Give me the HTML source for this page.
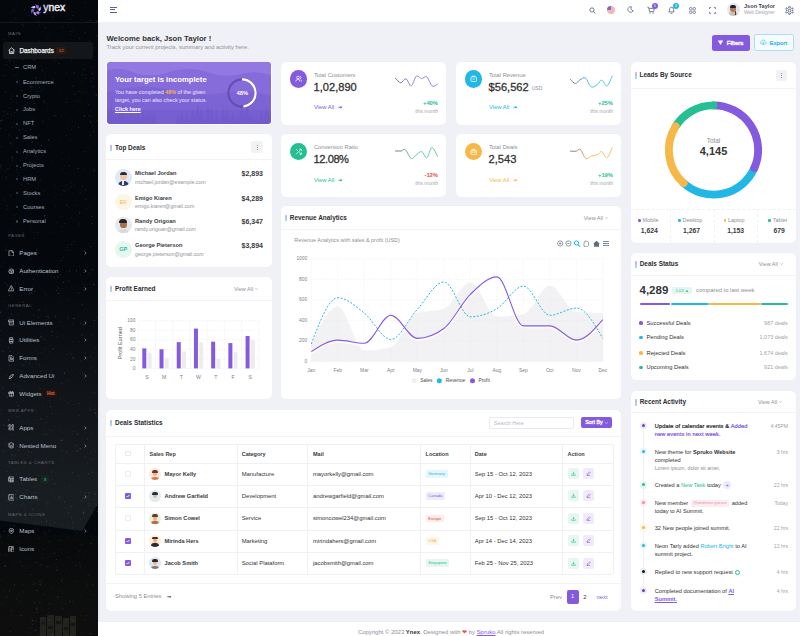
<!DOCTYPE html>
<html><head><meta charset="utf-8">
<style>
*{box-sizing:border-box;margin:0;padding:0}
html,body{width:800px;height:636px;overflow:hidden;background:#f0f1f7;font-family:"Liberation Sans",sans-serif;color:#333335}
.a{position:absolute}
#sb{position:absolute;left:0;top:0;width:100px;height:636px;background:#04070b;overflow:hidden}
#hd{position:absolute;left:98px;top:0;width:702px;height:21.5px;background:#fff}
.card{position:absolute;background:#fff;border-radius:5px;box-shadow:0 0 1px rgba(0,0,0,.05)}
.ct{position:absolute;font-weight:bold;font-size:6.45px;color:#2b2c30;white-space:nowrap}
.ct:before{content:"";position:absolute;left:-4.6px;top:1px;width:1.7px;height:6.4px;background:linear-gradient(#cdb6f6 0%,#c2b4f2 45%,#9edcf1 55%,#9edcf1 100%);border-radius:.5px}
.hr{position:absolute;left:0;right:0;height:1px;background:#f3f3f6}
.t{position:absolute;white-space:nowrap}
.va{position:absolute;font-size:5.5px;color:#8c9097;white-space:nowrap}
.nav{position:absolute;left:19px;font-size:6.2px;color:#bcc1cc;white-space:nowrap}
.sub{position:absolute;left:23px;font-size:5.75px;color:#a3aabb;white-space:nowrap}
.sub.act:before{width:4px;height:0.9px;left:-8px;top:3.2px;border-radius:0;background:#6b7080}
.sub:before{content:"";position:absolute;left:-7.2px;top:2.6px;width:2.2px;height:2.2px;border-radius:50%;background:#3f424a}
.lbl{position:absolute;left:8px;font-size:4.3px;letter-spacing:.5px;color:#656972;white-space:nowrap}
.chev{position:absolute;left:84px;font-size:5px;color:#8a8e96}
</style></head><body>
<div id="sb">
<div class="a" style="left:0;top:270px;width:98px;height:265px;background:linear-gradient(180deg,rgba(28,32,37,0) 0%,rgba(28,32,37,.5) 45%,rgba(28,33,37,.85) 85%,rgba(28,33,37,.85) 100%);clip-path:polygon(0 0,100% 0,100% 88%,84% 98.5%,0 94.5%)"></div>
<div class="a" style="left:0;top:535px;width:98px;height:101px;background:linear-gradient(180deg,rgba(14,14,12,.3) 0%,rgba(16,16,14,.7) 60%,rgba(16,16,14,.8) 100%)"></div>
<svg class="a" style="left:38px;top:614px" width="40" height="22" viewBox="0 0 40 22"><g fill="#2a2924" opacity=".75"><rect x="2" y="3" width="6" height="19"/><rect x="9" y="1" width="7" height="21"/><rect x="17" y="2" width="7" height="20"/><rect x="25" y="4" width="6" height="18"/><rect x="32" y="2" width="6" height="20"/></g><g fill="#14130f" opacity=".8"><rect x="3" y="8" width="4" height="3"/><rect x="10" y="12" width="5" height="3"/><rect x="18" y="7" width="5" height="3"/><rect x="26" y="13" width="4" height="3"/><rect x="33" y="9" width="4" height="3"/></g></svg>
<svg class="a" style="left:0;top:0" width="98" height="636" viewBox="0 0 98 636"><circle cx="31.7" cy="95.9" r="0.42" fill="#9aa4b8" opacity="0.25"/><circle cx="52.5" cy="232.6" r="0.53" fill="#9aa4b8" opacity="0.13"/><circle cx="3.7" cy="275.8" r="0.42" fill="#9aa4b8" opacity="0.13"/><circle cx="41.6" cy="525.9" r="0.46" fill="#9aa4b8" opacity="0.14"/><circle cx="61.5" cy="602.7" r="0.50" fill="#9aa4b8" opacity="0.24"/><circle cx="95.7" cy="29.6" r="0.47" fill="#9aa4b8" opacity="0.29"/><circle cx="14.1" cy="74.9" r="0.60" fill="#9aa4b8" opacity="0.18"/><circle cx="17.7" cy="369.9" r="0.49" fill="#9aa4b8" opacity="0.25"/><circle cx="53.7" cy="39.9" r="0.45" fill="#9aa4b8" opacity="0.13"/><circle cx="66.7" cy="271.9" r="0.55" fill="#9aa4b8" opacity="0.18"/><circle cx="44.4" cy="190.7" r="0.57" fill="#9aa4b8" opacity="0.28"/><circle cx="23.9" cy="365.3" r="0.62" fill="#9aa4b8" opacity="0.23"/><circle cx="71.5" cy="183.1" r="0.43" fill="#9aa4b8" opacity="0.32"/><circle cx="41.0" cy="481.5" r="0.52" fill="#9aa4b8" opacity="0.15"/><circle cx="3.8" cy="425.0" r="0.54" fill="#9aa4b8" opacity="0.27"/><circle cx="85.8" cy="199.5" r="0.55" fill="#9aa4b8" opacity="0.26"/><circle cx="56.8" cy="290.1" r="0.64" fill="#9aa4b8" opacity="0.29"/><circle cx="46.5" cy="422.4" r="0.58" fill="#9aa4b8" opacity="0.13"/><circle cx="63.4" cy="631.6" r="0.47" fill="#9aa4b8" opacity="0.28"/><circle cx="37.8" cy="425.3" r="0.52" fill="#9aa4b8" opacity="0.12"/><circle cx="16.5" cy="74.5" r="0.59" fill="#9aa4b8" opacity="0.13"/><circle cx="12.7" cy="157.5" r="0.62" fill="#9aa4b8" opacity="0.20"/><circle cx="7.9" cy="285.7" r="0.62" fill="#9aa4b8" opacity="0.23"/><circle cx="80.3" cy="549.5" r="0.50" fill="#9aa4b8" opacity="0.18"/><circle cx="35.2" cy="562.3" r="0.44" fill="#9aa4b8" opacity="0.31"/><circle cx="17.3" cy="147.5" r="0.52" fill="#9aa4b8" opacity="0.17"/><circle cx="57.7" cy="167.1" r="0.50" fill="#9aa4b8" opacity="0.12"/><circle cx="36.2" cy="360.2" r="0.57" fill="#9aa4b8" opacity="0.31"/><circle cx="50.5" cy="392.8" r="0.41" fill="#9aa4b8" opacity="0.26"/><circle cx="88.2" cy="496.1" r="0.60" fill="#9aa4b8" opacity="0.29"/><circle cx="38.5" cy="253.8" r="0.56" fill="#9aa4b8" opacity="0.14"/><circle cx="6.1" cy="42.8" r="0.44" fill="#9aa4b8" opacity="0.16"/><circle cx="33.3" cy="33.4" r="0.44" fill="#9aa4b8" opacity="0.12"/><circle cx="9.9" cy="231.3" r="0.62" fill="#9aa4b8" opacity="0.13"/><circle cx="60.2" cy="94.5" r="0.49" fill="#9aa4b8" opacity="0.17"/><circle cx="35.7" cy="78.1" r="0.65" fill="#9aa4b8" opacity="0.29"/><circle cx="45.7" cy="307.7" r="0.43" fill="#9aa4b8" opacity="0.14"/><circle cx="33.6" cy="168.4" r="0.44" fill="#9aa4b8" opacity="0.29"/><circle cx="2.3" cy="604.8" r="0.44" fill="#9aa4b8" opacity="0.23"/><circle cx="53.2" cy="17.2" r="0.64" fill="#9aa4b8" opacity="0.23"/><circle cx="84.6" cy="442.8" r="0.49" fill="#9aa4b8" opacity="0.17"/><circle cx="16.4" cy="491.0" r="0.59" fill="#9aa4b8" opacity="0.23"/><circle cx="32.3" cy="141.9" r="0.65" fill="#9aa4b8" opacity="0.28"/><circle cx="83.6" cy="512.7" r="0.58" fill="#9aa4b8" opacity="0.28"/><circle cx="22.2" cy="329.2" r="0.41" fill="#9aa4b8" opacity="0.19"/><circle cx="2.7" cy="177.7" r="0.57" fill="#9aa4b8" opacity="0.17"/><circle cx="93.7" cy="284.4" r="0.65" fill="#9aa4b8" opacity="0.31"/><circle cx="93.6" cy="231.9" r="0.46" fill="#9aa4b8" opacity="0.16"/><circle cx="19.3" cy="130.0" r="0.63" fill="#9aa4b8" opacity="0.24"/><circle cx="82.4" cy="304.9" r="0.60" fill="#9aa4b8" opacity="0.25"/><circle cx="8.3" cy="420.1" r="0.60" fill="#9aa4b8" opacity="0.30"/><circle cx="73.5" cy="304.0" r="0.60" fill="#9aa4b8" opacity="0.16"/><circle cx="32.6" cy="509.3" r="0.50" fill="#9aa4b8" opacity="0.31"/><circle cx="39.3" cy="602.2" r="0.44" fill="#9aa4b8" opacity="0.26"/><circle cx="12.4" cy="96.1" r="0.60" fill="#9aa4b8" opacity="0.30"/><circle cx="14.3" cy="525.7" r="0.56" fill="#9aa4b8" opacity="0.32"/><circle cx="34.3" cy="348.9" r="0.40" fill="#9aa4b8" opacity="0.15"/><circle cx="95.1" cy="413.2" r="0.63" fill="#9aa4b8" opacity="0.23"/><circle cx="42.5" cy="554.4" r="0.45" fill="#9aa4b8" opacity="0.29"/><circle cx="24.7" cy="186.3" r="0.55" fill="#9aa4b8" opacity="0.17"/><circle cx="25.4" cy="266.5" r="0.63" fill="#9aa4b8" opacity="0.15"/><circle cx="34.7" cy="291.4" r="0.63" fill="#9aa4b8" opacity="0.24"/><circle cx="41.2" cy="583.7" r="0.53" fill="#9aa4b8" opacity="0.22"/><circle cx="51.3" cy="11.9" r="0.45" fill="#9aa4b8" opacity="0.21"/><circle cx="0.4" cy="508.3" r="0.52" fill="#9aa4b8" opacity="0.15"/><circle cx="71.1" cy="353.9" r="0.53" fill="#9aa4b8" opacity="0.19"/><circle cx="54.4" cy="498.8" r="0.54" fill="#9aa4b8" opacity="0.14"/><circle cx="24.4" cy="176.1" r="0.53" fill="#9aa4b8" opacity="0.27"/><circle cx="55.0" cy="483.4" r="0.51" fill="#9aa4b8" opacity="0.30"/><circle cx="60.0" cy="321.5" r="0.57" fill="#9aa4b8" opacity="0.22"/><circle cx="44.3" cy="339.2" r="0.64" fill="#9aa4b8" opacity="0.22"/><circle cx="68.5" cy="557.5" r="0.46" fill="#9aa4b8" opacity="0.31"/><circle cx="54.8" cy="599.9" r="0.43" fill="#9aa4b8" opacity="0.29"/><circle cx="11.9" cy="281.2" r="0.46" fill="#9aa4b8" opacity="0.13"/><circle cx="7.2" cy="425.8" r="0.62" fill="#9aa4b8" opacity="0.28"/><circle cx="15.1" cy="455.5" r="0.44" fill="#9aa4b8" opacity="0.25"/><circle cx="86.5" cy="615.4" r="0.64" fill="#9aa4b8" opacity="0.16"/><circle cx="39.0" cy="309.9" r="0.61" fill="#9aa4b8" opacity="0.32"/><circle cx="15.8" cy="274.4" r="0.48" fill="#9aa4b8" opacity="0.22"/><circle cx="19.2" cy="202.6" r="0.40" fill="#9aa4b8" opacity="0.26"/><circle cx="54.3" cy="280.1" r="0.48" fill="#9aa4b8" opacity="0.12"/><circle cx="61.1" cy="325.8" r="0.65" fill="#9aa4b8" opacity="0.13"/><circle cx="77.3" cy="618.0" r="0.47" fill="#9aa4b8" opacity="0.14"/><circle cx="3.9" cy="495.4" r="0.43" fill="#9aa4b8" opacity="0.17"/><circle cx="41.4" cy="579.7" r="0.46" fill="#9aa4b8" opacity="0.28"/><circle cx="14.6" cy="584.6" r="0.58" fill="#9aa4b8" opacity="0.23"/><circle cx="8.8" cy="36.6" r="0.51" fill="#9aa4b8" opacity="0.26"/><circle cx="7.1" cy="596.8" r="0.60" fill="#9aa4b8" opacity="0.25"/><circle cx="8.2" cy="544.6" r="0.62" fill="#9aa4b8" opacity="0.13"/><circle cx="44.5" cy="215.7" r="0.63" fill="#9aa4b8" opacity="0.23"/><circle cx="26.3" cy="82.2" r="0.46" fill="#9aa4b8" opacity="0.23"/><circle cx="10.7" cy="102.7" r="0.45" fill="#9aa4b8" opacity="0.13"/><circle cx="30.6" cy="194.0" r="0.47" fill="#9aa4b8" opacity="0.27"/><circle cx="49.0" cy="113.1" r="0.40" fill="#9aa4b8" opacity="0.19"/><circle cx="24.5" cy="9.8" r="0.54" fill="#9aa4b8" opacity="0.27"/><circle cx="18.6" cy="301.9" r="0.43" fill="#9aa4b8" opacity="0.31"/><circle cx="80.3" cy="274.9" r="0.61" fill="#9aa4b8" opacity="0.22"/><circle cx="38.5" cy="322.3" r="0.65" fill="#9aa4b8" opacity="0.26"/><circle cx="33.6" cy="529.3" r="0.56" fill="#9aa4b8" opacity="0.26"/><circle cx="39.7" cy="221.0" r="0.43" fill="#9aa4b8" opacity="0.13"/><circle cx="6.9" cy="471.2" r="0.44" fill="#9aa4b8" opacity="0.17"/><circle cx="8.3" cy="535.0" r="0.57" fill="#9aa4b8" opacity="0.29"/><circle cx="27.6" cy="154.0" r="0.51" fill="#9aa4b8" opacity="0.18"/><circle cx="15.4" cy="283.5" r="0.64" fill="#9aa4b8" opacity="0.17"/><circle cx="95.3" cy="347.9" r="0.64" fill="#9aa4b8" opacity="0.17"/><circle cx="30.3" cy="226.8" r="0.50" fill="#9aa4b8" opacity="0.12"/><circle cx="46.5" cy="319.8" r="0.53" fill="#9aa4b8" opacity="0.16"/><circle cx="0.5" cy="168.0" r="0.50" fill="#9aa4b8" opacity="0.14"/><circle cx="4.1" cy="14.3" r="0.46" fill="#9aa4b8" opacity="0.18"/><circle cx="57.4" cy="336.6" r="0.56" fill="#9aa4b8" opacity="0.27"/><circle cx="70.2" cy="559.1" r="0.48" fill="#9aa4b8" opacity="0.20"/><circle cx="96.5" cy="95.1" r="0.56" fill="#9aa4b8" opacity="0.26"/><circle cx="4.3" cy="531.2" r="0.56" fill="#9aa4b8" opacity="0.30"/><circle cx="71.9" cy="516.6" r="0.53" fill="#9aa4b8" opacity="0.15"/><circle cx="49.4" cy="531.0" r="0.61" fill="#9aa4b8" opacity="0.28"/><circle cx="57.2" cy="567.8" r="0.57" fill="#9aa4b8" opacity="0.26"/><circle cx="22.5" cy="19.8" r="0.49" fill="#9aa4b8" opacity="0.15"/><circle cx="10.3" cy="531.6" r="0.56" fill="#9aa4b8" opacity="0.23"/><circle cx="61.4" cy="432.9" r="0.40" fill="#9aa4b8" opacity="0.22"/><circle cx="78.2" cy="475.9" r="0.53" fill="#9aa4b8" opacity="0.22"/><circle cx="64.6" cy="42.0" r="0.46" fill="#9aa4b8" opacity="0.27"/><circle cx="7.3" cy="168.9" r="0.45" fill="#9aa4b8" opacity="0.27"/><circle cx="72.5" cy="620.6" r="0.50" fill="#9aa4b8" opacity="0.22"/><circle cx="46.9" cy="434.8" r="0.55" fill="#9aa4b8" opacity="0.27"/><circle cx="63.0" cy="49.3" r="0.46" fill="#9aa4b8" opacity="0.15"/><circle cx="72.8" cy="193.6" r="0.40" fill="#9aa4b8" opacity="0.23"/><circle cx="5.9" cy="170.9" r="0.57" fill="#9aa4b8" opacity="0.25"/><circle cx="66.2" cy="185.0" r="0.52" fill="#9aa4b8" opacity="0.22"/><circle cx="45.7" cy="75.4" r="0.45" fill="#9aa4b8" opacity="0.30"/><circle cx="95.9" cy="595.5" r="0.51" fill="#9aa4b8" opacity="0.12"/><circle cx="80.3" cy="615.7" r="0.47" fill="#9aa4b8" opacity="0.21"/><circle cx="20.6" cy="601.4" r="0.55" fill="#9aa4b8" opacity="0.16"/><circle cx="13.9" cy="333.3" r="0.43" fill="#9aa4b8" opacity="0.31"/><circle cx="80.4" cy="323.6" r="0.58" fill="#9aa4b8" opacity="0.30"/><circle cx="22.7" cy="570.9" r="0.41" fill="#9aa4b8" opacity="0.22"/><circle cx="0.4" cy="312.7" r="0.48" fill="#9aa4b8" opacity="0.21"/><circle cx="13.8" cy="218.8" r="0.61" fill="#9aa4b8" opacity="0.18"/><circle cx="0.2" cy="477.5" r="0.43" fill="#9aa4b8" opacity="0.29"/><circle cx="90.8" cy="453.5" r="0.47" fill="#9aa4b8" opacity="0.30"/><circle cx="36.5" cy="249.9" r="0.55" fill="#9aa4b8" opacity="0.32"/><circle cx="35.3" cy="272.2" r="0.41" fill="#9aa4b8" opacity="0.18"/><circle cx="10.0" cy="530.9" r="0.63" fill="#9aa4b8" opacity="0.18"/><circle cx="24.4" cy="169.0" r="0.45" fill="#9aa4b8" opacity="0.22"/><circle cx="36.6" cy="608.1" r="0.60" fill="#9aa4b8" opacity="0.30"/><circle cx="61.8" cy="580.9" r="0.54" fill="#9aa4b8" opacity="0.31"/><circle cx="70.5" cy="31.5" r="0.51" fill="#9aa4b8" opacity="0.27"/><circle cx="73.8" cy="409.9" r="0.41" fill="#9aa4b8" opacity="0.18"/><circle cx="90.8" cy="81.0" r="0.49" fill="#9aa4b8" opacity="0.21"/><circle cx="29.2" cy="470.0" r="0.47" fill="#9aa4b8" opacity="0.32"/><circle cx="64.3" cy="191.3" r="0.50" fill="#9aa4b8" opacity="0.23"/><circle cx="16.4" cy="102.8" r="0.63" fill="#9aa4b8" opacity="0.16"/><circle cx="48.7" cy="139.9" r="0.65" fill="#9aa4b8" opacity="0.30"/><circle cx="44.1" cy="88.8" r="0.42" fill="#9aa4b8" opacity="0.16"/><circle cx="33.5" cy="57.9" r="0.46" fill="#9aa4b8" opacity="0.17"/><circle cx="55.8" cy="564.3" r="0.50" fill="#9aa4b8" opacity="0.27"/><circle cx="40.6" cy="333.4" r="0.48" fill="#9aa4b8" opacity="0.20"/><circle cx="6.1" cy="176.5" r="0.43" fill="#9aa4b8" opacity="0.31"/><circle cx="49.3" cy="400.4" r="0.45" fill="#9aa4b8" opacity="0.29"/><circle cx="26.6" cy="158.0" r="0.51" fill="#9aa4b8" opacity="0.20"/><circle cx="93.5" cy="539.8" r="0.41" fill="#9aa4b8" opacity="0.29"/><circle cx="3.2" cy="451.2" r="0.52" fill="#9aa4b8" opacity="0.30"/><circle cx="57.5" cy="0.1" r="0.63" fill="#9aa4b8" opacity="0.20"/><circle cx="80.9" cy="544.1" r="0.46" fill="#9aa4b8" opacity="0.31"/><circle cx="10.7" cy="98.2" r="0.57" fill="#9aa4b8" opacity="0.22"/><circle cx="92.3" cy="459.0" r="0.59" fill="#9aa4b8" opacity="0.25"/><circle cx="44.8" cy="350.8" r="0.60" fill="#9aa4b8" opacity="0.13"/><circle cx="22.8" cy="585.1" r="0.48" fill="#9aa4b8" opacity="0.25"/><circle cx="12.5" cy="160.1" r="0.57" fill="#9aa4b8" opacity="0.25"/><circle cx="11.0" cy="44.7" r="0.55" fill="#9aa4b8" opacity="0.22"/><circle cx="38.0" cy="142.2" r="0.40" fill="#9aa4b8" opacity="0.24"/><circle cx="29.5" cy="293.0" r="0.56" fill="#9aa4b8" opacity="0.31"/><circle cx="86.6" cy="302.3" r="0.46" fill="#9aa4b8" opacity="0.17"/><circle cx="94.1" cy="448.2" r="0.41" fill="#9aa4b8" opacity="0.18"/><circle cx="48.8" cy="429.0" r="0.46" fill="#9aa4b8" opacity="0.20"/><circle cx="65.4" cy="588.4" r="0.41" fill="#9aa4b8" opacity="0.17"/><circle cx="33.1" cy="267.5" r="0.45" fill="#9aa4b8" opacity="0.26"/><circle cx="78.1" cy="470.1" r="0.45" fill="#9aa4b8" opacity="0.22"/><circle cx="95.0" cy="198.3" r="0.46" fill="#9aa4b8" opacity="0.28"/><circle cx="21.7" cy="483.7" r="0.64" fill="#9aa4b8" opacity="0.18"/><circle cx="48.6" cy="119.1" r="0.50" fill="#9aa4b8" opacity="0.16"/><circle cx="65.2" cy="603.4" r="0.50" fill="#9aa4b8" opacity="0.15"/><circle cx="20.9" cy="619.5" r="0.41" fill="#9aa4b8" opacity="0.15"/><circle cx="5.9" cy="250.2" r="0.62" fill="#9aa4b8" opacity="0.30"/><circle cx="71.8" cy="634.4" r="0.48" fill="#9aa4b8" opacity="0.31"/><circle cx="18.2" cy="595.2" r="0.41" fill="#9aa4b8" opacity="0.27"/><circle cx="65.1" cy="240.8" r="0.48" fill="#9aa4b8" opacity="0.19"/><circle cx="16.6" cy="1.8" r="0.49" fill="#9aa4b8" opacity="0.18"/><circle cx="93.6" cy="78.7" r="0.45" fill="#9aa4b8" opacity="0.31"/><circle cx="34.9" cy="522.5" r="0.51" fill="#9aa4b8" opacity="0.28"/><circle cx="4.8" cy="301.1" r="0.63" fill="#9aa4b8" opacity="0.19"/><circle cx="18.9" cy="231.7" r="0.41" fill="#9aa4b8" opacity="0.30"/><circle cx="40.3" cy="516.3" r="0.41" fill="#9aa4b8" opacity="0.27"/><circle cx="3.4" cy="39.8" r="0.46" fill="#9aa4b8" opacity="0.30"/><circle cx="73.2" cy="571.5" r="0.47" fill="#9aa4b8" opacity="0.19"/><circle cx="93.9" cy="392.4" r="0.58" fill="#9aa4b8" opacity="0.17"/><circle cx="31.0" cy="175.3" r="0.59" fill="#9aa4b8" opacity="0.12"/><circle cx="89.8" cy="403.2" r="0.41" fill="#9aa4b8" opacity="0.31"/><circle cx="22.9" cy="302.2" r="0.64" fill="#9aa4b8" opacity="0.31"/><circle cx="37.9" cy="159.7" r="0.52" fill="#9aa4b8" opacity="0.21"/><circle cx="91.0" cy="116.3" r="0.58" fill="#9aa4b8" opacity="0.28"/><circle cx="80.6" cy="491.5" r="0.48" fill="#9aa4b8" opacity="0.24"/><circle cx="31.3" cy="230.1" r="0.42" fill="#9aa4b8" opacity="0.28"/><circle cx="19.3" cy="478.8" r="0.42" fill="#9aa4b8" opacity="0.17"/><circle cx="3.3" cy="351.5" r="0.65" fill="#9aa4b8" opacity="0.19"/><circle cx="86.6" cy="628.3" r="0.42" fill="#9aa4b8" opacity="0.17"/><circle cx="9.4" cy="317.0" r="0.51" fill="#9aa4b8" opacity="0.26"/><circle cx="23.0" cy="265.1" r="0.57" fill="#9aa4b8" opacity="0.24"/><circle cx="73.3" cy="538.7" r="0.43" fill="#9aa4b8" opacity="0.25"/><circle cx="82.4" cy="186.8" r="0.49" fill="#9aa4b8" opacity="0.23"/><circle cx="72.3" cy="126.7" r="0.46" fill="#9aa4b8" opacity="0.17"/><circle cx="15.0" cy="562.3" r="0.48" fill="#9aa4b8" opacity="0.24"/><circle cx="38.8" cy="631.2" r="0.46" fill="#9aa4b8" opacity="0.22"/><circle cx="79.2" cy="415.5" r="0.43" fill="#9aa4b8" opacity="0.32"/><circle cx="46.5" cy="520.9" r="0.63" fill="#9aa4b8" opacity="0.29"/><circle cx="4.0" cy="186.8" r="0.45" fill="#9aa4b8" opacity="0.14"/><circle cx="95.4" cy="370.9" r="0.49" fill="#9aa4b8" opacity="0.31"/><circle cx="84.9" cy="285.6" r="0.59" fill="#9aa4b8" opacity="0.17"/><circle cx="92.7" cy="67.3" r="0.55" fill="#9aa4b8" opacity="0.24"/><circle cx="21.3" cy="234.5" r="0.45" fill="#9aa4b8" opacity="0.15"/><circle cx="25.0" cy="381.2" r="0.45" fill="#9aa4b8" opacity="0.25"/><circle cx="1.1" cy="208.1" r="0.45" fill="#9aa4b8" opacity="0.26"/><circle cx="30.6" cy="129.4" r="0.54" fill="#9aa4b8" opacity="0.28"/><circle cx="6.2" cy="64.5" r="0.54" fill="#9aa4b8" opacity="0.20"/><circle cx="62.6" cy="58.0" r="0.57" fill="#9aa4b8" opacity="0.15"/><circle cx="40.2" cy="180.2" r="0.64" fill="#9aa4b8" opacity="0.18"/><circle cx="30.6" cy="360.3" r="0.50" fill="#9aa4b8" opacity="0.19"/><circle cx="84.7" cy="633.9" r="0.45" fill="#9aa4b8" opacity="0.19"/><circle cx="71.3" cy="129.5" r="0.63" fill="#9aa4b8" opacity="0.12"/><circle cx="41.5" cy="521.8" r="0.62" fill="#9aa4b8" opacity="0.20"/><circle cx="45.2" cy="103.4" r="0.54" fill="#9aa4b8" opacity="0.12"/><circle cx="62.8" cy="578.6" r="0.56" fill="#9aa4b8" opacity="0.14"/><circle cx="36.3" cy="320.8" r="0.47" fill="#9aa4b8" opacity="0.15"/><circle cx="51.1" cy="588.6" r="0.52" fill="#9aa4b8" opacity="0.14"/><circle cx="78.9" cy="614.9" r="0.43" fill="#9aa4b8" opacity="0.16"/><circle cx="92.4" cy="620.4" r="0.41" fill="#9aa4b8" opacity="0.22"/><circle cx="90.8" cy="246.7" r="0.56" fill="#9aa4b8" opacity="0.30"/><circle cx="80.8" cy="101.9" r="0.46" fill="#9aa4b8" opacity="0.28"/><circle cx="39.6" cy="538.3" r="0.45" fill="#9aa4b8" opacity="0.29"/><circle cx="21.4" cy="254.2" r="0.50" fill="#9aa4b8" opacity="0.22"/><circle cx="12.1" cy="157.1" r="0.62" fill="#9aa4b8" opacity="0.26"/><circle cx="4.0" cy="357.7" r="0.41" fill="#9aa4b8" opacity="0.27"/><circle cx="82.1" cy="74.9" r="0.54" fill="#9aa4b8" opacity="0.24"/><circle cx="61.5" cy="194.8" r="0.55" fill="#9aa4b8" opacity="0.20"/><circle cx="41.7" cy="419.0" r="0.51" fill="#9aa4b8" opacity="0.21"/><circle cx="2.3" cy="393.6" r="0.46" fill="#9aa4b8" opacity="0.22"/><circle cx="74.8" cy="496.1" r="0.44" fill="#9aa4b8" opacity="0.21"/><circle cx="46.4" cy="68.1" r="0.51" fill="#9aa4b8" opacity="0.15"/><circle cx="9.0" cy="281.1" r="0.41" fill="#9aa4b8" opacity="0.22"/><circle cx="62.4" cy="52.3" r="0.59" fill="#9aa4b8" opacity="0.27"/><circle cx="50.1" cy="34.5" r="0.49" fill="#9aa4b8" opacity="0.22"/><circle cx="93.2" cy="86.6" r="0.65" fill="#9aa4b8" opacity="0.29"/><circle cx="71.7" cy="518.3" r="0.65" fill="#9aa4b8" opacity="0.16"/><circle cx="48.2" cy="608.4" r="0.44" fill="#9aa4b8" opacity="0.30"/><circle cx="77.3" cy="591.9" r="0.49" fill="#9aa4b8" opacity="0.13"/><circle cx="74.1" cy="101.0" r="0.47" fill="#9aa4b8" opacity="0.30"/><circle cx="79.9" cy="91.3" r="0.63" fill="#9aa4b8" opacity="0.22"/><circle cx="20.4" cy="167.2" r="0.48" fill="#9aa4b8" opacity="0.22"/><circle cx="3.6" cy="115.8" r="0.63" fill="#9aa4b8" opacity="0.15"/><circle cx="66.6" cy="569.5" r="0.60" fill="#9aa4b8" opacity="0.15"/><circle cx="11.3" cy="337.5" r="0.49" fill="#9aa4b8" opacity="0.25"/><circle cx="85.5" cy="353.1" r="0.62" fill="#9aa4b8" opacity="0.24"/><circle cx="10.3" cy="631.5" r="0.50" fill="#9aa4b8" opacity="0.25"/><circle cx="78.2" cy="168.4" r="0.54" fill="#9aa4b8" opacity="0.32"/><circle cx="35.3" cy="486.3" r="0.44" fill="#9aa4b8" opacity="0.21"/><circle cx="72.9" cy="30.7" r="0.46" fill="#9aa4b8" opacity="0.28"/><circle cx="62.6" cy="625.9" r="0.57" fill="#9aa4b8" opacity="0.24"/><circle cx="30.6" cy="1.1" r="0.44" fill="#9aa4b8" opacity="0.13"/><circle cx="60.4" cy="274.9" r="0.62" fill="#9aa4b8" opacity="0.22"/><circle cx="12.9" cy="144.5" r="0.41" fill="#9aa4b8" opacity="0.25"/><circle cx="0.3" cy="225.8" r="0.49" fill="#9aa4b8" opacity="0.14"/><circle cx="22.0" cy="371.2" r="0.45" fill="#9aa4b8" opacity="0.24"/><circle cx="61.1" cy="302.0" r="0.63" fill="#9aa4b8" opacity="0.15"/><circle cx="23.9" cy="95.0" r="0.56" fill="#9aa4b8" opacity="0.14"/><circle cx="85.4" cy="497.5" r="0.47" fill="#9aa4b8" opacity="0.20"/><circle cx="1.1" cy="410.2" r="0.49" fill="#9aa4b8" opacity="0.23"/><circle cx="63.3" cy="282.2" r="0.58" fill="#9aa4b8" opacity="0.31"/><circle cx="24.4" cy="574.6" r="0.53" fill="#9aa4b8" opacity="0.13"/><circle cx="39.8" cy="151.2" r="0.59" fill="#9aa4b8" opacity="0.13"/><circle cx="1.2" cy="350.4" r="0.44" fill="#9aa4b8" opacity="0.31"/><circle cx="19.6" cy="386.7" r="0.56" fill="#9aa4b8" opacity="0.22"/><circle cx="79.7" cy="111.1" r="0.48" fill="#9aa4b8" opacity="0.18"/><circle cx="4.8" cy="565.6" r="0.58" fill="#9aa4b8" opacity="0.28"/><circle cx="0.6" cy="537.1" r="0.52" fill="#9aa4b8" opacity="0.27"/><circle cx="72.7" cy="287.8" r="0.43" fill="#9aa4b8" opacity="0.17"/><circle cx="22.8" cy="24.7" r="0.59" fill="#9aa4b8" opacity="0.19"/><circle cx="68.1" cy="537.6" r="0.47" fill="#9aa4b8" opacity="0.26"/><circle cx="54.3" cy="277.3" r="0.53" fill="#9aa4b8" opacity="0.28"/><circle cx="26.0" cy="408.3" r="0.45" fill="#9aa4b8" opacity="0.31"/><circle cx="86.2" cy="9.7" r="0.46" fill="#9aa4b8" opacity="0.17"/><circle cx="72.9" cy="600.8" r="0.48" fill="#9aa4b8" opacity="0.27"/><circle cx="86.3" cy="209.0" r="0.63" fill="#9aa4b8" opacity="0.17"/><circle cx="61.8" cy="440.6" r="0.64" fill="#9aa4b8" opacity="0.25"/><circle cx="46.0" cy="534.1" r="0.61" fill="#9aa4b8" opacity="0.26"/><circle cx="42.8" cy="460.9" r="0.48" fill="#9aa4b8" opacity="0.23"/><circle cx="20.8" cy="396.0" r="0.63" fill="#9aa4b8" opacity="0.14"/><circle cx="14.2" cy="17.1" r="0.63" fill="#9aa4b8" opacity="0.14"/><circle cx="33.8" cy="90.2" r="0.41" fill="#9aa4b8" opacity="0.13"/><circle cx="67.9" cy="403.1" r="0.58" fill="#9aa4b8" opacity="0.26"/><circle cx="6.4" cy="375.5" r="0.60" fill="#9aa4b8" opacity="0.19"/><circle cx="80.3" cy="566.9" r="0.62" fill="#9aa4b8" opacity="0.13"/><circle cx="89.6" cy="600.6" r="0.45" fill="#9aa4b8" opacity="0.14"/><circle cx="11.0" cy="21.9" r="0.60" fill="#9aa4b8" opacity="0.29"/><circle cx="62.1" cy="524.7" r="0.47" fill="#9aa4b8" opacity="0.25"/><circle cx="9.8" cy="62.2" r="0.45" fill="#9aa4b8" opacity="0.27"/><circle cx="31.3" cy="269.5" r="0.46" fill="#9aa4b8" opacity="0.12"/><circle cx="27.7" cy="455.2" r="0.48" fill="#9aa4b8" opacity="0.19"/><circle cx="94.5" cy="320.4" r="0.55" fill="#9aa4b8" opacity="0.29"/><circle cx="3.0" cy="262.6" r="0.59" fill="#9aa4b8" opacity="0.21"/><circle cx="34.0" cy="448.2" r="0.45" fill="#9aa4b8" opacity="0.23"/><circle cx="84.5" cy="57.8" r="0.44" fill="#9aa4b8" opacity="0.28"/><circle cx="0.1" cy="128.5" r="0.64" fill="#9aa4b8" opacity="0.27"/><circle cx="0.4" cy="312.2" r="0.60" fill="#9aa4b8" opacity="0.22"/><circle cx="18.1" cy="314.6" r="0.61" fill="#9aa4b8" opacity="0.19"/><circle cx="25.5" cy="600.3" r="0.45" fill="#9aa4b8" opacity="0.18"/><circle cx="68.5" cy="316.9" r="0.56" fill="#9aa4b8" opacity="0.14"/><circle cx="7.9" cy="501.1" r="0.60" fill="#9aa4b8" opacity="0.26"/><circle cx="61.5" cy="226.2" r="0.50" fill="#9aa4b8" opacity="0.20"/><circle cx="87.3" cy="54.8" r="0.41" fill="#9aa4b8" opacity="0.30"/><circle cx="20.2" cy="167.4" r="0.53" fill="#9aa4b8" opacity="0.30"/><circle cx="37.2" cy="562.2" r="0.52" fill="#9aa4b8" opacity="0.17"/><circle cx="52.1" cy="479.8" r="0.56" fill="#9aa4b8" opacity="0.27"/><circle cx="34.2" cy="207.8" r="0.61" fill="#9aa4b8" opacity="0.15"/><circle cx="64.9" cy="471.9" r="0.51" fill="#9aa4b8" opacity="0.15"/><circle cx="75.8" cy="368.4" r="0.52" fill="#9aa4b8" opacity="0.15"/><circle cx="86.7" cy="151.3" r="0.48" fill="#9aa4b8" opacity="0.16"/><circle cx="68.9" cy="536.6" r="0.44" fill="#9aa4b8" opacity="0.15"/><circle cx="24.3" cy="207.7" r="0.44" fill="#9aa4b8" opacity="0.22"/><circle cx="32.2" cy="120.4" r="0.58" fill="#9aa4b8" opacity="0.32"/><circle cx="10.0" cy="612.1" r="0.50" fill="#9aa4b8" opacity="0.14"/><circle cx="96.4" cy="505.5" r="0.51" fill="#9aa4b8" opacity="0.27"/><circle cx="19.2" cy="405.8" r="0.45" fill="#9aa4b8" opacity="0.14"/><circle cx="38.1" cy="21.6" r="0.60" fill="#9aa4b8" opacity="0.20"/><circle cx="68.0" cy="318.3" r="0.52" fill="#9aa4b8" opacity="0.25"/><circle cx="13.9" cy="384.0" r="0.59" fill="#9aa4b8" opacity="0.20"/><circle cx="89.0" cy="273.5" r="0.59" fill="#9aa4b8" opacity="0.23"/><circle cx="41.3" cy="145.4" r="0.62" fill="#9aa4b8" opacity="0.26"/><circle cx="75.9" cy="445.2" r="0.57" fill="#9aa4b8" opacity="0.29"/><circle cx="62.9" cy="288.7" r="0.56" fill="#9aa4b8" opacity="0.18"/><circle cx="9.6" cy="266.9" r="0.58" fill="#9aa4b8" opacity="0.28"/><circle cx="61.7" cy="159.0" r="0.51" fill="#9aa4b8" opacity="0.20"/><circle cx="60.9" cy="260.3" r="0.63" fill="#9aa4b8" opacity="0.26"/><circle cx="17.9" cy="416.3" r="0.50" fill="#9aa4b8" opacity="0.28"/><circle cx="48.0" cy="619.9" r="0.54" fill="#9aa4b8" opacity="0.13"/><circle cx="15.8" cy="497.2" r="0.53" fill="#9aa4b8" opacity="0.31"/><circle cx="9.9" cy="365.4" r="0.58" fill="#9aa4b8" opacity="0.23"/><circle cx="50.2" cy="406.6" r="0.53" fill="#9aa4b8" opacity="0.29"/><circle cx="40.2" cy="602.9" r="0.57" fill="#9aa4b8" opacity="0.16"/><circle cx="38.5" cy="485.1" r="0.65" fill="#9aa4b8" opacity="0.14"/><circle cx="34.8" cy="36.0" r="0.50" fill="#9aa4b8" opacity="0.17"/><circle cx="1.3" cy="266.2" r="0.57" fill="#9aa4b8" opacity="0.20"/><circle cx="34.5" cy="168.6" r="0.59" fill="#9aa4b8" opacity="0.16"/><circle cx="92.1" cy="335.2" r="0.60" fill="#9aa4b8" opacity="0.16"/><circle cx="38.4" cy="134.8" r="0.59" fill="#9aa4b8" opacity="0.15"/><circle cx="79.3" cy="403.4" r="0.54" fill="#9aa4b8" opacity="0.21"/><circle cx="22.1" cy="613.0" r="0.56" fill="#9aa4b8" opacity="0.19"/><circle cx="80.2" cy="519.1" r="0.47" fill="#9aa4b8" opacity="0.21"/><circle cx="53.7" cy="79.6" r="0.49" fill="#9aa4b8" opacity="0.29"/><circle cx="83.4" cy="170.1" r="0.46" fill="#9aa4b8" opacity="0.20"/><circle cx="41.8" cy="118.2" r="0.58" fill="#9aa4b8" opacity="0.12"/><circle cx="27.6" cy="155.8" r="0.52" fill="#9aa4b8" opacity="0.18"/><circle cx="42.0" cy="405.3" r="0.49" fill="#9aa4b8" opacity="0.25"/><circle cx="91.0" cy="543.4" r="0.61" fill="#9aa4b8" opacity="0.13"/><circle cx="88.8" cy="498.6" r="0.61" fill="#9aa4b8" opacity="0.15"/><circle cx="62.0" cy="9.5" r="0.64" fill="#9aa4b8" opacity="0.12"/><circle cx="64.3" cy="159.0" r="0.44" fill="#9aa4b8" opacity="0.14"/><circle cx="22.9" cy="493.7" r="0.44" fill="#9aa4b8" opacity="0.19"/><circle cx="88.6" cy="503.5" r="0.62" fill="#9aa4b8" opacity="0.15"/><circle cx="59.6" cy="496.9" r="0.62" fill="#9aa4b8" opacity="0.25"/><circle cx="77.2" cy="533.5" r="0.57" fill="#9aa4b8" opacity="0.16"/><circle cx="52.0" cy="471.9" r="0.62" fill="#9aa4b8" opacity="0.21"/><circle cx="54.4" cy="168.2" r="0.43" fill="#9aa4b8" opacity="0.17"/><circle cx="48.3" cy="37.2" r="0.44" fill="#9aa4b8" opacity="0.21"/><circle cx="48.2" cy="316.8" r="0.62" fill="#9aa4b8" opacity="0.23"/><circle cx="0.6" cy="534.7" r="0.54" fill="#9aa4b8" opacity="0.21"/><circle cx="65.2" cy="534.6" r="0.50" fill="#9aa4b8" opacity="0.19"/><circle cx="94.1" cy="48.0" r="0.56" fill="#9aa4b8" opacity="0.25"/><circle cx="2.8" cy="387.8" r="0.63" fill="#9aa4b8" opacity="0.26"/><circle cx="32.4" cy="624.4" r="0.52" fill="#9aa4b8" opacity="0.22"/><circle cx="88.0" cy="21.6" r="0.56" fill="#9aa4b8" opacity="0.26"/><circle cx="33.2" cy="548.0" r="0.52" fill="#9aa4b8" opacity="0.19"/><circle cx="51.5" cy="490.1" r="0.51" fill="#9aa4b8" opacity="0.16"/><circle cx="41.4" cy="352.4" r="0.47" fill="#9aa4b8" opacity="0.29"/><circle cx="81.1" cy="256.8" r="0.47" fill="#9aa4b8" opacity="0.22"/><circle cx="49.6" cy="620.1" r="0.60" fill="#9aa4b8" opacity="0.25"/><circle cx="32.4" cy="201.7" r="0.55" fill="#9aa4b8" opacity="0.18"/><circle cx="62.2" cy="498.8" r="0.58" fill="#9aa4b8" opacity="0.13"/><circle cx="86.8" cy="346.9" r="0.48" fill="#9aa4b8" opacity="0.13"/><circle cx="0.6" cy="120.8" r="0.55" fill="#9aa4b8" opacity="0.30"/><circle cx="64.5" cy="501.8" r="0.55" fill="#9aa4b8" opacity="0.30"/><circle cx="60.4" cy="398.7" r="0.55" fill="#9aa4b8" opacity="0.26"/><circle cx="66.7" cy="135.2" r="0.51" fill="#9aa4b8" opacity="0.25"/><circle cx="74.7" cy="64.5" r="0.41" fill="#9aa4b8" opacity="0.16"/><circle cx="75.9" cy="581.4" r="0.49" fill="#9aa4b8" opacity="0.25"/><circle cx="80.6" cy="500.2" r="0.46" fill="#9aa4b8" opacity="0.23"/><circle cx="29.6" cy="268.3" r="0.51" fill="#9aa4b8" opacity="0.18"/><circle cx="62.9" cy="593.9" r="0.54" fill="#9aa4b8" opacity="0.13"/><circle cx="3.9" cy="75.6" r="0.54" fill="#9aa4b8" opacity="0.28"/><circle cx="90.0" cy="284.0" r="0.50" fill="#9aa4b8" opacity="0.12"/><circle cx="58.0" cy="596.4" r="0.52" fill="#9aa4b8" opacity="0.32"/><circle cx="40.4" cy="64.9" r="0.45" fill="#9aa4b8" opacity="0.25"/><circle cx="14.9" cy="9.9" r="0.57" fill="#9aa4b8" opacity="0.12"/><circle cx="11.9" cy="614.6" r="0.62" fill="#9aa4b8" opacity="0.14"/><circle cx="12.6" cy="11.3" r="0.46" fill="#9aa4b8" opacity="0.26"/><circle cx="71.9" cy="119.2" r="0.59" fill="#9aa4b8" opacity="0.13"/><circle cx="69.9" cy="544.1" r="0.42" fill="#9aa4b8" opacity="0.27"/><circle cx="61.6" cy="451.1" r="0.63" fill="#9aa4b8" opacity="0.21"/><circle cx="24.9" cy="613.3" r="0.40" fill="#9aa4b8" opacity="0.26"/><circle cx="1.4" cy="413.8" r="0.42" fill="#9aa4b8" opacity="0.28"/><circle cx="30.5" cy="463.9" r="0.62" fill="#9aa4b8" opacity="0.15"/><circle cx="47.7" cy="38.0" r="0.54" fill="#9aa4b8" opacity="0.19"/><circle cx="43.0" cy="430.5" r="0.60" fill="#9aa4b8" opacity="0.15"/><circle cx="35.6" cy="410.1" r="0.50" fill="#9aa4b8" opacity="0.25"/><circle cx="37.8" cy="500.1" r="0.60" fill="#9aa4b8" opacity="0.31"/><circle cx="55.5" cy="186.0" r="0.64" fill="#9aa4b8" opacity="0.13"/><circle cx="68.9" cy="526.2" r="0.55" fill="#9aa4b8" opacity="0.19"/><circle cx="95.8" cy="528.7" r="0.48" fill="#9aa4b8" opacity="0.24"/><circle cx="42.0" cy="564.8" r="0.57" fill="#9aa4b8" opacity="0.20"/><circle cx="59.0" cy="569.9" r="0.47" fill="#9aa4b8" opacity="0.28"/><circle cx="0.2" cy="167.3" r="0.55" fill="#9aa4b8" opacity="0.20"/><circle cx="80.0" cy="564.4" r="0.61" fill="#9aa4b8" opacity="0.13"/><circle cx="79.6" cy="551.5" r="0.47" fill="#9aa4b8" opacity="0.23"/><circle cx="83.4" cy="513.3" r="0.63" fill="#9aa4b8" opacity="0.26"/><circle cx="34.0" cy="54.1" r="0.60" fill="#9aa4b8" opacity="0.23"/><circle cx="19.6" cy="477.1" r="0.46" fill="#9aa4b8" opacity="0.31"/><circle cx="59.5" cy="431.0" r="0.45" fill="#9aa4b8" opacity="0.21"/><circle cx="25.0" cy="477.7" r="0.51" fill="#9aa4b8" opacity="0.28"/><circle cx="8.6" cy="513.0" r="0.46" fill="#9aa4b8" opacity="0.27"/><circle cx="56.8" cy="570.4" r="0.53" fill="#9aa4b8" opacity="0.30"/><circle cx="46.7" cy="374.8" r="0.45" fill="#9aa4b8" opacity="0.16"/><circle cx="17.7" cy="445.9" r="0.54" fill="#9aa4b8" opacity="0.19"/><circle cx="39.4" cy="329.0" r="0.41" fill="#9aa4b8" opacity="0.15"/><circle cx="97.7" cy="237.9" r="0.56" fill="#9aa4b8" opacity="0.14"/><circle cx="77.2" cy="99.3" r="0.49" fill="#9aa4b8" opacity="0.24"/><circle cx="50.9" cy="13.1" r="0.65" fill="#9aa4b8" opacity="0.13"/><circle cx="84.9" cy="309.3" r="0.47" fill="#9aa4b8" opacity="0.23"/><circle cx="76.4" cy="270.9" r="0.59" fill="#9aa4b8" opacity="0.31"/><circle cx="80.2" cy="612.8" r="0.41" fill="#9aa4b8" opacity="0.17"/><circle cx="19.7" cy="114.9" r="0.41" fill="#9aa4b8" opacity="0.14"/><circle cx="54.6" cy="553.7" r="0.64" fill="#9aa4b8" opacity="0.21"/><circle cx="89.2" cy="40.8" r="0.50" fill="#9aa4b8" opacity="0.24"/><circle cx="11.8" cy="610.1" r="0.54" fill="#9aa4b8" opacity="0.17"/><circle cx="62.8" cy="608.3" r="0.50" fill="#9aa4b8" opacity="0.25"/><circle cx="43.9" cy="101.6" r="0.65" fill="#9aa4b8" opacity="0.31"/><circle cx="21.7" cy="24.6" r="0.49" fill="#9aa4b8" opacity="0.17"/><circle cx="88.5" cy="575.3" r="0.41" fill="#9aa4b8" opacity="0.29"/><circle cx="77.1" cy="451.3" r="0.65" fill="#9aa4b8" opacity="0.25"/><circle cx="5.5" cy="92.1" r="0.63" fill="#9aa4b8" opacity="0.27"/><circle cx="66.3" cy="190.0" r="0.59" fill="#9aa4b8" opacity="0.24"/><circle cx="10.3" cy="206.0" r="0.43" fill="#9aa4b8" opacity="0.17"/><circle cx="47.2" cy="107.2" r="0.44" fill="#9aa4b8" opacity="0.17"/><circle cx="66.4" cy="8.0" r="0.45" fill="#9aa4b8" opacity="0.26"/><circle cx="3.5" cy="590.0" r="0.63" fill="#9aa4b8" opacity="0.16"/><circle cx="84.9" cy="565.2" r="0.51" fill="#9aa4b8" opacity="0.15"/><circle cx="9.5" cy="590.7" r="0.56" fill="#9aa4b8" opacity="0.29"/><circle cx="44.3" cy="216.1" r="0.52" fill="#9aa4b8" opacity="0.28"/><circle cx="61.6" cy="90.8" r="0.41" fill="#9aa4b8" opacity="0.16"/><circle cx="69.9" cy="351.9" r="0.62" fill="#9aa4b8" opacity="0.15"/><circle cx="26.1" cy="261.9" r="0.47" fill="#9aa4b8" opacity="0.15"/><circle cx="82.3" cy="212.7" r="0.52" fill="#9aa4b8" opacity="0.15"/><circle cx="31.2" cy="574.4" r="0.64" fill="#9aa4b8" opacity="0.14"/><circle cx="5.6" cy="569.2" r="0.45" fill="#9aa4b8" opacity="0.25"/><circle cx="46.8" cy="182.0" r="0.45" fill="#9aa4b8" opacity="0.17"/><circle cx="35.7" cy="630.3" r="0.63" fill="#9aa4b8" opacity="0.32"/><circle cx="9.6" cy="184.1" r="0.41" fill="#9aa4b8" opacity="0.30"/><circle cx="71.2" cy="186.7" r="0.40" fill="#9aa4b8" opacity="0.32"/><circle cx="79.1" cy="216.8" r="0.40" fill="#9aa4b8" opacity="0.15"/><circle cx="81.6" cy="334.9" r="0.51" fill="#9aa4b8" opacity="0.16"/><circle cx="89.4" cy="138.8" r="0.43" fill="#9aa4b8" opacity="0.23"/><circle cx="17.7" cy="490.0" r="0.45" fill="#9aa4b8" opacity="0.26"/><circle cx="7.8" cy="55.6" r="0.52" fill="#9aa4b8" opacity="0.24"/><circle cx="26.8" cy="131.0" r="0.58" fill="#9aa4b8" opacity="0.24"/><circle cx="79.5" cy="370.7" r="0.42" fill="#9aa4b8" opacity="0.16"/><circle cx="71.8" cy="259.6" r="0.41" fill="#9aa4b8" opacity="0.26"/><circle cx="79.4" cy="213.2" r="0.62" fill="#9aa4b8" opacity="0.29"/><circle cx="48.3" cy="9.8" r="0.52" fill="#9aa4b8" opacity="0.30"/><circle cx="85.5" cy="169.3" r="0.61" fill="#9aa4b8" opacity="0.16"/><circle cx="36.0" cy="104.0" r="0.55" fill="#9aa4b8" opacity="0.19"/><circle cx="0.5" cy="330.6" r="0.53" fill="#9aa4b8" opacity="0.21"/><circle cx="11.8" cy="454.5" r="0.62" fill="#9aa4b8" opacity="0.28"/><circle cx="31.5" cy="452.3" r="0.59" fill="#9aa4b8" opacity="0.20"/><circle cx="6.0" cy="555.1" r="0.52" fill="#9aa4b8" opacity="0.31"/><circle cx="50.3" cy="337.4" r="0.41" fill="#9aa4b8" opacity="0.23"/><circle cx="94.8" cy="142.3" r="0.43" fill="#9aa4b8" opacity="0.16"/><circle cx="24.5" cy="519.7" r="0.42" fill="#9aa4b8" opacity="0.13"/><circle cx="68.5" cy="124.1" r="0.55" fill="#9aa4b8" opacity="0.12"/><circle cx="56.5" cy="332.6" r="0.43" fill="#9aa4b8" opacity="0.26"/><circle cx="85.2" cy="456.1" r="0.43" fill="#9aa4b8" opacity="0.13"/><circle cx="48.4" cy="318.5" r="0.43" fill="#9aa4b8" opacity="0.18"/><circle cx="39.8" cy="87.1" r="0.62" fill="#9aa4b8" opacity="0.24"/><circle cx="14.4" cy="364.3" r="0.44" fill="#9aa4b8" opacity="0.27"/><circle cx="80.9" cy="596.3" r="0.51" fill="#9aa4b8" opacity="0.20"/><circle cx="82.3" cy="334.3" r="0.64" fill="#9aa4b8" opacity="0.20"/><circle cx="76.1" cy="215.3" r="0.48" fill="#9aa4b8" opacity="0.17"/><circle cx="42.7" cy="624.1" r="0.63" fill="#9aa4b8" opacity="0.28"/><circle cx="79.9" cy="539.1" r="0.53" fill="#9aa4b8" opacity="0.13"/><circle cx="93.9" cy="594.2" r="0.51" fill="#9aa4b8" opacity="0.17"/><circle cx="62.0" cy="231.8" r="0.42" fill="#9aa4b8" opacity="0.23"/><circle cx="42.4" cy="321.0" r="0.43" fill="#9aa4b8" opacity="0.12"/><circle cx="95.0" cy="493.9" r="0.56" fill="#9aa4b8" opacity="0.31"/><circle cx="79.3" cy="562.5" r="0.41" fill="#9aa4b8" opacity="0.30"/><circle cx="62.9" cy="169.0" r="0.47" fill="#9aa4b8" opacity="0.26"/><circle cx="53.1" cy="587.9" r="0.46" fill="#9aa4b8" opacity="0.24"/><circle cx="51.0" cy="275.8" r="0.47" fill="#9aa4b8" opacity="0.31"/><circle cx="29.9" cy="411.8" r="0.55" fill="#9aa4b8" opacity="0.14"/><circle cx="93.7" cy="326.8" r="0.52" fill="#9aa4b8" opacity="0.17"/><circle cx="52.3" cy="94.4" r="0.43" fill="#9aa4b8" opacity="0.14"/><circle cx="28.8" cy="258.6" r="0.46" fill="#9aa4b8" opacity="0.18"/><circle cx="8.6" cy="347.5" r="0.55" fill="#9aa4b8" opacity="0.29"/><circle cx="55.9" cy="413.6" r="0.58" fill="#9aa4b8" opacity="0.16"/><circle cx="45.2" cy="348.5" r="0.52" fill="#9aa4b8" opacity="0.24"/><circle cx="30.4" cy="154.1" r="0.53" fill="#9aa4b8" opacity="0.16"/><circle cx="37.6" cy="372.5" r="0.49" fill="#9aa4b8" opacity="0.12"/><circle cx="84.5" cy="151.7" r="0.52" fill="#9aa4b8" opacity="0.23"/><circle cx="27.9" cy="628.1" r="0.59" fill="#9aa4b8" opacity="0.18"/><circle cx="15.5" cy="42.5" r="0.51" fill="#9aa4b8" opacity="0.29"/><circle cx="6.1" cy="246.7" r="0.58" fill="#9aa4b8" opacity="0.21"/><circle cx="10.7" cy="143.2" r="0.58" fill="#9aa4b8" opacity="0.31"/><circle cx="15.1" cy="214.3" r="0.57" fill="#9aa4b8" opacity="0.19"/><circle cx="60.4" cy="540.6" r="0.53" fill="#9aa4b8" opacity="0.28"/><circle cx="72.4" cy="472.7" r="0.52" fill="#9aa4b8" opacity="0.27"/><circle cx="76.9" cy="450.6" r="0.43" fill="#9aa4b8" opacity="0.30"/><circle cx="85.3" cy="2.7" r="0.55" fill="#9aa4b8" opacity="0.27"/><circle cx="48.8" cy="612.3" r="0.50" fill="#9aa4b8" opacity="0.23"/><circle cx="76.8" cy="555.1" r="0.49" fill="#9aa4b8" opacity="0.24"/><circle cx="44.3" cy="291.2" r="0.47" fill="#9aa4b8" opacity="0.26"/><circle cx="38.3" cy="353.2" r="0.48" fill="#9aa4b8" opacity="0.20"/><circle cx="77.1" cy="540.3" r="0.51" fill="#9aa4b8" opacity="0.22"/><circle cx="18.1" cy="193.4" r="0.54" fill="#9aa4b8" opacity="0.15"/><circle cx="57.0" cy="55.9" r="0.48" fill="#9aa4b8" opacity="0.30"/><circle cx="82.7" cy="533.1" r="0.45" fill="#9aa4b8" opacity="0.31"/><circle cx="41.8" cy="579.1" r="0.41" fill="#9aa4b8" opacity="0.12"/><circle cx="55.4" cy="316.3" r="0.59" fill="#9aa4b8" opacity="0.30"/><circle cx="52.8" cy="634.9" r="0.53" fill="#9aa4b8" opacity="0.22"/><circle cx="67.2" cy="247.7" r="0.55" fill="#9aa4b8" opacity="0.19"/><circle cx="34.4" cy="602.9" r="0.53" fill="#9aa4b8" opacity="0.26"/><circle cx="9.7" cy="238.1" r="0.54" fill="#9aa4b8" opacity="0.20"/><circle cx="56.3" cy="559.6" r="0.52" fill="#9aa4b8" opacity="0.31"/><circle cx="43.1" cy="397.2" r="0.49" fill="#9aa4b8" opacity="0.32"/><circle cx="52.0" cy="518.9" r="0.48" fill="#9aa4b8" opacity="0.15"/><circle cx="95.9" cy="525.4" r="0.43" fill="#9aa4b8" opacity="0.22"/><circle cx="87.7" cy="438.8" r="0.65" fill="#9aa4b8" opacity="0.28"/><circle cx="87.0" cy="267.7" r="0.47" fill="#9aa4b8" opacity="0.15"/><circle cx="50.1" cy="321.1" r="0.45" fill="#9aa4b8" opacity="0.16"/><circle cx="61.7" cy="383.6" r="0.65" fill="#9aa4b8" opacity="0.19"/><circle cx="62.4" cy="26.9" r="0.60" fill="#9aa4b8" opacity="0.20"/><circle cx="30.1" cy="439.3" r="0.48" fill="#9aa4b8" opacity="0.12"/><circle cx="82.5" cy="372.8" r="0.45" fill="#9aa4b8" opacity="0.25"/><circle cx="48.8" cy="351.9" r="0.56" fill="#9aa4b8" opacity="0.17"/><circle cx="52.1" cy="634.2" r="0.50" fill="#9aa4b8" opacity="0.23"/><circle cx="11.9" cy="99.7" r="0.43" fill="#9aa4b8" opacity="0.27"/><circle cx="9.8" cy="108.5" r="0.61" fill="#9aa4b8" opacity="0.22"/><circle cx="60.1" cy="513.0" r="0.40" fill="#9aa4b8" opacity="0.13"/><circle cx="75.5" cy="205.3" r="0.49" fill="#9aa4b8" opacity="0.26"/><circle cx="16.6" cy="169.6" r="0.63" fill="#9aa4b8" opacity="0.14"/><circle cx="57.1" cy="221.9" r="0.50" fill="#9aa4b8" opacity="0.21"/><circle cx="5.4" cy="566.4" r="0.64" fill="#9aa4b8" opacity="0.24"/><circle cx="43.1" cy="394.4" r="0.41" fill="#9aa4b8" opacity="0.17"/><circle cx="91.2" cy="543.6" r="0.62" fill="#9aa4b8" opacity="0.18"/><circle cx="80.0" cy="193.1" r="0.64" fill="#9aa4b8" opacity="0.24"/><circle cx="48.6" cy="604.0" r="0.50" fill="#9aa4b8" opacity="0.17"/><circle cx="70.4" cy="140.8" r="0.62" fill="#9aa4b8" opacity="0.18"/><circle cx="47.5" cy="504.2" r="0.44" fill="#9aa4b8" opacity="0.17"/><circle cx="35.1" cy="118.6" r="0.47" fill="#9aa4b8" opacity="0.31"/><circle cx="55.0" cy="73.1" r="0.50" fill="#9aa4b8" opacity="0.23"/><circle cx="39.5" cy="41.6" r="0.61" fill="#9aa4b8" opacity="0.14"/><circle cx="34.4" cy="155.8" r="0.47" fill="#9aa4b8" opacity="0.16"/><circle cx="23.2" cy="22.2" r="0.49" fill="#9aa4b8" opacity="0.25"/><circle cx="15.3" cy="448.9" r="0.47" fill="#9aa4b8" opacity="0.14"/><circle cx="81.8" cy="81.3" r="0.61" fill="#9aa4b8" opacity="0.21"/><circle cx="78.9" cy="101.3" r="0.58" fill="#9aa4b8" opacity="0.19"/><circle cx="36.9" cy="609.5" r="0.64" fill="#9aa4b8" opacity="0.16"/><circle cx="49.5" cy="144.5" r="0.43" fill="#9aa4b8" opacity="0.21"/><circle cx="69.2" cy="165.8" r="0.55" fill="#9aa4b8" opacity="0.30"/><circle cx="36.1" cy="156.6" r="0.45" fill="#9aa4b8" opacity="0.24"/><circle cx="85.5" cy="78.1" r="0.54" fill="#9aa4b8" opacity="0.22"/><circle cx="26.5" cy="490.8" r="0.56" fill="#9aa4b8" opacity="0.20"/><circle cx="55.6" cy="197.7" r="0.42" fill="#9aa4b8" opacity="0.20"/><circle cx="17.4" cy="541.2" r="0.57" fill="#9aa4b8" opacity="0.18"/><circle cx="10.7" cy="357.4" r="0.53" fill="#9aa4b8" opacity="0.19"/><circle cx="29.1" cy="41.9" r="0.46" fill="#9aa4b8" opacity="0.18"/><circle cx="12.4" cy="455.8" r="0.50" fill="#9aa4b8" opacity="0.18"/><circle cx="89.1" cy="492.9" r="0.62" fill="#9aa4b8" opacity="0.30"/><circle cx="13.0" cy="175.9" r="0.57" fill="#9aa4b8" opacity="0.13"/><circle cx="65.0" cy="223.5" r="0.56" fill="#9aa4b8" opacity="0.20"/><circle cx="68.5" cy="158.0" r="0.49" fill="#9aa4b8" opacity="0.29"/><circle cx="61.6" cy="115.5" r="0.63" fill="#9aa4b8" opacity="0.14"/><circle cx="71.9" cy="453.2" r="0.41" fill="#9aa4b8" opacity="0.13"/><circle cx="15.9" cy="126.0" r="0.50" fill="#9aa4b8" opacity="0.18"/><circle cx="3.8" cy="197.7" r="0.44" fill="#9aa4b8" opacity="0.25"/><circle cx="82.3" cy="362.6" r="0.46" fill="#9aa4b8" opacity="0.26"/><circle cx="42.6" cy="435.2" r="0.40" fill="#9aa4b8" opacity="0.19"/><circle cx="81.8" cy="493.8" r="0.41" fill="#9aa4b8" opacity="0.18"/><circle cx="83.7" cy="386.3" r="0.46" fill="#9aa4b8" opacity="0.13"/><circle cx="10.9" cy="503.4" r="0.63" fill="#9aa4b8" opacity="0.16"/><circle cx="73.5" cy="54.8" r="0.50" fill="#9aa4b8" opacity="0.26"/><circle cx="73.3" cy="527.1" r="0.42" fill="#9aa4b8" opacity="0.18"/><circle cx="92.7" cy="269.6" r="0.57" fill="#9aa4b8" opacity="0.31"/><circle cx="72.4" cy="527.9" r="0.51" fill="#9aa4b8" opacity="0.25"/><circle cx="5.3" cy="444.1" r="0.53" fill="#9aa4b8" opacity="0.21"/><circle cx="91.0" cy="81.2" r="0.41" fill="#9aa4b8" opacity="0.27"/><circle cx="68.9" cy="512.4" r="0.54" fill="#9aa4b8" opacity="0.17"/><circle cx="95.0" cy="405.5" r="0.46" fill="#9aa4b8" opacity="0.23"/><circle cx="5.8" cy="227.6" r="0.45" fill="#9aa4b8" opacity="0.20"/><circle cx="30.4" cy="86.8" r="0.57" fill="#9aa4b8" opacity="0.26"/><circle cx="23.3" cy="153.7" r="0.51" fill="#9aa4b8" opacity="0.22"/><circle cx="91.7" cy="223.5" r="0.62" fill="#9aa4b8" opacity="0.18"/><circle cx="13.9" cy="358.2" r="0.60" fill="#9aa4b8" opacity="0.19"/><circle cx="53.7" cy="483.7" r="0.57" fill="#9aa4b8" opacity="0.15"/><circle cx="58.7" cy="293.3" r="0.61" fill="#9aa4b8" opacity="0.27"/><circle cx="11.2" cy="184.0" r="0.45" fill="#9aa4b8" opacity="0.19"/><circle cx="5.9" cy="178.6" r="0.58" fill="#9aa4b8" opacity="0.16"/><circle cx="43.9" cy="71.9" r="0.52" fill="#9aa4b8" opacity="0.18"/><circle cx="35.6" cy="106.9" r="0.40" fill="#9aa4b8" opacity="0.13"/><circle cx="97.2" cy="477.3" r="0.58" fill="#9aa4b8" opacity="0.14"/><circle cx="96.1" cy="358.5" r="0.52" fill="#9aa4b8" opacity="0.14"/><circle cx="42.6" cy="120.7" r="0.40" fill="#9aa4b8" opacity="0.23"/><circle cx="90.1" cy="409.9" r="0.63" fill="#9aa4b8" opacity="0.25"/><circle cx="64.0" cy="159.9" r="0.43" fill="#9aa4b8" opacity="0.17"/><circle cx="2.7" cy="492.5" r="0.47" fill="#9aa4b8" opacity="0.29"/><circle cx="18.2" cy="405.8" r="0.63" fill="#9aa4b8" opacity="0.29"/><circle cx="16.5" cy="499.0" r="0.59" fill="#9aa4b8" opacity="0.29"/><circle cx="32.0" cy="117.4" r="0.48" fill="#9aa4b8" opacity="0.29"/><circle cx="36.1" cy="350.5" r="0.61" fill="#9aa4b8" opacity="0.19"/><circle cx="23.5" cy="26.2" r="0.56" fill="#9aa4b8" opacity="0.23"/><circle cx="80.3" cy="448.7" r="0.64" fill="#9aa4b8" opacity="0.30"/><circle cx="48.4" cy="317.7" r="0.47" fill="#9aa4b8" opacity="0.15"/><circle cx="56.9" cy="51.0" r="0.44" fill="#9aa4b8" opacity="0.26"/><circle cx="43.4" cy="616.8" r="0.41" fill="#9aa4b8" opacity="0.14"/><circle cx="43.1" cy="121.4" r="0.40" fill="#9aa4b8" opacity="0.26"/><circle cx="82.4" cy="544.0" r="0.51" fill="#9aa4b8" opacity="0.28"/><circle cx="27.8" cy="420.8" r="0.51" fill="#9aa4b8" opacity="0.22"/><circle cx="33.2" cy="279.0" r="0.61" fill="#9aa4b8" opacity="0.25"/><circle cx="88.6" cy="104.6" r="0.51" fill="#9aa4b8" opacity="0.18"/><circle cx="55.2" cy="221.4" r="0.42" fill="#9aa4b8" opacity="0.16"/><circle cx="31.7" cy="292.9" r="0.63" fill="#9aa4b8" opacity="0.31"/><circle cx="84.8" cy="619.7" r="0.55" fill="#9aa4b8" opacity="0.31"/><circle cx="79.5" cy="38.2" r="0.55" fill="#9aa4b8" opacity="0.26"/><circle cx="29.1" cy="363.2" r="0.52" fill="#9aa4b8" opacity="0.31"/><circle cx="63.4" cy="190.4" r="0.62" fill="#9aa4b8" opacity="0.19"/><circle cx="2.7" cy="120.1" r="0.51" fill="#9aa4b8" opacity="0.26"/><circle cx="8.4" cy="420.1" r="0.55" fill="#9aa4b8" opacity="0.19"/><circle cx="40.8" cy="337.1" r="0.50" fill="#9aa4b8" opacity="0.23"/><circle cx="11.2" cy="114.8" r="0.54" fill="#9aa4b8" opacity="0.30"/><circle cx="11.0" cy="548.3" r="0.42" fill="#9aa4b8" opacity="0.17"/><circle cx="52.0" cy="160.0" r="0.54" fill="#9aa4b8" opacity="0.22"/><circle cx="22.2" cy="364.2" r="0.53" fill="#9aa4b8" opacity="0.14"/><circle cx="57.7" cy="51.0" r="0.42" fill="#9aa4b8" opacity="0.20"/><circle cx="43.1" cy="549.2" r="0.58" fill="#9aa4b8" opacity="0.23"/><circle cx="74.2" cy="72.9" r="0.58" fill="#9aa4b8" opacity="0.32"/><circle cx="10.0" cy="528.0" r="0.44" fill="#9aa4b8" opacity="0.20"/><circle cx="94.1" cy="358.1" r="0.43" fill="#9aa4b8" opacity="0.27"/><circle cx="76.1" cy="36.6" r="0.49" fill="#9aa4b8" opacity="0.17"/><circle cx="1.5" cy="378.0" r="0.47" fill="#9aa4b8" opacity="0.16"/><circle cx="69.3" cy="270.9" r="0.56" fill="#9aa4b8" opacity="0.30"/><circle cx="85.5" cy="358.0" r="0.62" fill="#9aa4b8" opacity="0.30"/><circle cx="16.5" cy="474.1" r="0.59" fill="#9aa4b8" opacity="0.19"/><circle cx="66.7" cy="525.1" r="0.49" fill="#9aa4b8" opacity="0.14"/><circle cx="72.3" cy="602.9" r="0.41" fill="#9aa4b8" opacity="0.26"/><circle cx="59.2" cy="63.4" r="0.60" fill="#9aa4b8" opacity="0.23"/><circle cx="11.1" cy="588.5" r="0.46" fill="#9aa4b8" opacity="0.26"/><circle cx="18.9" cy="284.1" r="0.55" fill="#9aa4b8" opacity="0.29"/><circle cx="11.1" cy="13.3" r="0.60" fill="#9aa4b8" opacity="0.14"/><circle cx="18.2" cy="352.5" r="0.57" fill="#9aa4b8" opacity="0.18"/><circle cx="37.3" cy="91.7" r="0.53" fill="#9aa4b8" opacity="0.30"/><circle cx="67.6" cy="514.0" r="0.40" fill="#9aa4b8" opacity="0.31"/><circle cx="33.6" cy="96.0" r="0.62" fill="#9aa4b8" opacity="0.22"/><circle cx="78.4" cy="22.6" r="0.60" fill="#9aa4b8" opacity="0.16"/><circle cx="66.6" cy="249.7" r="0.44" fill="#9aa4b8" opacity="0.22"/><circle cx="82.8" cy="250.2" r="0.55" fill="#9aa4b8" opacity="0.29"/><circle cx="7.4" cy="209.4" r="0.62" fill="#9aa4b8" opacity="0.16"/><circle cx="57.7" cy="27.8" r="0.49" fill="#9aa4b8" opacity="0.15"/><circle cx="45.8" cy="367.0" r="0.49" fill="#9aa4b8" opacity="0.20"/><circle cx="0.6" cy="368.3" r="0.41" fill="#9aa4b8" opacity="0.19"/><circle cx="45.0" cy="627.3" r="0.44" fill="#9aa4b8" opacity="0.13"/><circle cx="65.8" cy="173.4" r="0.53" fill="#9aa4b8" opacity="0.17"/><circle cx="25.7" cy="361.9" r="0.64" fill="#9aa4b8" opacity="0.23"/><circle cx="97.2" cy="21.7" r="0.59" fill="#9aa4b8" opacity="0.23"/><circle cx="85.5" cy="492.5" r="0.56" fill="#9aa4b8" opacity="0.25"/><circle cx="35.6" cy="179.1" r="0.62" fill="#9aa4b8" opacity="0.28"/><circle cx="92.0" cy="433.3" r="0.59" fill="#9aa4b8" opacity="0.18"/><circle cx="72.5" cy="323.7" r="0.49" fill="#9aa4b8" opacity="0.25"/><circle cx="54.0" cy="258.2" r="0.48" fill="#9aa4b8" opacity="0.13"/><circle cx="31.7" cy="628.6" r="0.49" fill="#9aa4b8" opacity="0.22"/><circle cx="23.9" cy="149.3" r="0.43" fill="#9aa4b8" opacity="0.19"/><circle cx="0.7" cy="553.9" r="0.51" fill="#9aa4b8" opacity="0.21"/><circle cx="55.7" cy="192.3" r="0.42" fill="#9aa4b8" opacity="0.15"/><circle cx="29.5" cy="196.2" r="0.54" fill="#9aa4b8" opacity="0.27"/><circle cx="91.9" cy="216.5" r="0.55" fill="#9aa4b8" opacity="0.30"/><circle cx="7.8" cy="113.7" r="0.65" fill="#9aa4b8" opacity="0.24"/><circle cx="35.0" cy="492.5" r="0.62" fill="#9aa4b8" opacity="0.21"/><circle cx="6.6" cy="308.2" r="0.47" fill="#9aa4b8" opacity="0.30"/><circle cx="25.2" cy="14.7" r="0.47" fill="#9aa4b8" opacity="0.15"/><circle cx="69.0" cy="138.8" r="0.45" fill="#9aa4b8" opacity="0.20"/><circle cx="59.1" cy="549.5" r="0.45" fill="#9aa4b8" opacity="0.25"/><circle cx="71.9" cy="612.6" r="0.42" fill="#9aa4b8" opacity="0.24"/><circle cx="79.3" cy="556.8" r="0.43" fill="#9aa4b8" opacity="0.19"/><circle cx="18.4" cy="341.5" r="0.56" fill="#9aa4b8" opacity="0.30"/><circle cx="90.4" cy="135.0" r="0.59" fill="#9aa4b8" opacity="0.19"/><circle cx="63.6" cy="257.8" r="0.48" fill="#9aa4b8" opacity="0.26"/><circle cx="5.6" cy="263.5" r="0.56" fill="#9aa4b8" opacity="0.13"/><circle cx="32.8" cy="314.4" r="0.46" fill="#9aa4b8" opacity="0.24"/><circle cx="45.4" cy="8.6" r="0.54" fill="#9aa4b8" opacity="0.31"/><circle cx="96.8" cy="35.6" r="0.58" fill="#9aa4b8" opacity="0.24"/><circle cx="32.3" cy="59.4" r="0.44" fill="#9aa4b8" opacity="0.15"/><circle cx="75.2" cy="57.2" r="0.51" fill="#9aa4b8" opacity="0.28"/><circle cx="52.8" cy="374.3" r="0.56" fill="#9aa4b8" opacity="0.23"/><circle cx="59.0" cy="210.4" r="0.46" fill="#9aa4b8" opacity="0.27"/><circle cx="69.7" cy="485.5" r="0.48" fill="#9aa4b8" opacity="0.28"/><circle cx="75.7" cy="621.6" r="0.47" fill="#9aa4b8" opacity="0.21"/><circle cx="51.3" cy="598.4" r="0.40" fill="#9aa4b8" opacity="0.15"/><circle cx="46.6" cy="416.8" r="0.49" fill="#9aa4b8" opacity="0.27"/><circle cx="97.0" cy="145.1" r="0.42" fill="#9aa4b8" opacity="0.27"/><circle cx="2.7" cy="85.3" r="0.53" fill="#9aa4b8" opacity="0.13"/><circle cx="54.4" cy="115.6" r="0.49" fill="#9aa4b8" opacity="0.31"/><circle cx="14.6" cy="112.8" r="0.63" fill="#9aa4b8" opacity="0.27"/><circle cx="15.9" cy="18.5" r="0.46" fill="#9aa4b8" opacity="0.28"/><circle cx="96.3" cy="317.3" r="0.49" fill="#9aa4b8" opacity="0.25"/><circle cx="78.5" cy="292.6" r="0.63" fill="#9aa4b8" opacity="0.18"/><circle cx="10.6" cy="466.4" r="0.56" fill="#9aa4b8" opacity="0.13"/><circle cx="39.4" cy="549.5" r="0.54" fill="#9aa4b8" opacity="0.13"/><circle cx="40.2" cy="584.6" r="0.56" fill="#9aa4b8" opacity="0.31"/><circle cx="22.0" cy="160.2" r="0.51" fill="#9aa4b8" opacity="0.17"/><circle cx="22.7" cy="129.2" r="0.56" fill="#9aa4b8" opacity="0.27"/><circle cx="29.2" cy="632.4" r="0.54" fill="#9aa4b8" opacity="0.16"/><circle cx="15.4" cy="548.9" r="0.47" fill="#9aa4b8" opacity="0.29"/><circle cx="73.7" cy="523.3" r="0.48" fill="#9aa4b8" opacity="0.18"/><circle cx="47.6" cy="566.7" r="0.57" fill="#9aa4b8" opacity="0.15"/><circle cx="58.6" cy="288.1" r="0.62" fill="#9aa4b8" opacity="0.24"/><circle cx="20.6" cy="561.9" r="0.59" fill="#9aa4b8" opacity="0.19"/><circle cx="84.6" cy="115.9" r="0.65" fill="#9aa4b8" opacity="0.29"/><circle cx="29.2" cy="15.5" r="0.64" fill="#9aa4b8" opacity="0.14"/><circle cx="0.9" cy="579.8" r="0.58" fill="#9aa4b8" opacity="0.15"/><circle cx="9.6" cy="107.3" r="0.42" fill="#9aa4b8" opacity="0.26"/><circle cx="33.3" cy="584.2" r="0.62" fill="#9aa4b8" opacity="0.26"/><circle cx="96.0" cy="20.9" r="0.60" fill="#9aa4b8" opacity="0.17"/><circle cx="67.6" cy="24.1" r="0.46" fill="#9aa4b8" opacity="0.22"/><circle cx="42.2" cy="66.7" r="0.65" fill="#9aa4b8" opacity="0.12"/><circle cx="31.0" cy="558.8" r="0.52" fill="#9aa4b8" opacity="0.14"/><circle cx="13.3" cy="272.5" r="0.57" fill="#9aa4b8" opacity="0.16"/><circle cx="14.5" cy="469.5" r="0.43" fill="#9aa4b8" opacity="0.22"/><circle cx="34.7" cy="315.6" r="0.49" fill="#9aa4b8" opacity="0.30"/><circle cx="21.1" cy="615.3" r="0.58" fill="#9aa4b8" opacity="0.30"/><circle cx="26.8" cy="112.7" r="0.42" fill="#9aa4b8" opacity="0.17"/><circle cx="4.2" cy="323.6" r="0.54" fill="#9aa4b8" opacity="0.20"/><circle cx="35.5" cy="6.7" r="0.56" fill="#9aa4b8" opacity="0.26"/><circle cx="53.3" cy="349.0" r="0.65" fill="#9aa4b8" opacity="0.26"/><circle cx="85.7" cy="456.5" r="0.48" fill="#9aa4b8" opacity="0.20"/><circle cx="41.1" cy="618.8" r="0.50" fill="#9aa4b8" opacity="0.20"/><circle cx="40.2" cy="91.0" r="0.40" fill="#9aa4b8" opacity="0.32"/><circle cx="59.6" cy="589.1" r="0.55" fill="#9aa4b8" opacity="0.17"/><circle cx="36.9" cy="153.1" r="0.43" fill="#9aa4b8" opacity="0.16"/><circle cx="82.6" cy="498.6" r="0.41" fill="#9aa4b8" opacity="0.30"/><circle cx="68.0" cy="206.3" r="0.54" fill="#9aa4b8" opacity="0.25"/><circle cx="30.9" cy="617.9" r="0.59" fill="#9aa4b8" opacity="0.12"/><circle cx="83.6" cy="324.4" r="0.65" fill="#9aa4b8" opacity="0.24"/><circle cx="23.0" cy="400.4" r="0.49" fill="#9aa4b8" opacity="0.27"/><circle cx="69.8" cy="250.3" r="0.55" fill="#9aa4b8" opacity="0.23"/><circle cx="66.4" cy="204.9" r="0.54" fill="#9aa4b8" opacity="0.25"/><circle cx="21.9" cy="389.6" r="0.63" fill="#9aa4b8" opacity="0.17"/><circle cx="46.4" cy="458.9" r="0.52" fill="#9aa4b8" opacity="0.22"/><circle cx="21.7" cy="90.4" r="0.53" fill="#9aa4b8" opacity="0.31"/><circle cx="51.3" cy="335.5" r="0.46" fill="#9aa4b8" opacity="0.28"/><circle cx="16.9" cy="522.7" r="0.56" fill="#9aa4b8" opacity="0.21"/><circle cx="81.1" cy="568.6" r="0.41" fill="#9aa4b8" opacity="0.29"/><circle cx="37.4" cy="529.2" r="0.43" fill="#9aa4b8" opacity="0.28"/><circle cx="15.1" cy="159.9" r="0.49" fill="#9aa4b8" opacity="0.14"/><circle cx="78.7" cy="331.6" r="0.42" fill="#9aa4b8" opacity="0.21"/><circle cx="38.8" cy="634.1" r="0.51" fill="#9aa4b8" opacity="0.26"/><circle cx="46.9" cy="507.7" r="0.44" fill="#9aa4b8" opacity="0.27"/><circle cx="66.7" cy="233.4" r="0.46" fill="#9aa4b8" opacity="0.22"/><circle cx="36.3" cy="216.3" r="0.40" fill="#9aa4b8" opacity="0.20"/><circle cx="19.7" cy="362.9" r="0.44" fill="#9aa4b8" opacity="0.13"/><circle cx="70.4" cy="174.6" r="0.46" fill="#9aa4b8" opacity="0.18"/><circle cx="81.7" cy="58.1" r="0.61" fill="#9aa4b8" opacity="0.25"/><circle cx="19.8" cy="269.1" r="0.55" fill="#9aa4b8" opacity="0.28"/><circle cx="36.4" cy="27.9" r="0.49" fill="#9aa4b8" opacity="0.21"/><circle cx="69.8" cy="187.8" r="0.56" fill="#9aa4b8" opacity="0.20"/><circle cx="79.5" cy="224.1" r="0.54" fill="#9aa4b8" opacity="0.20"/><circle cx="90.6" cy="121.9" r="0.58" fill="#9aa4b8" opacity="0.31"/><circle cx="36.5" cy="423.3" r="0.42" fill="#9aa4b8" opacity="0.19"/><circle cx="74.1" cy="241.3" r="0.52" fill="#9aa4b8" opacity="0.23"/><circle cx="88.3" cy="481.5" r="0.55" fill="#9aa4b8" opacity="0.13"/><circle cx="45.3" cy="293.9" r="0.50" fill="#9aa4b8" opacity="0.29"/><circle cx="46.4" cy="566.3" r="0.52" fill="#9aa4b8" opacity="0.21"/><circle cx="50.2" cy="524.5" r="0.59" fill="#9aa4b8" opacity="0.25"/><circle cx="39.4" cy="25.8" r="0.54" fill="#9aa4b8" opacity="0.26"/><circle cx="75.4" cy="489.6" r="0.46" fill="#9aa4b8" opacity="0.14"/><circle cx="7.6" cy="519.9" r="0.42" fill="#9aa4b8" opacity="0.14"/><circle cx="73.8" cy="359.0" r="0.57" fill="#9aa4b8" opacity="0.13"/><circle cx="69.7" cy="307.1" r="0.57" fill="#9aa4b8" opacity="0.13"/><circle cx="41.0" cy="371.4" r="0.60" fill="#9aa4b8" opacity="0.32"/><circle cx="85.4" cy="92.6" r="0.53" fill="#9aa4b8" opacity="0.19"/><circle cx="0.6" cy="628.8" r="0.47" fill="#9aa4b8" opacity="0.17"/><circle cx="30.7" cy="162.2" r="0.54" fill="#9aa4b8" opacity="0.29"/><circle cx="50.1" cy="267.3" r="0.48" fill="#9aa4b8" opacity="0.13"/><circle cx="84.9" cy="510.1" r="0.46" fill="#9aa4b8" opacity="0.29"/><circle cx="19.8" cy="33.1" r="0.49" fill="#9aa4b8" opacity="0.23"/><circle cx="45.5" cy="311.0" r="0.49" fill="#9aa4b8" opacity="0.24"/><circle cx="78.5" cy="127.4" r="0.54" fill="#9aa4b8" opacity="0.30"/><circle cx="5.0" cy="199.9" r="0.50" fill="#9aa4b8" opacity="0.23"/><circle cx="55.4" cy="205.8" r="0.60" fill="#9aa4b8" opacity="0.17"/><circle cx="28.6" cy="451.9" r="0.55" fill="#9aa4b8" opacity="0.28"/><circle cx="44.6" cy="594.6" r="0.62" fill="#9aa4b8" opacity="0.21"/><circle cx="5.7" cy="275.8" r="0.41" fill="#9aa4b8" opacity="0.25"/><circle cx="84.5" cy="45.7" r="0.45" fill="#9aa4b8" opacity="0.24"/><circle cx="90.4" cy="356.8" r="0.52" fill="#9aa4b8" opacity="0.28"/><circle cx="66.0" cy="429.3" r="0.45" fill="#9aa4b8" opacity="0.18"/><circle cx="82.2" cy="92.7" r="0.45" fill="#9aa4b8" opacity="0.30"/><circle cx="9.9" cy="60.6" r="0.64" fill="#9aa4b8" opacity="0.28"/><circle cx="40.6" cy="419.0" r="0.63" fill="#9aa4b8" opacity="0.17"/><circle cx="67.2" cy="98.5" r="0.57" fill="#9aa4b8" opacity="0.13"/><circle cx="4.1" cy="531.8" r="0.46" fill="#9aa4b8" opacity="0.18"/><circle cx="57.0" cy="202.7" r="0.44" fill="#9aa4b8" opacity="0.23"/><circle cx="89.4" cy="206.3" r="0.44" fill="#9aa4b8" opacity="0.29"/><circle cx="78.3" cy="623.3" r="0.41" fill="#9aa4b8" opacity="0.20"/><circle cx="37.2" cy="407.5" r="0.54" fill="#9aa4b8" opacity="0.16"/><circle cx="9.2" cy="295.4" r="0.51" fill="#9aa4b8" opacity="0.27"/><circle cx="66.5" cy="72.7" r="0.43" fill="#9aa4b8" opacity="0.29"/><circle cx="90.5" cy="633.5" r="0.53" fill="#9aa4b8" opacity="0.31"/><circle cx="28.5" cy="221.3" r="0.52" fill="#9aa4b8" opacity="0.27"/><circle cx="91.1" cy="59.1" r="0.62" fill="#9aa4b8" opacity="0.22"/><circle cx="58.6" cy="343.9" r="0.43" fill="#9aa4b8" opacity="0.14"/><circle cx="26.6" cy="568.0" r="0.46" fill="#9aa4b8" opacity="0.29"/><circle cx="90.6" cy="20.6" r="0.64" fill="#9aa4b8" opacity="0.24"/><circle cx="33.7" cy="600.6" r="0.41" fill="#9aa4b8" opacity="0.25"/><circle cx="32.6" cy="286.0" r="0.59" fill="#9aa4b8" opacity="0.17"/><circle cx="17.5" cy="501.0" r="0.42" fill="#9aa4b8" opacity="0.18"/><circle cx="54.8" cy="60.8" r="0.60" fill="#9aa4b8" opacity="0.23"/><circle cx="58.4" cy="293.4" r="0.53" fill="#9aa4b8" opacity="0.13"/><circle cx="9.5" cy="411.4" r="0.54" fill="#9aa4b8" opacity="0.15"/><circle cx="34.6" cy="238.3" r="0.44" fill="#9aa4b8" opacity="0.25"/><circle cx="16.6" cy="598.8" r="0.61" fill="#9aa4b8" opacity="0.19"/><circle cx="85.6" cy="305.4" r="0.42" fill="#9aa4b8" opacity="0.15"/><circle cx="86.1" cy="74.5" r="0.53" fill="#9aa4b8" opacity="0.22"/><circle cx="11.5" cy="297.5" r="0.53" fill="#9aa4b8" opacity="0.15"/><circle cx="49.7" cy="233.3" r="0.50" fill="#9aa4b8" opacity="0.16"/><circle cx="19.9" cy="80.8" r="0.62" fill="#9aa4b8" opacity="0.17"/><circle cx="49.2" cy="566.4" r="0.64" fill="#9aa4b8" opacity="0.12"/><circle cx="47.9" cy="503.1" r="0.57" fill="#9aa4b8" opacity="0.23"/><circle cx="22.5" cy="477.0" r="0.47" fill="#9aa4b8" opacity="0.15"/><circle cx="3.0" cy="250.1" r="0.47" fill="#9aa4b8" opacity="0.22"/><circle cx="87.3" cy="53.6" r="0.46" fill="#9aa4b8" opacity="0.24"/><circle cx="58.3" cy="498.6" r="0.42" fill="#9aa4b8" opacity="0.26"/><circle cx="24.1" cy="381.1" r="0.41" fill="#9aa4b8" opacity="0.32"/><circle cx="60.6" cy="440.0" r="0.49" fill="#9aa4b8" opacity="0.28"/><circle cx="79.4" cy="293.7" r="0.40" fill="#9aa4b8" opacity="0.30"/><circle cx="92.2" cy="262.0" r="0.42" fill="#9aa4b8" opacity="0.20"/><circle cx="24.0" cy="466.7" r="0.44" fill="#9aa4b8" opacity="0.26"/><circle cx="33.7" cy="89.3" r="0.45" fill="#9aa4b8" opacity="0.16"/><circle cx="32.4" cy="620.7" r="0.60" fill="#9aa4b8" opacity="0.32"/><circle cx="47.0" cy="316.3" r="0.63" fill="#9aa4b8" opacity="0.28"/><circle cx="73.6" cy="404.7" r="0.56" fill="#9aa4b8" opacity="0.16"/><circle cx="82.9" cy="500.3" r="0.58" fill="#9aa4b8" opacity="0.14"/><circle cx="34.2" cy="103.2" r="0.57" fill="#9aa4b8" opacity="0.31"/><circle cx="73.1" cy="85.8" r="0.63" fill="#9aa4b8" opacity="0.29"/><circle cx="88.7" cy="473.8" r="0.60" fill="#9aa4b8" opacity="0.29"/><circle cx="57.9" cy="276.9" r="0.60" fill="#9aa4b8" opacity="0.29"/><circle cx="85.3" cy="190.1" r="0.53" fill="#9aa4b8" opacity="0.31"/><circle cx="92.7" cy="73.7" r="0.60" fill="#9aa4b8" opacity="0.31"/><circle cx="24.7" cy="533.2" r="0.45" fill="#9aa4b8" opacity="0.17"/><circle cx="44.9" cy="150.5" r="0.63" fill="#9aa4b8" opacity="0.22"/><circle cx="67.2" cy="451.8" r="0.60" fill="#9aa4b8" opacity="0.20"/><circle cx="77.8" cy="434.3" r="0.61" fill="#9aa4b8" opacity="0.31"/><circle cx="39.8" cy="55.4" r="0.61" fill="#9aa4b8" opacity="0.25"/><circle cx="33.3" cy="378.3" r="0.60" fill="#9aa4b8" opacity="0.29"/><circle cx="0.4" cy="311.0" r="0.43" fill="#9aa4b8" opacity="0.12"/><circle cx="79.6" cy="266.3" r="0.51" fill="#9aa4b8" opacity="0.24"/><circle cx="32.9" cy="135.9" r="0.61" fill="#9aa4b8" opacity="0.19"/><circle cx="60.7" cy="185.8" r="0.47" fill="#9aa4b8" opacity="0.14"/><circle cx="68.7" cy="281.1" r="0.60" fill="#9aa4b8" opacity="0.25"/><circle cx="11.8" cy="434.4" r="0.61" fill="#9aa4b8" opacity="0.13"/><circle cx="18.0" cy="172.7" r="0.49" fill="#9aa4b8" opacity="0.31"/><circle cx="22.0" cy="565.9" r="0.62" fill="#9aa4b8" opacity="0.24"/><circle cx="38.6" cy="317.8" r="0.53" fill="#9aa4b8" opacity="0.31"/><circle cx="96.9" cy="120.5" r="0.44" fill="#9aa4b8" opacity="0.29"/><circle cx="51.7" cy="0.2" r="0.64" fill="#9aa4b8" opacity="0.16"/><circle cx="44.5" cy="514.8" r="0.49" fill="#9aa4b8" opacity="0.17"/><circle cx="9.9" cy="351.5" r="0.53" fill="#9aa4b8" opacity="0.29"/><circle cx="36.9" cy="590.6" r="0.57" fill="#9aa4b8" opacity="0.30"/><circle cx="7.4" cy="396.9" r="0.64" fill="#9aa4b8" opacity="0.21"/><circle cx="35.5" cy="420.5" r="0.49" fill="#9aa4b8" opacity="0.25"/><circle cx="51.2" cy="430.3" r="0.52" fill="#9aa4b8" opacity="0.30"/><circle cx="35.6" cy="620.9" r="0.61" fill="#9aa4b8" opacity="0.13"/><circle cx="67.0" cy="354.5" r="0.59" fill="#9aa4b8" opacity="0.21"/><circle cx="87.3" cy="463.6" r="0.41" fill="#9aa4b8" opacity="0.27"/><circle cx="31.9" cy="87.1" r="0.62" fill="#9aa4b8" opacity="0.31"/><circle cx="14.2" cy="373.7" r="0.41" fill="#9aa4b8" opacity="0.24"/><circle cx="38.4" cy="475.3" r="0.47" fill="#9aa4b8" opacity="0.25"/><circle cx="74.7" cy="185.2" r="0.51" fill="#9aa4b8" opacity="0.23"/><circle cx="95.9" cy="412.6" r="0.57" fill="#9aa4b8" opacity="0.28"/><circle cx="37.3" cy="612.5" r="0.57" fill="#9aa4b8" opacity="0.26"/><circle cx="27.2" cy="103.0" r="0.61" fill="#9aa4b8" opacity="0.24"/><circle cx="77.8" cy="220.8" r="0.53" fill="#9aa4b8" opacity="0.15"/><circle cx="86.0" cy="103.1" r="0.44" fill="#9aa4b8" opacity="0.27"/><circle cx="30.6" cy="34.0" r="0.50" fill="#9aa4b8" opacity="0.18"/><circle cx="94.8" cy="611.9" r="0.48" fill="#9aa4b8" opacity="0.16"/><circle cx="92.5" cy="125.5" r="0.51" fill="#9aa4b8" opacity="0.18"/><circle cx="10.6" cy="165.5" r="0.50" fill="#9aa4b8" opacity="0.20"/><circle cx="94.4" cy="169.7" r="0.63" fill="#9aa4b8" opacity="0.16"/><circle cx="44.1" cy="532.4" r="0.59" fill="#9aa4b8" opacity="0.25"/><circle cx="30.8" cy="96.7" r="0.52" fill="#9aa4b8" opacity="0.27"/><circle cx="54.8" cy="426.5" r="0.47" fill="#9aa4b8" opacity="0.27"/><circle cx="35.5" cy="583.5" r="0.47" fill="#9aa4b8" opacity="0.23"/><circle cx="61.8" cy="165.2" r="0.41" fill="#9aa4b8" opacity="0.27"/><circle cx="81.0" cy="360.3" r="0.63" fill="#9aa4b8" opacity="0.19"/><circle cx="26.0" cy="154.8" r="0.54" fill="#9aa4b8" opacity="0.13"/><circle cx="73.9" cy="431.3" r="0.60" fill="#9aa4b8" opacity="0.20"/><circle cx="10.9" cy="195.2" r="0.64" fill="#9aa4b8" opacity="0.25"/><circle cx="62.1" cy="440.1" r="0.50" fill="#9aa4b8" opacity="0.27"/><circle cx="92.2" cy="472.2" r="0.50" fill="#9aa4b8" opacity="0.19"/><circle cx="79.0" cy="222.4" r="0.62" fill="#9aa4b8" opacity="0.16"/><circle cx="52.1" cy="331.5" r="0.63" fill="#9aa4b8" opacity="0.25"/><circle cx="13.1" cy="215.4" r="0.50" fill="#9aa4b8" opacity="0.13"/><circle cx="49.2" cy="541.8" r="0.54" fill="#9aa4b8" opacity="0.25"/><circle cx="39.6" cy="364.9" r="0.61" fill="#9aa4b8" opacity="0.17"/><circle cx="77.3" cy="533.2" r="0.57" fill="#9aa4b8" opacity="0.15"/><circle cx="73.9" cy="318.4" r="0.62" fill="#9aa4b8" opacity="0.30"/><circle cx="72.8" cy="522.1" r="0.62" fill="#9aa4b8" opacity="0.25"/><circle cx="12.9" cy="447.8" r="0.55" fill="#9aa4b8" opacity="0.26"/><circle cx="27.0" cy="42.8" r="0.61" fill="#9aa4b8" opacity="0.24"/><circle cx="26.8" cy="135.5" r="0.42" fill="#9aa4b8" opacity="0.16"/><circle cx="66.2" cy="620.0" r="0.49" fill="#9aa4b8" opacity="0.28"/><circle cx="68.5" cy="45.9" r="0.48" fill="#9aa4b8" opacity="0.29"/><circle cx="0.3" cy="400.2" r="0.47" fill="#9aa4b8" opacity="0.15"/><circle cx="5.8" cy="283.5" r="0.60" fill="#9aa4b8" opacity="0.23"/><circle cx="3.9" cy="526.2" r="0.46" fill="#9aa4b8" opacity="0.14"/><circle cx="61.7" cy="216.3" r="0.54" fill="#9aa4b8" opacity="0.19"/><circle cx="21.4" cy="504.6" r="0.61" fill="#9aa4b8" opacity="0.16"/><circle cx="79.3" cy="341.6" r="0.59" fill="#9aa4b8" opacity="0.13"/><circle cx="2.8" cy="321.0" r="0.42" fill="#9aa4b8" opacity="0.20"/><circle cx="61.7" cy="460.8" r="0.50" fill="#9aa4b8" opacity="0.24"/><circle cx="50.2" cy="374.4" r="0.62" fill="#9aa4b8" opacity="0.17"/><circle cx="97.6" cy="511.5" r="0.48" fill="#9aa4b8" opacity="0.31"/><circle cx="96.7" cy="45.4" r="0.43" fill="#9aa4b8" opacity="0.22"/><circle cx="44.5" cy="434.2" r="0.51" fill="#9aa4b8" opacity="0.26"/><circle cx="33.5" cy="120.8" r="0.47" fill="#9aa4b8" opacity="0.20"/><circle cx="19.0" cy="468.1" r="0.51" fill="#9aa4b8" opacity="0.22"/><circle cx="19.4" cy="447.6" r="0.47" fill="#9aa4b8" opacity="0.16"/><circle cx="54.9" cy="446.0" r="0.59" fill="#9aa4b8" opacity="0.31"/><circle cx="92.9" cy="585.1" r="0.58" fill="#9aa4b8" opacity="0.26"/><circle cx="6.1" cy="130.8" r="0.62" fill="#9aa4b8" opacity="0.12"/><circle cx="70.8" cy="400.8" r="0.49" fill="#9aa4b8" opacity="0.17"/><circle cx="16.0" cy="402.1" r="0.48" fill="#9aa4b8" opacity="0.32"/><circle cx="4.3" cy="111.4" r="0.62" fill="#9aa4b8" opacity="0.19"/><circle cx="78.8" cy="289.4" r="0.43" fill="#9aa4b8" opacity="0.14"/><circle cx="15.1" cy="494.5" r="0.65" fill="#9aa4b8" opacity="0.21"/><circle cx="89.3" cy="505.5" r="0.61" fill="#9aa4b8" opacity="0.22"/><circle cx="12.6" cy="69.2" r="0.53" fill="#9aa4b8" opacity="0.23"/><circle cx="20.5" cy="160.2" r="0.63" fill="#9aa4b8" opacity="0.12"/><circle cx="69.6" cy="601.2" r="0.51" fill="#9aa4b8" opacity="0.32"/><circle cx="71.8" cy="244.3" r="0.61" fill="#9aa4b8" opacity="0.28"/><circle cx="13.1" cy="8.2" r="0.55" fill="#9aa4b8" opacity="0.16"/><circle cx="37.1" cy="5.8" r="0.60" fill="#9aa4b8" opacity="0.29"/><circle cx="45.4" cy="27.5" r="0.53" fill="#9aa4b8" opacity="0.30"/><circle cx="7.0" cy="205.7" r="0.62" fill="#9aa4b8" opacity="0.24"/><circle cx="47.5" cy="406.7" r="0.46" fill="#9aa4b8" opacity="0.16"/><circle cx="88.8" cy="243.3" r="0.55" fill="#9aa4b8" opacity="0.14"/><circle cx="12.4" cy="127.1" r="0.55" fill="#9aa4b8" opacity="0.21"/><circle cx="62.4" cy="449.6" r="0.42" fill="#9aa4b8" opacity="0.21"/><circle cx="71.0" cy="34.2" r="0.50" fill="#9aa4b8" opacity="0.21"/><circle cx="65.9" cy="453.9" r="0.56" fill="#9aa4b8" opacity="0.17"/><circle cx="67.8" cy="300.0" r="0.63" fill="#9aa4b8" opacity="0.15"/><circle cx="58.7" cy="39.9" r="0.65" fill="#9aa4b8" opacity="0.17"/><circle cx="22.4" cy="249.5" r="0.61" fill="#9aa4b8" opacity="0.28"/><circle cx="62.1" cy="471.7" r="0.42" fill="#9aa4b8" opacity="0.13"/><circle cx="95.7" cy="510.5" r="0.41" fill="#9aa4b8" opacity="0.13"/><circle cx="23.6" cy="591.9" r="0.57" fill="#9aa4b8" opacity="0.16"/><circle cx="91.2" cy="406.2" r="0.47" fill="#9aa4b8" opacity="0.30"/><circle cx="15.0" cy="11.6" r="0.43" fill="#9aa4b8" opacity="0.27"/><circle cx="95.4" cy="451.5" r="0.60" fill="#9aa4b8" opacity="0.16"/><circle cx="16.0" cy="325.7" r="0.60" fill="#9aa4b8" opacity="0.14"/><circle cx="87.2" cy="582.8" r="0.61" fill="#9aa4b8" opacity="0.12"/><circle cx="54.5" cy="522.4" r="0.55" fill="#9aa4b8" opacity="0.22"/><circle cx="58.3" cy="508.5" r="0.41" fill="#9aa4b8" opacity="0.14"/><circle cx="53.5" cy="185.1" r="0.40" fill="#9aa4b8" opacity="0.20"/><circle cx="73.0" cy="15.3" r="0.60" fill="#9aa4b8" opacity="0.29"/><circle cx="44.9" cy="77.7" r="0.45" fill="#9aa4b8" opacity="0.25"/><circle cx="42.0" cy="70.2" r="0.54" fill="#9aa4b8" opacity="0.32"/><circle cx="34.5" cy="59.8" r="0.61" fill="#9aa4b8" opacity="0.27"/><circle cx="83.1" cy="64.5" r="0.48" fill="#9aa4b8" opacity="0.19"/><circle cx="74.7" cy="94.0" r="0.64" fill="#9aa4b8" opacity="0.24"/><circle cx="75.3" cy="4.4" r="0.43" fill="#9aa4b8" opacity="0.13"/><circle cx="67.9" cy="380.8" r="0.51" fill="#9aa4b8" opacity="0.22"/><circle cx="39.9" cy="388.6" r="0.63" fill="#9aa4b8" opacity="0.25"/><circle cx="71.8" cy="506.6" r="0.61" fill="#9aa4b8" opacity="0.30"/><circle cx="70.2" cy="19.5" r="0.61" fill="#9aa4b8" opacity="0.26"/><circle cx="42.2" cy="558.5" r="0.64" fill="#9aa4b8" opacity="0.16"/><circle cx="43.3" cy="449.3" r="0.48" fill="#9aa4b8" opacity="0.17"/><circle cx="34.2" cy="206.3" r="0.51" fill="#9aa4b8" opacity="0.14"/><circle cx="96.1" cy="416.0" r="0.59" fill="#9aa4b8" opacity="0.31"/><circle cx="82.0" cy="632.4" r="0.47" fill="#9aa4b8" opacity="0.27"/><circle cx="24.5" cy="262.3" r="0.46" fill="#9aa4b8" opacity="0.12"/><circle cx="86.9" cy="585.7" r="0.59" fill="#9aa4b8" opacity="0.19"/><circle cx="75.9" cy="565.9" r="0.53" fill="#9aa4b8" opacity="0.28"/><circle cx="10.3" cy="525.0" r="0.56" fill="#9aa4b8" opacity="0.18"/><circle cx="36.0" cy="341.7" r="0.44" fill="#9aa4b8" opacity="0.31"/><circle cx="52.0" cy="413.4" r="0.63" fill="#9aa4b8" opacity="0.23"/><circle cx="39.9" cy="581.2" r="0.64" fill="#9aa4b8" opacity="0.26"/><circle cx="8.8" cy="135.1" r="0.63" fill="#9aa4b8" opacity="0.18"/><circle cx="1.3" cy="165.5" r="0.65" fill="#9aa4b8" opacity="0.26"/><circle cx="17.3" cy="278.6" r="0.57" fill="#9aa4b8" opacity="0.26"/><circle cx="73.1" cy="479.0" r="0.46" fill="#9aa4b8" opacity="0.17"/><circle cx="2.7" cy="439.6" r="0.46" fill="#9aa4b8" opacity="0.16"/><circle cx="94.5" cy="409.1" r="0.56" fill="#9aa4b8" opacity="0.24"/><circle cx="58.6" cy="442.0" r="0.42" fill="#9aa4b8" opacity="0.18"/><circle cx="6.6" cy="9.2" r="0.44" fill="#9aa4b8" opacity="0.19"/><circle cx="11.1" cy="314.0" r="0.57" fill="#9aa4b8" opacity="0.31"/><circle cx="26.8" cy="489.4" r="0.43" fill="#9aa4b8" opacity="0.16"/><circle cx="29.7" cy="260.1" r="0.51" fill="#9aa4b8" opacity="0.26"/><circle cx="71.4" cy="60.3" r="0.49" fill="#9aa4b8" opacity="0.31"/><circle cx="81.6" cy="19.5" r="0.46" fill="#9aa4b8" opacity="0.29"/><circle cx="83.8" cy="510.6" r="0.47" fill="#9aa4b8" opacity="0.25"/><circle cx="1.0" cy="120.8" r="0.44" fill="#9aa4b8" opacity="0.30"/><circle cx="64.6" cy="373.3" r="0.45" fill="#9aa4b8" opacity="0.25"/><circle cx="14.1" cy="61.8" r="0.50" fill="#9aa4b8" opacity="0.32"/><circle cx="63.9" cy="362.3" r="0.42" fill="#9aa4b8" opacity="0.16"/><circle cx="1.5" cy="542.2" r="0.64" fill="#9aa4b8" opacity="0.15"/><circle cx="35.6" cy="459.6" r="0.60" fill="#9aa4b8" opacity="0.15"/><circle cx="24.7" cy="232.9" r="0.43" fill="#9aa4b8" opacity="0.22"/><circle cx="24.3" cy="506.2" r="0.50" fill="#9aa4b8" opacity="0.18"/><circle cx="74.9" cy="142.5" r="0.45" fill="#9aa4b8" opacity="0.16"/><circle cx="37.6" cy="232.4" r="0.52" fill="#9aa4b8" opacity="0.25"/><circle cx="85.2" cy="32.2" r="0.61" fill="#9aa4b8" opacity="0.25"/><circle cx="23.0" cy="18.7" r="0.43" fill="#9aa4b8" opacity="0.21"/><circle cx="45.1" cy="452.5" r="0.43" fill="#9aa4b8" opacity="0.14"/><circle cx="47.0" cy="110.5" r="0.51" fill="#9aa4b8" opacity="0.17"/><circle cx="11.6" cy="43.2" r="0.52" fill="#9aa4b8" opacity="0.19"/><circle cx="91.8" cy="352.8" r="0.46" fill="#9aa4b8" opacity="0.13"/><circle cx="72.9" cy="358.0" r="0.64" fill="#9aa4b8" opacity="0.29"/><circle cx="84.1" cy="70.0" r="0.53" fill="#9aa4b8" opacity="0.31"/><circle cx="23.5" cy="108.5" r="0.45" fill="#9aa4b8" opacity="0.29"/><circle cx="8.1" cy="168.7" r="0.52" fill="#9aa4b8" opacity="0.30"/><circle cx="71.7" cy="47.3" r="0.48" fill="#9aa4b8" opacity="0.21"/><circle cx="20.1" cy="421.6" r="0.43" fill="#9aa4b8" opacity="0.19"/><circle cx="96.4" cy="306.3" r="0.40" fill="#9aa4b8" opacity="0.16"/><circle cx="64.0" cy="327.3" r="0.52" fill="#9aa4b8" opacity="0.12"/><circle cx="72.6" cy="341.6" r="0.52" fill="#9aa4b8" opacity="0.17"/><circle cx="59.3" cy="414.1" r="0.60" fill="#9aa4b8" opacity="0.15"/><circle cx="92.7" cy="470.9" r="0.49" fill="#9aa4b8" opacity="0.29"/><circle cx="88.5" cy="115.6" r="0.55" fill="#9aa4b8" opacity="0.17"/><circle cx="88.4" cy="52.1" r="0.41" fill="#9aa4b8" opacity="0.16"/><circle cx="43.0" cy="89.3" r="0.59" fill="#9aa4b8" opacity="0.16"/><circle cx="57.2" cy="597.5" r="0.57" fill="#9aa4b8" opacity="0.20"/><circle cx="1.2" cy="603.2" r="0.52" fill="#9aa4b8" opacity="0.17"/><circle cx="50.1" cy="603.1" r="0.65" fill="#9aa4b8" opacity="0.22"/><circle cx="60.9" cy="137.6" r="0.45" fill="#9aa4b8" opacity="0.29"/><circle cx="98.0" cy="290.4" r="0.64" fill="#9aa4b8" opacity="0.17"/><circle cx="31.5" cy="258.8" r="0.57" fill="#9aa4b8" opacity="0.19"/><circle cx="2.2" cy="237.8" r="0.61" fill="#9aa4b8" opacity="0.15"/><circle cx="0.0" cy="386.4" r="0.51" fill="#9aa4b8" opacity="0.17"/><circle cx="55.1" cy="452.7" r="0.46" fill="#9aa4b8" opacity="0.15"/><circle cx="11.8" cy="610.7" r="0.43" fill="#9aa4b8" opacity="0.15"/><circle cx="51.2" cy="369.8" r="0.41" fill="#9aa4b8" opacity="0.30"/><circle cx="23.0" cy="106.5" r="0.51" fill="#9aa4b8" opacity="0.24"/><circle cx="40.1" cy="565.0" r="0.62" fill="#9aa4b8" opacity="0.25"/><circle cx="93.8" cy="171.0" r="0.50" fill="#9aa4b8" opacity="0.31"/><circle cx="5.1" cy="581.8" r="0.40" fill="#9aa4b8" opacity="0.14"/><circle cx="28.4" cy="183.8" r="0.62" fill="#9aa4b8" opacity="0.31"/><circle cx="41.2" cy="336.7" r="0.60" fill="#9aa4b8" opacity="0.29"/><circle cx="64.0" cy="326.1" r="0.46" fill="#9aa4b8" opacity="0.14"/><circle cx="64.5" cy="372.9" r="0.62" fill="#9aa4b8" opacity="0.28"/><circle cx="94.3" cy="122.5" r="0.62" fill="#9aa4b8" opacity="0.14"/><circle cx="55.9" cy="115.5" r="0.46" fill="#9aa4b8" opacity="0.26"/><circle cx="23.2" cy="232.9" r="0.57" fill="#9aa4b8" opacity="0.22"/><circle cx="7.2" cy="471.5" r="0.52" fill="#9aa4b8" opacity="0.24"/><circle cx="65.9" cy="508.5" r="0.52" fill="#9aa4b8" opacity="0.12"/><circle cx="66.4" cy="451.0" r="0.45" fill="#9aa4b8" opacity="0.25"/><circle cx="93.9" cy="499.7" r="0.51" fill="#9aa4b8" opacity="0.17"/><circle cx="93.9" cy="131.7" r="0.64" fill="#9aa4b8" opacity="0.20"/><circle cx="88.2" cy="147.9" r="0.49" fill="#9aa4b8" opacity="0.27"/><circle cx="65.0" cy="487.7" r="0.46" fill="#9aa4b8" opacity="0.15"/><circle cx="21.1" cy="169.2" r="0.43" fill="#9aa4b8" opacity="0.13"/><circle cx="39.8" cy="267.6" r="0.55" fill="#9aa4b8" opacity="0.14"/><circle cx="92.4" cy="366.9" r="0.58" fill="#9aa4b8" opacity="0.19"/><circle cx="42.8" cy="111.6" r="0.40" fill="#9aa4b8" opacity="0.22"/><circle cx="66.2" cy="102.4" r="0.64" fill="#9aa4b8" opacity="0.19"/><circle cx="75.1" cy="531.4" r="0.56" fill="#9aa4b8" opacity="0.25"/><circle cx="69.1" cy="614.6" r="0.59" fill="#9aa4b8" opacity="0.16"/><circle cx="29.5" cy="162.7" r="0.55" fill="#9aa4b8" opacity="0.28"/><circle cx="83.3" cy="556.6" r="0.45" fill="#9aa4b8" opacity="0.24"/><circle cx="1.5" cy="340.2" r="0.47" fill="#9aa4b8" opacity="0.27"/><circle cx="6.9" cy="3.0" r="0.57" fill="#9aa4b8" opacity="0.15"/><circle cx="0.4" cy="146.3" r="0.58" fill="#9aa4b8" opacity="0.17"/><circle cx="96.7" cy="12.3" r="0.63" fill="#9aa4b8" opacity="0.14"/><circle cx="95.1" cy="94.5" r="0.53" fill="#9aa4b8" opacity="0.19"/><circle cx="31.4" cy="265.5" r="0.46" fill="#9aa4b8" opacity="0.22"/><circle cx="5.4" cy="53.4" r="0.42" fill="#9aa4b8" opacity="0.15"/><circle cx="61.2" cy="443.1" r="0.60" fill="#9aa4b8" opacity="0.17"/><circle cx="71.4" cy="217.3" r="0.45" fill="#9aa4b8" opacity="0.22"/><circle cx="91.0" cy="356.4" r="0.44" fill="#9aa4b8" opacity="0.13"/><circle cx="67.9" cy="245.0" r="0.46" fill="#9aa4b8" opacity="0.26"/><circle cx="78.1" cy="510.1" r="0.55" fill="#9aa4b8" opacity="0.14"/><circle cx="18.7" cy="450.1" r="0.60" fill="#9aa4b8" opacity="0.28"/><circle cx="22.7" cy="59.4" r="0.54" fill="#9aa4b8" opacity="0.25"/><circle cx="13.5" cy="122.6" r="0.43" fill="#9aa4b8" opacity="0.24"/><circle cx="62.1" cy="153.2" r="0.51" fill="#9aa4b8" opacity="0.17"/><circle cx="52.2" cy="460.7" r="0.58" fill="#9aa4b8" opacity="0.13"/><circle cx="21.7" cy="185.0" r="0.57" fill="#9aa4b8" opacity="0.25"/><circle cx="60.2" cy="573.6" r="0.48" fill="#9aa4b8" opacity="0.16"/><circle cx="64.9" cy="165.9" r="0.46" fill="#9aa4b8" opacity="0.15"/></svg>
<div class="a" style="left:98px;top:21.5px;width:2px;height:615px;background:#e9eaee"></div>
<svg class="a" style="left:29.5px;top:3.8px" width="12" height="12" viewBox="0 0 20 20">
<g transform="translate(10,10)">
<path d="M-1.5-9.5 Q3-9 5-4.5 L1.5-3.2 Q1-6 -1.5-9.5Z" fill="#a07cf0"/>
<path d="M-1.5-9.5 Q3-9 5-4.5 L1.5-3.2 Q1-6 -1.5-9.5Z" fill="#d8c8fa" transform="rotate(60)"/>
<path d="M-1.5-9.5 Q3-9 5-4.5 L1.5-3.2 Q1-6 -1.5-9.5Z" fill="#7c55e0" transform="rotate(120)"/>
<path d="M-1.5-9.5 Q3-9 5-4.5 L1.5-3.2 Q1-6 -1.5-9.5Z" fill="#c6b0f6" transform="rotate(180)"/>
<path d="M-1.5-9.5 Q3-9 5-4.5 L1.5-3.2 Q1-6 -1.5-9.5Z" fill="#8a62e6" transform="rotate(240)"/>
<path d="M-1.5-9.5 Q3-9 5-4.5 L1.5-3.2 Q1-6 -1.5-9.5Z" fill="#e4dafc" transform="rotate(300)"/>
<path d="M0-9 L4-3 L-4-3Z" fill="#9a74ec" opacity=".7" transform="rotate(30)"/>
<path d="M0-9 L4-3 L-4-3Z" fill="#b497f3" opacity=".7" transform="rotate(150)"/>
<path d="M0-9 L4-3 L-4-3Z" fill="#845adf" opacity=".7" transform="rotate(270)"/>
</g></svg>
<div class="t" style="left:43.2px;top:2.4px;font-size:10.4px;color:#ececf0;-webkit-text-stroke:0.45px #ececf0;letter-spacing:0px"><span style="color:#9d78ee">y</span>nex</div>
<div class="a" style="left:0;top:22.3px;width:98px;height:0.8px;background:#16181c"></div>
<div class="lbl" style="top:31.3px">MAIN</div>
<div class="a" style="left:2.8px;top:42px;width:90.5px;height:17px;background:#14161a;border-radius:3px"></div>
<svg class="a" style="left:7.6px;top:47.2px" width="7.2" height="7.2" viewBox="0 0 10 10"><path d="M1 4.6 L5 1.2 L9 4.6 M2 3.8 V9 H8 V3.8 M4 9 V6.3 H6 V9" fill="none" stroke="#eceef3" stroke-width="1.1" stroke-linejoin="round"/></svg>
<div class="nav" style="top:46.8px;color:#f3f4f7;font-size:6.4px;-webkit-text-stroke:0.25px #f3f4f7;left:19.4px">Dashboards</div>
<div class="a" style="left:56.3px;top:47.3px;width:9.7px;height:7px;background:#2a1a12;border-radius:1.5px;font-size:4.2px;color:#f07a3e;text-align:center;line-height:7px">12</div>
<div class="sub act" style="top:64.2px">CRM</div>
<div class="sub" style="top:78.7px">Ecommerce</div>
<div class="sub" style="top:92.6px">Crypto</div>
<div class="sub" style="top:106.4px">Jobs</div>
<div class="sub" style="top:120.1px">NFT</div>
<div class="sub" style="top:134.0px">Sales</div>
<div class="sub" style="top:148.0px">Analytics</div>
<div class="sub" style="top:162.0px">Projects</div>
<div class="sub" style="top:175.7px">HRM</div>
<div class="sub" style="top:189.6px">Stocks</div>
<div class="sub" style="top:203.5px">Courses</div>
<div class="sub" style="top:217.8px">Personal</div>
<div class="lbl" style="top:233.2px">PAGES</div>
<div class="lbl" style="top:302.6px">GENERAL</div>
<div class="lbl" style="top:408.1px">WEB APPS</div>
<div class="lbl" style="top:460.2px">TABLES &amp; CHARTS</div>
<div class="lbl" style="top:512.0px">MAPS &amp; ICONS</div>
<svg class="a" style="left:7.6px;top:249.6px" width="6.8" height="6.8" viewBox="0 0 10 10"><path d="M2 1 H6 L8.5 3.5 V9 H2 Z M6 1 V3.5 H8.5" fill="none" stroke="#b9bdc6" stroke-width="1" stroke-linejoin="round" stroke-linecap="round"/></svg>
<div class="nav" style="top:249.0px;left:19.3px">Pages</div>
<svg class="a" style="left:84px;top:251.0px" width="3" height="4" viewBox="0 0 3 4"><path d="M.7 .5 L2.2 2 L.7 3.5" fill="none" stroke="#9a9ea8" stroke-width=".75"/></svg>
<svg class="a" style="left:7.6px;top:267.5px" width="6.8" height="6.8" viewBox="0 0 10 10"><circle cx="5" cy="5" r="3.8" fill="none" stroke="#b9bdc6" stroke-width="1" stroke-linejoin="round" stroke-linecap="round"/><path d="M2.5 4 Q5 2 7.5 4 M3 6 Q5 4.5 7 6 M5 5.5 V9" fill="none" stroke="#b9bdc6" stroke-width="1" stroke-linejoin="round" stroke-linecap="round"/></svg>
<div class="nav" style="top:266.9px;left:19.3px">Authentication</div>
<svg class="a" style="left:84px;top:268.9px" width="3" height="4" viewBox="0 0 3 4"><path d="M.7 .5 L2.2 2 L.7 3.5" fill="none" stroke="#9a9ea8" stroke-width=".75"/></svg>
<svg class="a" style="left:7.6px;top:285.1px" width="6.8" height="6.8" viewBox="0 0 10 10"><path d="M5 1.2 L9.2 8.6 H0.8 Z M5 4 V6 M5 7.2 V7.4" fill="none" stroke="#b9bdc6" stroke-width="1" stroke-linejoin="round" stroke-linecap="round"/></svg>
<div class="nav" style="top:284.5px;left:19.3px">Error</div>
<svg class="a" style="left:84px;top:286.5px" width="3" height="4" viewBox="0 0 3 4"><path d="M.7 .5 L2.2 2 L.7 3.5" fill="none" stroke="#9a9ea8" stroke-width=".75"/></svg>
<svg class="a" style="left:7.6px;top:319.2px" width="6.8" height="6.8" viewBox="0 0 10 10"><path d="M1.2 1.5 H8.8 V4 H1.2 Z M2 4 V8.8 H8 V4 M4 5.8 H6" fill="none" stroke="#b9bdc6" stroke-width="1" stroke-linejoin="round" stroke-linecap="round"/></svg>
<div class="nav" style="top:318.6px;left:19.3px">Ui Elements</div>
<svg class="a" style="left:84px;top:320.6px" width="3" height="4" viewBox="0 0 3 4"><path d="M.7 .5 L2.2 2 L.7 3.5" fill="none" stroke="#9a9ea8" stroke-width=".75"/></svg>
<svg class="a" style="left:7.6px;top:336.8px" width="6.8" height="6.8" viewBox="0 0 10 10"><path d="M3 1 H7 V3.5 H3 Z M2.5 3.5 H7.5 V6.5 H2.5 Z M3 6.5 H7 V9 H3 Z" fill="none" stroke="#b9bdc6" stroke-width="1" stroke-linejoin="round" stroke-linecap="round"/></svg>
<div class="nav" style="top:336.2px;left:19.3px">Utilities</div>
<svg class="a" style="left:84px;top:338.2px" width="3" height="4" viewBox="0 0 3 4"><path d="M.7 .5 L2.2 2 L.7 3.5" fill="none" stroke="#9a9ea8" stroke-width=".75"/></svg>
<svg class="a" style="left:7.6px;top:354.9px" width="6.8" height="6.8" viewBox="0 0 10 10"><path d="M2 1 H6 L8.5 3.5 V9 H2 Z M3.5 5 H7 M3.5 6.6 H7 M3.5 3.4 H5" fill="none" stroke="#b9bdc6" stroke-width="1" stroke-linejoin="round" stroke-linecap="round"/></svg>
<div class="nav" style="top:354.3px;left:19.3px">Forms</div>
<svg class="a" style="left:84px;top:356.3px" width="3" height="4" viewBox="0 0 3 4"><path d="M.7 .5 L2.2 2 L.7 3.5" fill="none" stroke="#9a9ea8" stroke-width=".75"/></svg>
<svg class="a" style="left:7.6px;top:372.5px" width="6.8" height="6.8" viewBox="0 0 10 10"><path d="M1.5 8.5 L3 5 L6.5 1.5 L8.5 3.5 L5 7 Z M3 5 L5 7 M6 4 L7.5 2.5" fill="none" stroke="#b9bdc6" stroke-width="1" stroke-linejoin="round" stroke-linecap="round"/></svg>
<div class="nav" style="top:371.9px;left:19.3px">Advanced Ui</div>
<svg class="a" style="left:84px;top:373.9px" width="3" height="4" viewBox="0 0 3 4"><path d="M.7 .5 L2.2 2 L.7 3.5" fill="none" stroke="#9a9ea8" stroke-width=".75"/></svg>
<svg class="a" style="left:7.6px;top:390.3px" width="6.8" height="6.8" viewBox="0 0 10 10"><path d="M1.2 3.5 H8.8 V5 H1.2 Z M2 5 V9 H8 V5 M5 3.5 V9 M5 3.5 Q3 0.5 2.5 2.5 Q3 3.5 5 3.5 Q7 3.5 7.5 2.5 Q7 0.5 5 3.5" fill="none" stroke="#b9bdc6" stroke-width="1" stroke-linejoin="round" stroke-linecap="round"/></svg>
<div class="nav" style="top:389.7px;left:19.3px">Widgets</div>
<svg class="a" style="left:7.6px;top:424.2px" width="6.8" height="6.8" viewBox="0 0 10 10"><rect x="1.2" y="1.2" width="3" height="3" rx=".6" fill="none" stroke="#b9bdc6" stroke-width="1" stroke-linejoin="round" stroke-linecap="round"/><rect x="5.8" y="1.2" width="3" height="3" rx=".6" fill="none" stroke="#b9bdc6" stroke-width="1" stroke-linejoin="round" stroke-linecap="round"/><rect x="1.2" y="5.8" width="3" height="3" rx=".6" fill="none" stroke="#b9bdc6" stroke-width="1" stroke-linejoin="round" stroke-linecap="round"/><rect x="5.8" y="5.8" width="3" height="3" rx=".6" fill="none" stroke="#b9bdc6" stroke-width="1" stroke-linejoin="round" stroke-linecap="round"/></svg>
<div class="nav" style="top:423.6px;left:19.3px">Apps</div>
<svg class="a" style="left:84px;top:425.6px" width="3" height="4" viewBox="0 0 3 4"><path d="M.7 .5 L2.2 2 L.7 3.5" fill="none" stroke="#9a9ea8" stroke-width=".75"/></svg>
<svg class="a" style="left:7.6px;top:442.2px" width="6.8" height="6.8" viewBox="0 0 10 10"><path d="M5 1 L9 3.2 L5 5.4 L1 3.2 Z M1 5.2 L5 7.4 L9 5.2 M1 7 L5 9.2 L9 7" fill="none" stroke="#b9bdc6" stroke-width="1" stroke-linejoin="round" stroke-linecap="round"/></svg>
<div class="nav" style="top:441.6px;left:19.3px">Nested Menu</div>
<svg class="a" style="left:84px;top:443.6px" width="3" height="4" viewBox="0 0 3 4"><path d="M.7 .5 L2.2 2 L.7 3.5" fill="none" stroke="#9a9ea8" stroke-width=".75"/></svg>
<svg class="a" style="left:7.6px;top:475.8px" width="6.8" height="6.8" viewBox="0 0 10 10"><rect x="1" y="1.5" width="8" height="7" rx=".8" fill="none" stroke="#b9bdc6" stroke-width="1" stroke-linejoin="round" stroke-linecap="round"/><path d="M1 4 H9 M1 6.3 H9 M3.7 4 V8.5 M6.3 4 V8.5" fill="none" stroke="#b9bdc6" stroke-width="1" stroke-linejoin="round" stroke-linecap="round"/></svg>
<div class="nav" style="top:475.2px;left:19.3px">Tables</div>
<svg class="a" style="left:7.6px;top:493.8px" width="6.8" height="6.8" viewBox="0 0 10 10"><rect x="1" y="1" width="8" height="8" rx=".8" fill="none" stroke="#b9bdc6" stroke-width="1" stroke-linejoin="round" stroke-linecap="round"/><path d="M3.2 6.8 V5 M5 6.8 V3 M6.8 6.8 V4.5" fill="none" stroke="#b9bdc6" stroke-width="1" stroke-linejoin="round" stroke-linecap="round"/></svg>
<div class="nav" style="top:493.2px;left:19.3px">Charts</div>
<svg class="a" style="left:84px;top:495.2px" width="3" height="4" viewBox="0 0 3 4"><path d="M.7 .5 L2.2 2 L.7 3.5" fill="none" stroke="#9a9ea8" stroke-width=".75"/></svg>
<svg class="a" style="left:7.6px;top:527.6px" width="6.8" height="6.8" viewBox="0 0 10 10"><path d="M5 9 Q1.5 5.5 1.5 4 A3.5 3.5 0 0 1 8.5 4 Q8.5 5.5 5 9 Z" fill="none" stroke="#b9bdc6" stroke-width="1" stroke-linejoin="round" stroke-linecap="round"/><circle cx="5" cy="4" r="1.2" fill="none" stroke="#b9bdc6" stroke-width="1" stroke-linejoin="round" stroke-linecap="round"/></svg>
<div class="nav" style="top:527.0px;left:19.3px">Maps</div>
<svg class="a" style="left:84px;top:529.0px" width="3" height="4" viewBox="0 0 3 4"><path d="M.7 .5 L2.2 2 L.7 3.5" fill="none" stroke="#9a9ea8" stroke-width=".75"/></svg>
<svg class="a" style="left:7.6px;top:545.6px" width="6.8" height="6.8" viewBox="0 0 10 10"><rect x="1" y="1" width="8" height="8" rx=".8" fill="none" stroke="#b9bdc6" stroke-width="1" stroke-linejoin="round" stroke-linecap="round"/><path d="M1 4.5 H9 M5 1 V9 M2.5 6.5 H3.5 M6.5 2.5 H7.5" fill="none" stroke="#b9bdc6" stroke-width="1" stroke-linejoin="round" stroke-linecap="round"/></svg>
<div class="nav" style="top:545.0px;left:19.3px">Icons</div>
<div class="a" style="left:44.5px;top:390px;width:12.5px;height:7.4px;background:#23140f;border-radius:1.5px;font-size:4.6px;font-weight:bold;color:#f0643f;text-align:center;line-height:7.4px">Hot</div>
<div class="a" style="left:41.2px;top:475.8px;width:7.4px;height:7.4px;background:#12291f;border-radius:1.5px;font-size:4.4px;color:#3ed19f;text-align:center;line-height:7.4px">3</div>
</div>
<div id="hd">
<div class="a" style="left:11.5px;top:6.7px;width:7px;height:1.1px;background:#536485"></div>
<div class="a" style="left:11.5px;top:9.2px;width:5px;height:1.1px;background:#536485"></div>
<div class="a" style="left:11.5px;top:11.8px;width:7px;height:1.1px;background:#536485"></div>
<svg class="a" style="left:490.5px;top:6.5px" width="7" height="7" viewBox="0 0 10 10"><circle cx="4.2" cy="4.2" r="3" fill="none" stroke="#536485" stroke-width="1.2"/><path d="M6.4 6.4 L9 9" stroke="#536485" stroke-width="1.3"/></svg>
<svg class="a" style="left:508.5px;top:5.5px" width="8" height="8" viewBox="0 0 10 10"><defs><clipPath id="fc"><circle cx="5" cy="5" r="5"/></clipPath></defs><g clip-path="url(#fc)"><rect width="10" height="10" fill="#f2b6bb"/><rect width="5" height="5" fill="#7d6cc0"/></g></svg>
<svg class="a" style="left:529px;top:6px" width="7" height="7" viewBox="0 0 10 10"><path d="M6.5 1.2 A4 4 0 1 0 8.8 6.8 A3.4 3.4 0 0 1 6.5 1.2 Z" fill="none" stroke="#536485" stroke-width="1.1"/></svg>
<svg class="a" style="left:549px;top:6px" width="8" height="8" viewBox="0 0 10 10"><path d="M0.5 1.5 H2 L3.2 7 H8.3 L9.3 3 H2.6" fill="none" stroke="#536485" stroke-width="1"/><circle cx="3.8" cy="8.7" r=".8" fill="#536485"/><circle cx="7.6" cy="8.7" r=".8" fill="#536485"/></svg>
<div class="a" style="left:553.8px;top:2.5px;width:6px;height:6px;border-radius:50%;background:#845adf;font-size:3.8px;color:#fff;text-align:center;line-height:6px">5</div>
<svg class="a" style="left:569.5px;top:5.5px" width="7" height="8" viewBox="0 0 9 10"><path d="M1 7.5 H8 L7 6.2 V4 A2.5 2.5 0 0 0 2 4 V6.2 Z M3.5 8.6 A1 1 0 0 0 5.5 8.6" fill="none" stroke="#536485" stroke-width="1"/></svg>
<div class="a" style="left:574.8px;top:2.5px;width:6px;height:6px;border-radius:50%;background:#23b7e5;font-size:3.8px;color:#fff;text-align:center;line-height:6px">3</div>
<svg class="a" style="left:590.5px;top:6.5px" width="7" height="7" viewBox="0 0 10 10"><rect x=".8" y=".8" width="3.4" height="3.4" rx="1" fill="none" stroke="#536485" stroke-width="1"/><rect x="5.8" y=".8" width="3.4" height="3.4" rx="1" fill="none" stroke="#536485" stroke-width="1"/><rect x=".8" y="5.8" width="3.4" height="3.4" rx="1" fill="none" stroke="#536485" stroke-width="1"/><rect x="5.8" y="5.8" width="3.4" height="3.4" rx="1" fill="none" stroke="#536485" stroke-width="1"/></svg>
<svg class="a" style="left:611px;top:6.5px" width="7" height="7" viewBox="0 0 10 10"><path d="M.8 3 V.8 H3 M7 .8 H9.2 V3 M9.2 7 V9.2 H7 M3 9.2 H.8 V7" fill="none" stroke="#536485" stroke-width="1.1"/></svg>
<div class="a" style="left:628.5px;top:3px;width:13px;height:13px;border-radius:50%;background:#e4e7f3;overflow:hidden">
<div class="a" style="left:3.8px;top:3px;width:5.6px;height:6.2px;border-radius:45%;background:#b07d5a"></div>
<div class="a" style="left:3.4px;top:2px;width:6.4px;height:2.8px;border-radius:3px 3px 1px 1px;background:#23201f"></div>
<div class="a" style="left:1.5px;top:9.2px;width:10px;height:6px;border-radius:4px 4px 0 0;background:#cbbfae"></div>
<div class="a" style="left:8.2px;top:7.5px;width:1.6px;height:4px;border-radius:.5px;background:#3a3a40"></div>
</div>
<div class="t" style="left:646px;top:2.6px;font-size:5.6px;font-weight:bold;color:#44454d">Json Taylor</div>
<div class="t" style="left:646px;top:10.4px;font-size:4.85px;color:#a2a6ae">Web Designer</div>
<svg class="a" style="left:686.5px;top:5.5px" width="9" height="9" viewBox="0 0 10 10"><path d="M4.2 .8 H5.8 L6.1 2.1 L7.2 2.7 L8.4 2.1 L9.2 3.5 L8.2 4.4 V5.6 L9.2 6.5 L8.4 7.9 L7.2 7.3 L6.1 7.9 L5.8 9.2 H4.2 L3.9 7.9 L2.8 7.3 L1.6 7.9 L.8 6.5 L1.8 5.6 V4.4 L.8 3.5 L1.6 2.1 L2.8 2.7 L3.9 2.1 Z" fill="none" stroke="#536485" stroke-width="1" stroke-linejoin="round"/><circle cx="5" cy="5" r="1.5" fill="none" stroke="#536485" stroke-width="1"/></svg>
</div>
<div class="t" style="left:106.5px;top:33.5px;font-size:7.7px;font-weight:bold;color:#333335">Welcome back, Json Taylor !</div>
<div class="t" style="left:106.5px;top:43.7px;font-size:5.85px;color:#8c9097">Track your current projects, summary and activity here.</div>
<div class="a" style="left:712px;top:34.5px;width:38px;height:16.5px;background:#845adf;border-radius:2.5px"></div>
<svg class="a" style="left:718.2px;top:40.3px" width="5" height="5" viewBox="0 0 10 10"><path d="M0.5 1.5 H9.5 L5 9 Z" fill="#fff" stroke="#fff" stroke-width="1" stroke-linejoin="round"/></svg>
<div class="t" style="left:726.8px;top:39.4px;font-size:6.1px;color:#fff;-webkit-text-stroke:0.35px #fff">Filters</div>
<div class="a" style="left:754px;top:34.3px;width:39.5px;height:16.5px;background:#f7fbfd;border:0.9px solid #a6e0f3;border-radius:2.5px"></div>
<svg class="a" style="left:760px;top:39.2px" width="6.5" height="6.5" viewBox="0 0 10 10"><path d="M2.6 8 A2.5 2.5 0 0 1 2.4 3.2 A3.2 3.2 0 0 1 8.4 4.2 A2 2 0 0 1 7.6 8 Z M5 7.8 V4.6 M3.7 5.9 L5 4.6 L6.3 5.9" fill="none" stroke="#23b7e5" stroke-width=".9" stroke-linejoin="round"/></svg>
<div class="t" style="left:769.5px;top:39.4px;font-size:6.1px;color:#23b7e5;-webkit-text-stroke:0.2px #23b7e5">Export</div>

<div class="card" style="left:105.8px;top:61.5px;width:166px;height:63px;background:#fff;border-radius:4.5px"></div>
<div class="a" style="left:106.5px;top:62.3px;width:164.8px;height:61.6px;border-radius:4px;overflow:hidden;background:linear-gradient(180deg,#8b6ee0 0%,#7e63d8 50%,#7459d0 100%)">
<svg class="a" style="left:0;top:0" width="165" height="62" viewBox="0 0 165 62">
<rect width="165" height="62" fill="#7d64d5"/>
<path d="M0 0 H165 V14 Q150 8 135 12 Q118 17 100 10 Q80 4 60 11 Q40 17 22 9 Q10 5 0 9 Z" fill="#9a7fe3" opacity=".75"/>
<path d="M0 9 Q10 5 22 9 Q40 17 60 11 Q80 4 100 10 Q118 17 135 12 Q150 8 165 14 V34 Q140 26 115 31 Q90 36 60 27 Q30 22 0 30 Z" fill="#8a6fdc" opacity=".7"/>
<path d="M-3.0 63.0 L0.1 44.2 L3.1 63.0 Z M1.7 63.0 L4.3 38.1 L6.8 63.0 Z M5.8 63.0 L8.7 50.0 L11.6 63.0 Z M9.8 63.0 L13.0 46.8 L16.2 63.0 Z M12.5 63.0 L16.0 37.7 L19.4 63.0 Z M16.5 63.0 L20.3 49.8 L24.1 63.0 Z M21.0 63.0 L24.5 45.1 L28.0 63.0 Z M25.1 63.0 L28.5 52.5 L31.9 63.0 Z M27.3 63.0 L31.1 50.1 L34.9 63.0 Z M32.6 63.0 L36.4 48.9 L40.3 63.0 Z M37.7 63.0 L40.8 47.3 L43.9 63.0 Z M40.0 63.0 L43.9 47.7 L47.8 63.0 Z M44.5 63.0 L47.2 48.3 L49.9 63.0 Z M67.8 63.0 L70.9 52.0 L74.1 63.0 Z M71.3 63.0 L74.6 46.2 L77.9 63.0 Z M76.3 63.0 L79.7 49.6 L83.1 63.0 Z M82.3 63.0 L85.8 46.8 L89.3 63.0 Z M86.7 63.0 L90.7 42.0 L94.7 63.0 Z M90.5 63.0 L94.3 45.6 L98.1 63.0 Z M97.5 63.0 L100.8 41.5 L104.2 63.0 Z M100.7 63.0 L104.4 45.0 L108.2 63.0 Z M107.0 63.0 L109.6 47.0 L112.2 63.0 Z M113.3 63.0 L116.0 43.0 L118.6 63.0 Z M117.1 63.0 L119.8 43.8 L122.5 63.0 Z M121.7 63.0 L125.5 50.9 L129.3 63.0 Z M127.7 63.0 L130.2 54.4 L132.8 63.0 Z M130.8 63.0 L134.7 44.9 L138.5 63.0 Z M136.0 63.0 L140.0 41.3 L144.0 63.0 Z M140.8 63.0 L144.2 50.7 L147.6 63.0 Z M146.3 63.0 L149.4 54.6 L152.5 63.0 Z M151.7 63.0 L154.3 46.5 L156.9 63.0 Z M155.7 63.0 L159.6 42.9 L163.6 63.0 Z M161.6 63.0 L164.8 42.4 L167.9 63.0 Z " fill="#7058c8" opacity=".55"/>
<rect y="48" width="165" height="14" fill="#6f57c8" opacity=".35"/>
</svg>
<div class="t" style="left:8.5px;top:13px;font-size:7.7px;font-weight:bold;color:#fff">Your target is incomplete</div>
<div class="t" style="left:8.5px;top:26.5px;font-size:5.4px;color:#ebe6fb;line-height:7.9px">You have completed <b style="color:#f5b849">48%</b> of the given<br>target, you can also check your status.</div>
<div class="t" style="left:8.5px;top:43.6px;font-size:5.4px;font-weight:bold;color:#fff;text-decoration:underline">Click here</div>
<svg class="a" style="left:120.75px;top:15.7px" width="30" height="30" viewBox="0 0 30 30"><circle cx="15" cy="15" r="13.6" fill="none" stroke="#6550b0" stroke-width="2.2"/><circle cx="15" cy="15" r="13.6" fill="none" stroke="#fff" stroke-width="2.2" stroke-dasharray="41 100" transform="rotate(-90 15 15)"/></svg>
<div class="t" style="left:120.75px;width:30px;text-align:center;top:27.6px;font-size:5.8px;font-weight:bold;color:#fff">48%</div>
</div>
<div class="card" style="left:281.3px;top:61.5px;width:165px;height:63px">
<div class="a" style="left:8.6px;top:8.8px;width:17.4px;height:17.4px;border-radius:50%;background:#845adf"></div>
<svg class="a" style="left:13.6px;top:13.8px" width="7.4" height="7.4" viewBox="0 0 10 10"><circle cx="4" cy="3.5" r="1.8" fill="none" stroke="#fff" stroke-width="1"/><path d="M1 8.8 Q1 6 4 6 Q7 6 7 8.8" fill="none" stroke="#fff" stroke-width="1"/><path d="M6.5 1.8 A1.7 1.7 0 0 1 6.5 5.2 M8 6.3 Q9.3 6.8 9.3 8.8" fill="none" stroke="#fff" stroke-width=".9"/></svg>
<div class="t" style="left:32.6px;top:10.4px;font-size:5.75px;color:#8c9097">Total Customers</div>
<div class="t" style="left:32.3px;top:19.2px;font-size:11.1px;color:#333335;-webkit-text-stroke:0.3px #333335;letter-spacing:0px">1,02,890</div>
<div class="t" style="left:32.6px;top:42.8px;font-size:5.85px;color:#845adf">View All</div>
<svg class="a" style="left:57.2px;top:43.9px" width="4.6" height="4.6" viewBox="0 0 10 10"><path d="M0.8 5 H6" stroke="#845adf" stroke-width="2"/><path d="M5 1.8 L9.6 5 L5 8.2 Z" fill="#845adf"/></svg>
<div class="t" style="right:8.3px;top:38.6px;font-size:5.8px;font-weight:bold;color:#26bf94;text-align:right">+40%</div>
<div class="t" style="right:8.3px;top:47.2px;font-size:4.95px;color:#a3a6ad;text-align:right">this month</div>
<svg class="a" style="left:0;top:0" width="165" height="63" viewBox="0 0 165 63"><defs><linearGradient id="g1" x1="0" x2="1" y1="0" y2="0"><stop offset="0" stop-color="#707384"/><stop offset=".45" stop-color="#9a7ee6"/><stop offset="1" stop-color="#9a7ee6"/></linearGradient></defs><path d="M114.55 16.25 C115.42 17.01 118.02 20.72 119.75 20.80 C121.49 20.89 123.22 16.25 124.95 16.77 C126.69 17.29 128.42 24.36 130.16 23.93 C131.89 23.49 133.62 15.40 135.36 14.17 C137.09 12.95 138.83 16.47 140.56 16.58 C142.29 16.69 143.97 13.58 145.76 14.82 C147.55 16.07 149.50 22.84 151.29 24.06 C153.08 25.27 155.62 22.43 156.49 22.10" fill="none" stroke="url(#g1)" stroke-width="1" stroke-linecap="round"/></svg>
</div>
<div class="card" style="left:456.3px;top:61.5px;width:165px;height:63px">
<div class="a" style="left:8.6px;top:8.8px;width:17.4px;height:17.4px;border-radius:50%;background:#23b7e5"></div>
<svg class="a" style="left:13.6px;top:13.8px" width="7.4" height="7.4" viewBox="0 0 10 10"><rect x="1.3" y="2.5" width="7.4" height="6.3" rx="1.2" fill="none" stroke="#fff" stroke-width="1"/><path d="M3 2.5 V1.5 H7 V2.5 M3.5 5.5 H6.5" fill="none" stroke="#fff" stroke-width="1"/></svg>
<div class="t" style="left:32.6px;top:10.4px;font-size:5.75px;color:#8c9097">Total Revenue</div>
<div class="t" style="left:32.3px;top:19.2px;font-size:11.1px;color:#333335;-webkit-text-stroke:0.3px #333335;letter-spacing:0px">$56,562<span style="font-size:5px;-webkit-text-stroke:0;color:#8c9097;margin-left:3px;vertical-align:1px">USD</span></div>
<div class="t" style="left:32.6px;top:42.8px;font-size:5.85px;color:#23b7e5">View All</div>
<svg class="a" style="left:57.2px;top:43.9px" width="4.6" height="4.6" viewBox="0 0 10 10"><path d="M0.8 5 H6" stroke="#23b7e5" stroke-width="2"/><path d="M5 1.8 L9.6 5 L5 8.2 Z" fill="#23b7e5"/></svg>
<div class="t" style="right:8.3px;top:38.6px;font-size:5.8px;font-weight:bold;color:#26bf94;text-align:right">+25%</div>
<div class="t" style="right:8.3px;top:47.2px;font-size:4.95px;color:#a3a6ad;text-align:right">this month</div>
<svg class="a" style="left:0;top:0" width="165" height="63" viewBox="0 0 165 63"><defs><linearGradient id="g2" x1="0" x2="1" y1="0" y2="0"><stop offset="0" stop-color="#707384"/><stop offset=".45" stop-color="#4cc3ec"/><stop offset="1" stop-color="#4cc3ec"/></linearGradient></defs><path d="M114.55 17.55 C115.36 18.23 117.86 21.53 119.43 21.58 C121.00 21.64 122.30 18.82 123.98 17.88 C125.66 16.94 127.66 14.77 129.51 15.93 C131.35 17.09 133.08 23.72 135.03 24.84 C136.98 25.95 139.42 23.75 141.21 22.62 C143.00 21.50 144.14 17.84 145.76 18.07 C147.39 18.31 149.23 24.71 150.96 24.06 C152.70 23.41 155.30 15.82 156.16 14.17" fill="none" stroke="url(#g2)" stroke-width="1" stroke-linecap="round"/></svg>
</div>
<div class="card" style="left:281.3px;top:133.8px;width:165px;height:63px">
<div class="a" style="left:8.6px;top:8.8px;width:17.4px;height:17.4px;border-radius:50%;background:#26bf94"></div>
<svg class="a" style="left:13.6px;top:13.8px" width="7.4" height="7.4" viewBox="0 0 10 10"><path d="M1.5 8.5 L8.5 1.5 M6 1.5 H8.5 V4 M1.5 1.5 L4 4 M6 6 L8.5 8.5 M8.5 6 V8.5 H6" fill="none" stroke="#fff" stroke-width="1"/></svg>
<div class="t" style="left:32.6px;top:10.4px;font-size:5.75px;color:#8c9097">Conversion Ratio</div>
<div class="t" style="left:32.3px;top:19.2px;font-size:11.1px;color:#333335;-webkit-text-stroke:0.3px #333335;letter-spacing:-0.45px">12.08%</div>
<div class="t" style="left:32.6px;top:42.8px;font-size:5.85px;color:#26bf94">View All</div>
<svg class="a" style="left:57.2px;top:43.9px" width="4.6" height="4.6" viewBox="0 0 10 10"><path d="M0.8 5 H6" stroke="#26bf94" stroke-width="2"/><path d="M5 1.8 L9.6 5 L5 8.2 Z" fill="#26bf94"/></svg>
<div class="t" style="right:8.3px;top:38.6px;font-size:5.8px;font-weight:bold;color:#e6533c;text-align:right">-12%</div>
<div class="t" style="right:8.3px;top:47.2px;font-size:4.95px;color:#a3a6ad;text-align:right">this month</div>
<svg class="a" style="left:0;top:0" width="165" height="63" viewBox="0 0 165 63"><defs><linearGradient id="g3" x1="0" x2="1" y1="0" y2="0"><stop offset="0" stop-color="#707384"/><stop offset=".45" stop-color="#5ccba8"/><stop offset="1" stop-color="#5ccba8"/></linearGradient></defs><path d="M114.55 16.93 C115.53 16.93 118.78 17.14 120.40 16.93 C122.03 16.71 122.68 14.36 124.30 15.63 C125.93 16.90 128.37 23.61 130.16 24.54 C131.94 25.46 133.30 22.31 135.03 21.15 C136.77 19.99 138.77 17.14 140.56 17.58 C142.35 18.01 144.03 24.44 145.76 23.76 C147.49 23.07 149.17 13.70 150.96 13.48 C152.75 13.27 155.57 20.96 156.49 22.45" fill="none" stroke="url(#g3)" stroke-width="1" stroke-linecap="round"/></svg>
</div>
<div class="card" style="left:456.3px;top:133.8px;width:165px;height:63px">
<div class="a" style="left:8.6px;top:8.8px;width:17.4px;height:17.4px;border-radius:50%;background:#f5b849"></div>
<svg class="a" style="left:13.6px;top:13.8px" width="7.4" height="7.4" viewBox="0 0 10 10"><rect x="1.2" y="3" width="7.6" height="5.8" rx="1" fill="none" stroke="#fff" stroke-width="1"/><path d="M3.5 3 V1.8 H6.5 V3 M1.2 5.5 H8.8" fill="none" stroke="#fff" stroke-width="1"/></svg>
<div class="t" style="left:32.6px;top:10.4px;font-size:5.75px;color:#8c9097">Total Deals</div>
<div class="t" style="left:32.3px;top:19.2px;font-size:11.1px;color:#333335;-webkit-text-stroke:0.3px #333335;letter-spacing:0px">2,543</div>
<div class="t" style="left:32.6px;top:42.8px;font-size:5.85px;color:#f5b849">View All</div>
<svg class="a" style="left:57.2px;top:43.9px" width="4.6" height="4.6" viewBox="0 0 10 10"><path d="M0.8 5 H6" stroke="#f5b849" stroke-width="2"/><path d="M5 1.8 L9.6 5 L5 8.2 Z" fill="#f5b849"/></svg>
<div class="t" style="right:8.3px;top:38.6px;font-size:5.8px;font-weight:bold;color:#26bf94;text-align:right">+19%</div>
<div class="t" style="right:8.3px;top:47.2px;font-size:4.95px;color:#a3a6ad;text-align:right">this month</div>
<svg class="a" style="left:0;top:0" width="165" height="63" viewBox="0 0 165 63"><defs><linearGradient id="g4" x1="0" x2="1" y1="0" y2="0"><stop offset="0" stop-color="#707384"/><stop offset=".45" stop-color="#f5c060"/><stop offset="1" stop-color="#f5c060"/></linearGradient></defs><path d="M114.55 17.12 C115.53 17.12 118.78 17.41 120.40 17.12 C122.03 16.84 122.73 14.20 124.30 15.43 C125.88 16.67 127.99 23.42 129.83 24.54 C131.67 25.65 133.35 22.80 135.36 22.13 C137.36 21.46 140.13 21.26 141.86 20.50 C143.59 19.75 144.24 17.04 145.76 17.58 C147.28 18.12 149.23 24.41 150.96 23.76 C152.70 23.11 155.30 15.36 156.16 13.68" fill="none" stroke="url(#g4)" stroke-width="1" stroke-linecap="round"/></svg>
</div>
<div class="card" style="left:106px;top:134px;width:165.5px;height:132.5px">
<div class="ct" style="left:9px;top:9.5px">Top Deals</div>
<div class="a" style="left:145.4px;top:7px;width:11.6px;height:12px;background:#f1f2f6;border-radius:2px"></div>
<div class="a" style="left:150.7px;top:10.5px;width:1px;height:1px;background:#8e9198;box-shadow:0 2px 0 #8e9198,0 4px 0 #8e9198"></div>
<div class="hr" style="top:25.3px"></div>
<div class="a" style="left:9px;top:35.0px;width:16.6px;height:16.6px;border-radius:50%;background:#dfe9f7;overflow:hidden">
<div class="a" style="left:5px;top:4px;width:6.5px;height:7px;border-radius:45%;background:#f0c6a4"></div>
<div class="a" style="left:4.6px;top:2.6px;width:7.4px;height:3.2px;border-radius:3px 3px 0 0;background:#2b2b33"></div>
<div class="a" style="left:2.5px;top:11.5px;width:11.6px;height:7px;border-radius:5px 5px 0 0;background:#2e3d63"></div>
<div class="a" style="left:7.3px;top:11px;width:2px;height:5px;background:#e8ecf2"></div>
</div>
<div class="t" style="left:29px;top:36.2px;font-size:5.7px;font-weight:bold;color:#3a3b40">Michael Jordan</div>
<div class="t" style="left:29px;top:44.5px;font-size:5.25px;color:#90949b">michael.jordan@example.com</div>
<div class="t" style="right:8.5px;top:36.2px;font-size:7px;font-weight:bold;color:#3a3b40">$2,893</div>
<div class="a" style="left:9px;top:59.7px;width:16.6px;height:16.6px;border-radius:50%;background:#fdf5e6;color:#f5b849;font-size:5.5px;text-align:center;line-height:16.6px">EK</div>
<div class="t" style="left:29px;top:60.9px;font-size:5.7px;font-weight:bold;color:#3a3b40">Emigo Kiaren</div>
<div class="t" style="left:29px;top:69.2px;font-size:5.25px;color:#90949b">emigo.kiaren@gmail.com</div>
<div class="t" style="right:8.5px;top:60.9px;font-size:7px;font-weight:bold;color:#3a3b40">$4,289</div>
<div class="a" style="left:9px;top:82.7px;width:16.6px;height:16.6px;border-radius:50%;background:#e3e9ef;overflow:hidden">
<div class="a" style="left:4.8px;top:4px;width:7px;height:7.5px;border-radius:45%;background:#a8704c"></div>
<div class="a" style="left:4.4px;top:2.8px;width:7.8px;height:3.4px;border-radius:3.5px 3.5px 0 0;background:#2c211c"></div>
<div class="a" style="left:3px;top:12px;width:10.6px;height:6px;border-radius:5px 5px 0 0;background:#d9d9dc"></div>
</div>
<div class="t" style="left:29px;top:83.9px;font-size:5.7px;font-weight:bold;color:#3a3b40">Randy Origoan</div>
<div class="t" style="left:29px;top:92.2px;font-size:5.25px;color:#90949b">randy.origoan@gmail.com</div>
<div class="t" style="right:8.5px;top:83.9px;font-size:7px;font-weight:bold;color:#3a3b40">$6,347</div>
<div class="a" style="left:9px;top:107.1px;width:16.6px;height:16.6px;border-radius:50%;background:#e6f6f1;color:#26bf94;font-size:5.5px;font-weight:bold;text-align:center;line-height:16.6px">GP</div>
<div class="t" style="left:29px;top:108.3px;font-size:5.7px;font-weight:bold;color:#3a3b40">George Pieterson</div>
<div class="t" style="left:29px;top:116.6px;font-size:5.25px;color:#90949b">george.pieterson@gmail.com</div>
<div class="t" style="right:8.5px;top:108.3px;font-size:7px;font-weight:bold;color:#3a3b40">$3,894</div>
</div>
<div class="card" style="left:106px;top:277px;width:165.5px;height:122px">
<div class="ct" style="left:9px;top:8px">Profit Earned</div>
<div class="va" style="left:128px;top:8.5px">View All<svg style="display:inline-block;margin-left:2.2px;vertical-align:0.9px" width="3" height="2" viewBox="0 0 6 4"><path d="M.8 .8 L3 3 L5.2 .8" fill="none" stroke="#8c9097" stroke-width="1.1"/></svg></div>
<div class="hr" style="top:23.4px"></div>
<svg class="a" style="left:0;top:0" width="165" height="122" viewBox="0 0 165 122"><line x1="32.3" y1="91.40" x2="152.8" y2="91.40" stroke="#f0f0f2" stroke-width=".5"/><text x="29.5" y="93.10" font-size="4.9" fill="#7d8087" text-anchor="end" font-family="Liberation Sans">0</text><line x1="32.3" y1="81.86" x2="152.8" y2="81.86" stroke="#f0f0f2" stroke-width=".5"/><text x="29.5" y="83.56" font-size="4.9" fill="#7d8087" text-anchor="end" font-family="Liberation Sans">20</text><line x1="32.3" y1="72.32" x2="152.8" y2="72.32" stroke="#f0f0f2" stroke-width=".5"/><text x="29.5" y="74.02" font-size="4.9" fill="#7d8087" text-anchor="end" font-family="Liberation Sans">40</text><line x1="32.3" y1="62.78" x2="152.8" y2="62.78" stroke="#f0f0f2" stroke-width=".5"/><text x="29.5" y="64.48" font-size="4.9" fill="#7d8087" text-anchor="end" font-family="Liberation Sans">60</text><line x1="32.3" y1="53.24" x2="152.8" y2="53.24" stroke="#f0f0f2" stroke-width=".5"/><text x="29.5" y="54.94" font-size="4.9" fill="#7d8087" text-anchor="end" font-family="Liberation Sans">80</text><line x1="32.3" y1="43.70" x2="152.8" y2="43.70" stroke="#f0f0f2" stroke-width=".5"/><text x="29.5" y="45.40" font-size="4.9" fill="#7d8087" text-anchor="end" font-family="Liberation Sans">100</text><line x1="32.30" y1="43.7" x2="32.30" y2="91.4" stroke="#f0f0f2" stroke-width=".5"/><line x1="49.51" y1="43.7" x2="49.51" y2="91.4" stroke="#f0f0f2" stroke-width=".5"/><line x1="66.73" y1="43.7" x2="66.73" y2="91.4" stroke="#f0f0f2" stroke-width=".5"/><line x1="83.94" y1="43.7" x2="83.94" y2="91.4" stroke="#f0f0f2" stroke-width=".5"/><line x1="101.16" y1="43.7" x2="101.16" y2="91.4" stroke="#f0f0f2" stroke-width=".5"/><line x1="118.37" y1="43.7" x2="118.37" y2="91.4" stroke="#f0f0f2" stroke-width=".5"/><line x1="135.59" y1="43.7" x2="135.59" y2="91.4" stroke="#f0f0f2" stroke-width=".5"/><line x1="152.80" y1="43.7" x2="152.80" y2="91.4" stroke="#f0f0f2" stroke-width=".5"/><rect x="36.31" y="71.37" width="4" height="20.03" fill="#845adf"/><rect x="41.51" y="75.42" width="4" height="15.98" fill="#ececef"/><text x="40.91" y="102.3" font-size="5.2" fill="#7d8087" text-anchor="middle" font-family="Liberation Sans">S</text><rect x="53.52" y="72.32" width="4" height="19.08" fill="#845adf"/><rect x="58.72" y="81.38" width="4" height="10.02" fill="#ececef"/><text x="58.12" y="102.3" font-size="5.2" fill="#7d8087" text-anchor="middle" font-family="Liberation Sans">M</text><rect x="70.74" y="65.17" width="4" height="26.23" fill="#845adf"/><rect x="75.94" y="74.23" width="4" height="17.17" fill="#ececef"/><text x="75.34" y="102.3" font-size="5.2" fill="#7d8087" text-anchor="middle" font-family="Liberation Sans">T</text><rect x="87.95" y="51.57" width="4" height="39.83" fill="#845adf"/><rect x="93.15" y="65.17" width="4" height="26.23" fill="#ececef"/><text x="92.55" y="102.3" font-size="5.2" fill="#7d8087" text-anchor="middle" font-family="Liberation Sans">W</text><rect x="105.16" y="64.69" width="4" height="26.71" fill="#845adf"/><rect x="110.36" y="81.86" width="4" height="9.54" fill="#ececef"/><text x="109.76" y="102.3" font-size="5.2" fill="#7d8087" text-anchor="middle" font-family="Liberation Sans">T</text><rect x="122.38" y="66.12" width="4" height="25.28" fill="#845adf"/><rect x="127.58" y="75.18" width="4" height="16.22" fill="#ececef"/><text x="126.98" y="102.3" font-size="5.2" fill="#7d8087" text-anchor="middle" font-family="Liberation Sans">F</text><rect x="139.59" y="58.96" width="4" height="32.44" fill="#845adf"/><rect x="144.79" y="63.26" width="4" height="28.14" fill="#ececef"/><text x="144.19" y="102.3" font-size="5.2" fill="#7d8087" text-anchor="middle" font-family="Liberation Sans">S</text><text transform="translate(15.8,66.2) rotate(-90)" font-size="5.5" fill="#5f6268" text-anchor="middle" font-family="Liberation Sans">Profit Earned</text></svg>
</div>
<div class="card" style="left:281.3px;top:206px;width:340px;height:193.2px">
<div class="ct" style="left:8.5px;top:8px">Revenue Analytics</div>
<div class="va" style="left:302.5px;top:8.6px">View All<svg style="display:inline-block;margin-left:2.2px;vertical-align:0.9px" width="3" height="2" viewBox="0 0 6 4"><path d="M.8 .8 L3 3 L5.2 .8" fill="none" stroke="#8c9097" stroke-width="1.1"/></svg></div>
<div class="hr" style="top:23.3px"></div>
<div class="t" style="left:13px;top:30.5px;font-size:5.45px;color:#8c9097">Revenue Analytics with sales &amp; profit (USD)</div>
<svg class="a" style="left:276px;top:33.8px" width="53" height="7" viewBox="0 0 53 7">
<circle cx="3.2" cy="3.5" r="2.6" fill="none" stroke="#6e8192" stroke-width=".8"/><path d="M2 3.5 H4.4 M3.2 2.3 V4.7" stroke="#6e8192" stroke-width=".7"/>
<circle cx="11.5" cy="3.5" r="2.6" fill="none" stroke="#6e8192" stroke-width=".8"/><path d="M10.3 3.5 H12.7" stroke="#6e8192" stroke-width=".7"/>
<circle cx="19.5" cy="3" r="2.1" fill="none" stroke="#23b7e5" stroke-width="1"/><path d="M21 4.6 L23 6.6" stroke="#23b7e5" stroke-width="1.1"/>
<path d="M27 6.5 V3 Q27 2 28 2.2 V1 Q29 0.6 29.3 1.4 Q30.3 .8 30.5 1.8 Q31.5 1.6 31.5 2.6 V5.5 Q31 6.8 29.5 6.8 Z" fill="none" stroke="#6e8192" stroke-width=".7"/>
<path d="M36.2 3.8 L39.5 .8 L42.8 3.8 H42 V6.8 H37 V3.8 Z" fill="#5b6e86"/>
<path d="M46 1.5 H52 M46 3.5 H52 M46 5.5 H52" stroke="#6e8192" stroke-width=".9"/>
</svg>
<svg class="a" style="left:0;top:0" width="340" height="193.2" viewBox="0 0 340 193.2"><text x="26.1" y="157.00" font-size="4.8" fill="#7d8087" text-anchor="end" font-family="Liberation Sans">0</text><text x="26.1" y="136.46" font-size="4.8" fill="#7d8087" text-anchor="end" font-family="Liberation Sans">200</text><text x="26.1" y="115.92" font-size="4.8" fill="#7d8087" text-anchor="end" font-family="Liberation Sans">400</text><text x="26.1" y="95.38" font-size="4.8" fill="#7d8087" text-anchor="end" font-family="Liberation Sans">600</text><text x="26.1" y="74.84" font-size="4.8" fill="#7d8087" text-anchor="end" font-family="Liberation Sans">800</text><text x="26.1" y="54.30" font-size="4.8" fill="#7d8087" text-anchor="end" font-family="Liberation Sans">1000</text><text x="30.30" y="166.1" font-size="4.9" fill="#7d8087" text-anchor="middle" font-family="Liberation Sans">Jan</text><text x="56.81" y="166.1" font-size="4.9" fill="#7d8087" text-anchor="middle" font-family="Liberation Sans">Feb</text><text x="83.32" y="166.1" font-size="4.9" fill="#7d8087" text-anchor="middle" font-family="Liberation Sans">Mar</text><text x="109.83" y="166.1" font-size="4.9" fill="#7d8087" text-anchor="middle" font-family="Liberation Sans">Apr</text><text x="136.34" y="166.1" font-size="4.9" fill="#7d8087" text-anchor="middle" font-family="Liberation Sans">May</text><text x="162.85" y="166.1" font-size="4.9" fill="#7d8087" text-anchor="middle" font-family="Liberation Sans">Jun</text><text x="189.35" y="166.1" font-size="4.9" fill="#7d8087" text-anchor="middle" font-family="Liberation Sans">Jul</text><text x="215.86" y="166.1" font-size="4.9" fill="#7d8087" text-anchor="middle" font-family="Liberation Sans">Aug</text><text x="242.37" y="166.1" font-size="4.9" fill="#7d8087" text-anchor="middle" font-family="Liberation Sans">Sep</text><text x="268.88" y="166.1" font-size="4.9" fill="#7d8087" text-anchor="middle" font-family="Liberation Sans">Oct</text><text x="295.39" y="166.1" font-size="4.9" fill="#7d8087" text-anchor="middle" font-family="Liberation Sans">Nov</text><text x="321.90" y="166.1" font-size="4.9" fill="#7d8087" text-anchor="middle" font-family="Liberation Sans">Dec</text><path d="M30.30 139.07 C39.14 119.81 47.97 100.56 56.81 100.56 C65.65 100.56 74.48 144.51 83.32 144.51 C92.15 144.51 100.99 143.42 109.83 141.22 C118.66 139.03 127.50 110.07 136.34 107.13 C145.17 104.18 154.01 105.66 162.85 102.71 C171.68 99.77 180.52 76.42 189.35 76.42 C198.19 76.42 207.03 110.41 215.86 110.41 C224.70 110.41 233.54 109.70 242.37 108.26 C251.21 106.82 260.05 79.71 268.88 79.71 C277.72 79.71 286.55 105.25 295.39 106.00 C304.23 106.75 313.06 106.94 321.90 107.13 L321.90 155.50 L30.30 155.50 Z" fill="#f2f2f4"/><line x1="30.3" y1="155.50" x2="321.9" y2="155.50" stroke="#e6e6ea" stroke-width=".5" stroke-dasharray="1 1.2"/><line x1="30.3" y1="134.96" x2="321.9" y2="134.96" stroke="#e6e6ea" stroke-width=".5" stroke-dasharray="1 1.2"/><line x1="30.3" y1="114.42" x2="321.9" y2="114.42" stroke="#e6e6ea" stroke-width=".5" stroke-dasharray="1 1.2"/><line x1="30.3" y1="93.88" x2="321.9" y2="93.88" stroke="#e6e6ea" stroke-width=".5" stroke-dasharray="1 1.2"/><line x1="30.3" y1="73.34" x2="321.9" y2="73.34" stroke="#e6e6ea" stroke-width=".5" stroke-dasharray="1 1.2"/><line x1="30.3" y1="52.80" x2="321.9" y2="52.80" stroke="#e6e6ea" stroke-width=".5" stroke-dasharray="1 1.2"/><line x1="30.30" y1="52.8" x2="30.30" y2="155.5" stroke="#e6e6ea" stroke-width=".5" stroke-dasharray="1 1.2"/><line x1="56.81" y1="52.8" x2="56.81" y2="155.5" stroke="#e6e6ea" stroke-width=".5" stroke-dasharray="1 1.2"/><line x1="83.32" y1="52.8" x2="83.32" y2="155.5" stroke="#e6e6ea" stroke-width=".5" stroke-dasharray="1 1.2"/><line x1="109.83" y1="52.8" x2="109.83" y2="155.5" stroke="#e6e6ea" stroke-width=".5" stroke-dasharray="1 1.2"/><line x1="136.34" y1="52.8" x2="136.34" y2="155.5" stroke="#e6e6ea" stroke-width=".5" stroke-dasharray="1 1.2"/><line x1="162.85" y1="52.8" x2="162.85" y2="155.5" stroke="#e6e6ea" stroke-width=".5" stroke-dasharray="1 1.2"/><line x1="189.35" y1="52.8" x2="189.35" y2="155.5" stroke="#e6e6ea" stroke-width=".5" stroke-dasharray="1 1.2"/><line x1="215.86" y1="52.8" x2="215.86" y2="155.5" stroke="#e6e6ea" stroke-width=".5" stroke-dasharray="1 1.2"/><line x1="242.37" y1="52.8" x2="242.37" y2="155.5" stroke="#e6e6ea" stroke-width=".5" stroke-dasharray="1 1.2"/><line x1="268.88" y1="52.8" x2="268.88" y2="155.5" stroke="#e6e6ea" stroke-width=".5" stroke-dasharray="1 1.2"/><line x1="295.39" y1="52.8" x2="295.39" y2="155.5" stroke="#e6e6ea" stroke-width=".5" stroke-dasharray="1 1.2"/><line x1="321.90" y1="52.8" x2="321.90" y2="155.5" stroke="#e6e6ea" stroke-width=".5" stroke-dasharray="1 1.2"/><path d="M30.30 145.64 C39.14 139.89 47.97 134.14 56.81 134.14 C65.65 134.14 74.48 137.22 83.32 137.22 C92.15 137.22 100.99 109.29 109.83 109.29 C118.66 109.29 127.50 132.39 136.34 132.39 C145.17 132.39 154.01 129.11 162.85 122.53 C171.68 115.96 180.52 97.05 189.35 88.44 C198.19 79.83 207.03 70.88 215.86 70.88 C224.70 70.88 233.54 119.86 242.37 119.86 C251.21 119.86 260.05 119.86 268.88 119.86 C277.72 119.86 286.55 134.14 295.39 134.14 C304.23 134.14 313.06 123.92 321.90 113.70" fill="none" stroke="#ffffff" stroke-width="2.6" opacity=".9" transform="translate(0,1.2)"/><path d="M30.30 137.94 C39.14 114.83 47.97 91.72 56.81 91.72 C65.65 91.72 74.48 100.16 83.32 107.13 C92.15 114.09 100.99 133.52 109.83 133.52 C118.66 133.52 127.50 113.03 136.34 103.43 C145.17 93.83 154.01 75.91 162.85 75.91 C171.68 75.91 180.52 110.83 189.35 110.83 C198.19 110.83 207.03 107.83 215.86 102.71 C224.70 97.59 233.54 80.12 242.37 80.12 C251.21 80.12 260.05 109.29 268.88 109.29 C277.72 109.29 286.55 102.10 295.39 102.10 C304.23 102.10 313.06 117.24 321.90 132.39" fill="none" stroke="#23b7e5" stroke-width="1" stroke-dasharray="2 1.6"/><path d="M30.30 145.64 C39.14 139.89 47.97 134.14 56.81 134.14 C65.65 134.14 74.48 137.22 83.32 137.22 C92.15 137.22 100.99 109.29 109.83 109.29 C118.66 109.29 127.50 132.39 136.34 132.39 C145.17 132.39 154.01 129.11 162.85 122.53 C171.68 115.96 180.52 97.05 189.35 88.44 C198.19 79.83 207.03 70.88 215.86 70.88 C224.70 70.88 233.54 119.86 242.37 119.86 C251.21 119.86 260.05 119.86 268.88 119.86 C277.72 119.86 286.55 134.14 295.39 134.14 C304.23 134.14 313.06 123.92 321.90 113.70" fill="none" stroke="#845adf" stroke-width="1.1"/><circle cx="133.2" cy="174.7" r="2.5" fill="#f0f0f3"/><text x="139.3" y="176.4" font-size="4.9" fill="#4a4b50" font-family="Liberation Sans">Sales</text><circle cx="158.3" cy="174.7" r="2.5" fill="#23b7e5"/><text x="164.7" y="176.4" font-size="4.9" fill="#4a4b50" font-family="Liberation Sans">Revenue</text><circle cx="191.5" cy="174.7" r="2.5" fill="#845adf"/><text x="197.5" y="176.4" font-size="4.9" fill="#4a4b50" font-family="Liberation Sans">Profit</text></svg>
</div>
<div class="card" style="left:631px;top:62px;width:165px;height:180.5px">
<div class="ct" style="left:8.5px;top:9.3px">Leads By Source</div>
<div class="a" style="left:145.3px;top:8px;width:11.2px;height:11px;background:#f1f2f6;border-radius:2px"></div>
<div class="a" style="left:150.4px;top:11px;width:1px;height:1px;background:#8e9198;box-shadow:0 2px 0 #8e9198,0 4px 0 #8e9198"></div>
<div class="hr" style="top:25.6px"></div>
<svg class="a" style="left:0;top:0" width="165" height="181" viewBox="0 0 165 181"><path d="M123.29 106.16 A44.65 44.65 0 0 1 52.62 121.18" fill="none" stroke="#23b7e5" stroke-width="7.9" stroke-linecap="round"/><path d="M82.50 43.35 A44.65 44.65 0 0 1 123.29 106.16" fill="none" stroke="#845adf" stroke-width="7.9" stroke-linecap="round"/><path d="M44.63 64.34 A44.65 44.65 0 0 1 82.50 43.35" fill="none" stroke="#26bf94" stroke-width="7.9" stroke-linecap="round"/><path d="M52.62 121.18 A44.65 44.65 0 0 1 44.63 64.34" fill="none" stroke="#f5b849" stroke-width="7.9" stroke-linecap="round"/></svg>
<div class="t" style="left:0;width:165px;text-align:center;top:75.3px;font-size:6.4px;color:#8c9097">Total</div>
<div class="t" style="left:0;width:165px;text-align:center;top:82.5px;font-size:11px;font-weight:bold;color:#35363a">4,145</div>
<div class="a" style="left:0;right:0;top:146.7px;height:0;border-top:0.6px dashed #f1f1f4"></div>
<div class="a" style="left:38.6px;top:146.7px;height:34px;width:0;border-left:0.6px dashed #f1f1f4"></div>
<div class="a" style="left:82.5px;top:146.7px;height:34px;width:0;border-left:0.6px dashed #f1f1f4"></div>
<div class="a" style="left:126.2px;top:146.7px;height:34px;width:0;border-left:0.6px dashed #f1f1f4"></div>
<div class="t" style="left:-2.0px;width:38.6px;text-align:center;top:155.3px;font-size:5.4px;color:#8c9097"><span style="display:inline-block;width:2.6px;height:2.6px;border-radius:1.3px;background:#845adf;margin-right:1.8px;vertical-align:0.5px"></span>Mobile</div>
<div class="t" style="left:-1.0px;width:38.6px;text-align:center;top:165.2px;font-size:6.8px;font-weight:bold;color:#3a3b40">1,624</div>
<div class="t" style="left:37.3px;width:43.9px;text-align:center;top:155.3px;font-size:5.4px;color:#8c9097"><span style="display:inline-block;width:2.6px;height:2.6px;border-radius:1.3px;background:#23b7e5;margin-right:1.8px;vertical-align:0.5px"></span>Desktop</div>
<div class="t" style="left:38.6px;width:43.9px;text-align:center;top:165.2px;font-size:6.8px;font-weight:bold;color:#3a3b40">1,267</div>
<div class="t" style="left:81.3px;width:43.7px;text-align:center;top:155.3px;font-size:5.4px;color:#8c9097"><span style="display:inline-block;width:2.6px;height:2.6px;border-radius:1.3px;background:#f5b849;margin-right:1.8px;vertical-align:0.5px"></span>Laptop</div>
<div class="t" style="left:82.8px;width:43.7px;text-align:center;top:165.2px;font-size:6.8px;font-weight:bold;color:#3a3b40">1,153</div>
<div class="t" style="left:127.4px;width:38.8px;text-align:center;top:155.3px;font-size:5.4px;color:#8c9097"><span style="display:inline-block;width:2.6px;height:2.6px;border-radius:1.3px;background:#26bf94;margin-right:1.8px;vertical-align:0.5px"></span>Tablet</div>
<div class="t" style="left:128.7px;width:38.8px;text-align:center;top:165.2px;font-size:6.8px;font-weight:bold;color:#3a3b40">679</div>
</div>
<div class="card" style="left:631px;top:252.7px;width:165px;height:127.2px">
<div class="ct" style="left:8.7px;top:7.8px">Deals Status</div>
<div class="va" style="left:127.8px;top:8.3px">View All<svg style="display:inline-block;margin-left:2.2px;vertical-align:0.9px" width="3" height="2" viewBox="0 0 6 4"><path d="M.8 .8 L3 3 L5.2 .8" fill="none" stroke="#8c9097" stroke-width="1.1"/></svg></div>
<div class="hr" style="top:21.9px"></div>
<div class="t" style="left:8.5px;top:31.8px;font-size:11.5px;font-weight:bold;color:#35363a">4,289</div>
<div class="a" style="left:41.2px;top:34.3px;width:20.2px;height:7.2px;background:#e5f6f0;border-radius:1.5px;font-size:4.1px;color:#26bf94;line-height:7.2px;text-align:center">1.02 &#9650;</div>
<div class="t" style="left:65.0px;top:34.1px;font-size:5.85px;color:#8c9097">compared to last week</div>
<div class="a" style="left:8.7px;top:50.3px;width:30.5px;height:2px;background:#845adf;border-radius:1px"></div>
<div class="a" style="left:39.8px;top:50.3px;width:37.9px;height:2px;background:#23b7e5;border-radius:1px"></div>
<div class="a" style="left:78.4px;top:50.3px;width:51.5px;height:2px;background:#f5b849;border-radius:1px"></div>
<div class="a" style="left:130.3px;top:50.3px;width:26.4px;height:2px;background:#26bf94;border-radius:1px"></div>
<div class="a" style="left:8.4px;top:68.8px;width:3.2px;height:3.2px;border-radius:1.6px;background:#845adf"></div>
<div class="t" style="left:15.5px;top:67.0px;font-size:5.75px;color:#333335">Successful Deals</div>
<div class="t" style="right:8.3px;top:67.2px;font-size:5.45px;color:#a0a3aa">987 deals</div>
<div class="a" style="left:8.4px;top:83.4px;width:3.2px;height:3.2px;border-radius:1.6px;background:#23b7e5"></div>
<div class="t" style="left:15.5px;top:81.6px;font-size:5.75px;color:#333335">Pending Deals</div>
<div class="t" style="right:8.3px;top:81.8px;font-size:5.45px;color:#a0a3aa">1,073 deals</div>
<div class="a" style="left:8.4px;top:98.7px;width:3.2px;height:3.2px;border-radius:1.6px;background:#f5b849"></div>
<div class="t" style="left:15.5px;top:96.9px;font-size:5.75px;color:#333335">Rejected Deals</div>
<div class="t" style="right:8.3px;top:97.1px;font-size:5.45px;color:#a0a3aa">1,674 deals</div>
<div class="a" style="left:8.4px;top:113.1px;width:3.2px;height:3.2px;border-radius:1.6px;background:#26bf94"></div>
<div class="t" style="left:15.5px;top:111.3px;font-size:5.75px;color:#333335">Upcoming Deals</div>
<div class="t" style="right:8.3px;top:111.5px;font-size:5.45px;color:#a0a3aa">921 deals</div>
</div>
<div class="card" style="left:631px;top:390.7px;width:165px;height:220px">
<div class="ct" style="left:8.7px;top:7.8px">Recent Activity</div>
<div class="va" style="left:127px;top:8.1px">View All<svg style="display:inline-block;margin-left:2.2px;vertical-align:0.9px" width="3" height="2" viewBox="0 0 6 4"><path d="M.8 .8 L3 3 L5.2 .8" fill="none" stroke="#8c9097" stroke-width="1.1"/></svg></div>
<div class="hr" style="top:21.2px"></div>
<div class="a" style="left:12.45px;top:34.3px;height:165.0px;width:0;border-left:0.7px solid #f0f1f5"></div>
<div class="a" style="left:9.0px;top:30.9px;width:7.4px;height:7.4px;border-radius:50%;background:#eee8fb"></div>
<div class="a" style="left:11.2px;top:33.1px;width:3px;height:3px;border-radius:50%;background:#6c3fd6"></div>
<div class="t" style="left:23.7px;top:31.0px;font-size:5.65px;color:#333335;line-height:8.1px"><span style="color:#2b2c30;-webkit-text-stroke:.22px #2b2c30;letter-spacing:.12px">Update of calendar events &amp;</span> <span style="color:#845adf;-webkit-text-stroke:.22px #845adf;letter-spacing:.12px">Added</span><br><span style="color:#845adf;-webkit-text-stroke:.22px #845adf;letter-spacing:.12px">new events in next week.</span></div>
<div class="t" style="right:8px;top:31.9px;font-size:5.1px;color:#a0a3aa">4:45PM</div>
<div class="a" style="left:9.0px;top:56.9px;width:7.4px;height:7.4px;border-radius:50%;background:#e4f5fc"></div>
<div class="a" style="left:11.2px;top:59.1px;width:3px;height:3px;border-radius:50%;background:#23b7e5"></div>
<div class="t" style="left:23.7px;top:57.0px;font-size:5.65px;color:#333335;line-height:8.1px">New theme for <b>Spruko Website</b><br>completed<br><span style="color:#8c9097;font-size:5.2px;line-height:7.5px">Lorem ipsum, dolor sit amet.</span></div>
<div class="t" style="right:8px;top:57.9px;font-size:5.1px;color:#a0a3aa">3 hrs</div>
<div class="a" style="left:9.0px;top:90.5px;width:7.4px;height:7.4px;border-radius:50%;background:#e4f6f0"></div>
<div class="a" style="left:11.2px;top:92.7px;width:3px;height:3px;border-radius:50%;background:#26bf94"></div>
<div class="t" style="left:23.7px;top:90.6px;font-size:5.65px;color:#333335;line-height:8.1px">Created a <span style="color:#26bf94">New Task</span> today <span style="display:inline-block;width:8px;height:8px;border-radius:50%;background:#efe9fb;color:#845adf;font-size:5.5px;line-height:8px;text-align:center;vertical-align:0px;margin-left:1px">+</span></div>
<div class="t" style="right:8px;top:91.5px;font-size:5.1px;color:#a0a3aa">22 hrs</div>
<div class="a" style="left:9.0px;top:107.9px;width:7.4px;height:7.4px;border-radius:50%;background:#fcecf1"></div>
<div class="a" style="left:11.2px;top:110.1px;width:3px;height:3px;border-radius:50%;background:#ee8da6"></div>
<div class="t" style="left:23.7px;top:108.0px;font-size:5.65px;color:#333335;line-height:8.1px">New member <span style="display:inline-block;background:#fcedf1;color:#ee8da6;font-size:4.3px;padding:0 2.2px;line-height:6.4px;vertical-align:0.3px;border-radius:1px;margin:0 1.2px">@andreas gururo</span> added<br>today to AI Summit.</div>
<div class="t" style="right:8px;top:108.9px;font-size:5.1px;color:#a0a3aa">Today</div>
<div class="a" style="left:9.0px;top:133.5px;width:7.4px;height:7.4px;border-radius:50%;background:#fdf4e4"></div>
<div class="a" style="left:11.2px;top:135.7px;width:3px;height:3px;border-radius:50%;background:#f5b849"></div>
<div class="t" style="left:23.7px;top:133.6px;font-size:5.65px;color:#333335;line-height:8.1px">32 New people joined summit.</div>
<div class="t" style="right:8px;top:134.5px;font-size:5.1px;color:#a0a3aa">22 hrs</div>
<div class="a" style="left:9.0px;top:151.3px;width:7.4px;height:7.4px;border-radius:50%;background:#e4f5fc"></div>
<div class="a" style="left:11.2px;top:153.5px;width:3px;height:3px;border-radius:50%;background:#23b7e5"></div>
<div class="t" style="left:23.7px;top:151.4px;font-size:5.65px;color:#333335;line-height:8.1px">Neon Tarly added <span style="color:#23b7e5">Robert Bright</span> to AI<br>summit project.</div>
<div class="t" style="right:8px;top:152.3px;font-size:5.1px;color:#a0a3aa">12 hrs</div>
<div class="a" style="left:9.0px;top:177.3px;width:7.4px;height:7.4px;border-radius:50%;background:#eceef2"></div>
<div class="a" style="left:11.2px;top:179.5px;width:3px;height:3px;border-radius:50%;background:#111111"></div>
<div class="t" style="left:23.7px;top:177.4px;font-size:5.65px;color:#333335;line-height:8.1px">Replied to new support request <span style="display:inline-block;width:5px;height:5px;border-radius:50%;border:0.7px solid #26bf94;vertical-align:-1px;margin-left:.5px"></span></div>
<div class="t" style="right:8px;top:178.3px;font-size:5.1px;color:#a0a3aa">4 hrs</div>
<div class="a" style="left:9.0px;top:195.9px;width:7.4px;height:7.4px;border-radius:50%;background:#efe9fb"></div>
<div class="a" style="left:11.2px;top:198.1px;width:3px;height:3px;border-radius:50%;background:#6b3bc4"></div>
<div class="t" style="left:23.7px;top:196.0px;font-size:5.65px;color:#333335;line-height:8.1px">Completed documentation of <span style="color:#845adf;text-decoration:underline;font-weight:bold">AI</span><br><span style="color:#845adf;text-decoration:underline;font-weight:bold">Summit.</span></div>
<div class="t" style="right:8px;top:196.9px;font-size:5.1px;color:#a0a3aa">4 hrs</div>
</div>
<div class="card" style="left:106px;top:409.8px;width:515.3px;height:201px">
<div class="ct" style="left:9px;top:9px">Deals Statistics</div>
<div class="a" style="left:382.6px;top:6.8px;width:85.4px;height:12.1px;border:0.6px solid #e9eaef;border-radius:2.2px"></div>
<div class="t" style="left:388.0px;top:9.8px;font-size:5.3px;color:#b5b8be">Search Here</div>
<div class="a" style="left:474.7px;top:6.8px;width:31.8px;height:11.1px;background:#845adf;border-radius:2px"></div>
<div class="t" style="left:479.3px;top:9.5px;font-size:5.3px;color:#fff;-webkit-text-stroke:.3px #fff">Sort By</div>
<svg class="a" style="left:499.3px;top:11.8px" width="3" height="2" viewBox="0 0 6 4"><path d="M.8 .8 L3 3 L5.2 .8" fill="none" stroke="#fff" stroke-width="1.2"/></svg>
<div class="hr" style="top:25.8px"></div>
<div class="a" style="left:9.0px;top:34.4px;width:0.6px;height:130.0px;background:#f1f1f4"></div>
<div class="a" style="left:38.2px;top:34.4px;width:0.6px;height:130.0px;background:#f1f1f4"></div>
<div class="a" style="left:130.9px;top:34.4px;width:0.6px;height:130.0px;background:#f1f1f4"></div>
<div class="a" style="left:201.4px;top:34.4px;width:0.6px;height:130.0px;background:#f1f1f4"></div>
<div class="a" style="left:314.4px;top:34.4px;width:0.6px;height:130.0px;background:#f1f1f4"></div>
<div class="a" style="left:363.6px;top:34.4px;width:0.6px;height:130.0px;background:#f1f1f4"></div>
<div class="a" style="left:456.0px;top:34.4px;width:0.6px;height:130.0px;background:#f1f1f4"></div>
<div class="a" style="left:506.5px;top:34.4px;width:0.6px;height:130.0px;background:#f1f1f4"></div>
<div class="a" style="left:9.0px;top:34.4px;width:497.5px;height:0.6px;background:#f1f1f4"></div>
<div class="a" style="left:9.0px;top:53.3px;width:497.5px;height:0.6px;background:#f1f1f4"></div>
<div class="a" style="left:9.0px;top:75.1px;width:497.5px;height:0.6px;background:#f1f1f4"></div>
<div class="a" style="left:9.0px;top:97.4px;width:497.5px;height:0.6px;background:#f1f1f4"></div>
<div class="a" style="left:9.0px;top:119.8px;width:497.5px;height:0.6px;background:#f1f1f4"></div>
<div class="a" style="left:9.0px;top:142.2px;width:497.5px;height:0.6px;background:#f1f1f4"></div>
<div class="a" style="left:9.0px;top:164.4px;width:497.5px;height:0.6px;background:#f1f1f4"></div>
<div class="a" style="left:19.2px;top:40.9px;width:5.8px;height:5.8px;border:0.6px solid #e3e5ea;border-radius:1.2px"></div>
<div class="t" style="left:43.5px;top:40.8px;font-size:5.5px;font-weight:bold;color:#3a3b40">Sales Rep</div>
<div class="t" style="left:135.7px;top:40.8px;font-size:5.5px;font-weight:bold;color:#3a3b40">Category</div>
<div class="t" style="left:207.0px;top:40.8px;font-size:5.5px;font-weight:bold;color:#3a3b40">Mail</div>
<div class="t" style="left:319.6px;top:40.8px;font-size:5.5px;font-weight:bold;color:#3a3b40">Location</div>
<div class="t" style="left:368.8px;top:40.8px;font-size:5.5px;font-weight:bold;color:#3a3b40">Date</div>
<div class="t" style="left:461.5px;top:40.8px;font-size:5.5px;font-weight:bold;color:#3a3b40">Action</div>
<div class="a" style="left:19.2px;top:61.3px;width:5.8px;height:5.8px;border:0.6px solid #e9ebef;border-radius:1.2px"></div>
<div class="a" style="left:43.2px;top:58.4px;width:11.6px;height:11.6px;border-radius:50%;background:#fde8dc;overflow:hidden">
<div class="a" style="left:3.4px;top:2.6px;width:4.8px;height:5.6px;border-radius:45%;background:#e9b48e"></div>
<div class="a" style="left:3px;top:1.8px;width:5.6px;height:2.6px;border-radius:2.6px 2.6px 1px 1px;background:#6b3a2a"></div>
<div class="a" style="left:2px;top:8.4px;width:7.6px;height:5px;border-radius:3px 3px 0 0;background:#e07a55"></div>
</div>
<div class="t" style="left:58.5px;top:61.1px;font-size:5.65px;font-weight:bold;color:#3a3b40">Mayor Kelly</div>
<div class="t" style="left:135.7px;top:61.0px;font-size:5.85px;color:#333335">Manufacture</div>
<div class="t" style="left:207.0px;top:61.0px;font-size:5.85px;color:#333335">mayorkelly@gmail.com</div>
<div class="t" style="left:319.6px;top:60.4px;font-size:4.1px;color:#23b7e5;background:#e6f6fc;padding:0 2.6px;line-height:7.6px;border-radius:1.2px">Germany</div>
<div class="t" style="left:368.8px;top:61.0px;font-size:5.85px;color:#333335">Sep 15 - Oct 12, 2023</div>
<div class="a" style="left:461.5px;top:58.7px;width:11.8px;height:11px;background:#e6f7f2;border-radius:2px"></div>
<svg class="a" style="left:464.9px;top:61.7px" width="5" height="5" viewBox="0 0 10 10"><path d="M1.5 6.5 V8.8 H8.5 V6.5 M5 1.5 V6.5 M3 4.5 L5 6.5 L7 4.5" fill="none" stroke="#26bf94" stroke-width="1.2"/></svg>
<div class="a" style="left:476.7px;top:58.7px;width:11.5px;height:11px;background:#f0ebfb;border-radius:2px"></div>
<svg class="a" style="left:479.9px;top:61.7px" width="5" height="5" viewBox="0 0 10 10"><path d="M2 8.5 L2.5 6 L7 1.5 L8.5 3 L4 7.5 Z M1.5 9 H8.5" fill="none" stroke="#845adf" stroke-width="1.1"/></svg>
<div class="a" style="left:19.2px;top:83.3px;width:5.8px;height:5.8px;background:#845adf;border-radius:1.1px"></div>
<svg class="a" style="left:19.2px;top:83.3px" width="5.8" height="5.8" viewBox="0 0 10 10"><path d="M2.6 5.2 L4.4 7 L7.6 3.3" fill="none" stroke="#fff" stroke-width="1.5"/></svg>
<div class="a" style="left:43.2px;top:80.4px;width:11.6px;height:11.6px;border-radius:50%;background:#d9f1f6;overflow:hidden">
<div class="a" style="left:3.4px;top:2.6px;width:4.8px;height:5.6px;border-radius:45%;background:#e9b48e"></div>
<div class="a" style="left:3px;top:1.8px;width:5.6px;height:2.6px;border-radius:2.6px 2.6px 1px 1px;background:#2b2b30"></div>
<div class="a" style="left:2px;top:8.4px;width:7.6px;height:5px;border-radius:3px 3px 0 0;background:#e8e8ea"></div>
</div>
<div class="t" style="left:58.5px;top:83.1px;font-size:5.65px;font-weight:bold;color:#3a3b40">Andrew Garfield</div>
<div class="t" style="left:135.7px;top:83.0px;font-size:5.85px;color:#333335">Development</div>
<div class="t" style="left:207.0px;top:83.0px;font-size:5.85px;color:#333335">andrewgarfield@gmail.com</div>
<div class="t" style="left:319.6px;top:82.4px;font-size:4.1px;color:#845adf;background:#f0ebfb;padding:0 2.6px;line-height:7.6px;border-radius:1.2px">Canada</div>
<div class="t" style="left:368.8px;top:83.0px;font-size:5.85px;color:#333335">Apr 10 - Dec 12, 2023</div>
<div class="a" style="left:461.5px;top:80.7px;width:11.8px;height:11px;background:#e6f7f2;border-radius:2px"></div>
<svg class="a" style="left:464.9px;top:83.7px" width="5" height="5" viewBox="0 0 10 10"><path d="M1.5 6.5 V8.8 H8.5 V6.5 M5 1.5 V6.5 M3 4.5 L5 6.5 L7 4.5" fill="none" stroke="#26bf94" stroke-width="1.2"/></svg>
<div class="a" style="left:476.7px;top:80.7px;width:11.5px;height:11px;background:#f0ebfb;border-radius:2px"></div>
<svg class="a" style="left:479.9px;top:83.7px" width="5" height="5" viewBox="0 0 10 10"><path d="M2 8.5 L2.5 6 L7 1.5 L8.5 3 L4 7.5 Z M1.5 9 H8.5" fill="none" stroke="#845adf" stroke-width="1.1"/></svg>
<div class="a" style="left:19.2px;top:105.7px;width:5.8px;height:5.8px;border:0.6px solid #e9ebef;border-radius:1.2px"></div>
<div class="a" style="left:43.2px;top:102.8px;width:11.6px;height:11.6px;border-radius:50%;background:#e4f3e0;overflow:hidden">
<div class="a" style="left:3.4px;top:2.6px;width:4.8px;height:5.6px;border-radius:45%;background:#e9b48e"></div>
<div class="a" style="left:3px;top:1.8px;width:5.6px;height:2.6px;border-radius:2.6px 2.6px 1px 1px;background:#6a3a22"></div>
<div class="a" style="left:2px;top:8.4px;width:7.6px;height:5px;border-radius:3px 3px 0 0;background:#b86a3a"></div>
</div>
<div class="t" style="left:58.5px;top:105.5px;font-size:5.65px;font-weight:bold;color:#3a3b40">Simon Cowel</div>
<div class="t" style="left:135.7px;top:105.4px;font-size:5.85px;color:#333335">Service</div>
<div class="t" style="left:207.0px;top:105.4px;font-size:5.85px;color:#333335">simoncowel234@gmail.com</div>
<div class="t" style="left:319.6px;top:104.8px;font-size:4.1px;color:#e6533c;background:#fcecea;padding:0 2.6px;line-height:7.6px;border-radius:1.2px">Europe</div>
<div class="t" style="left:368.8px;top:105.4px;font-size:5.85px;color:#333335">Sep 15 - Oct 12, 2023</div>
<div class="a" style="left:461.5px;top:103.1px;width:11.8px;height:11px;background:#e6f7f2;border-radius:2px"></div>
<svg class="a" style="left:464.9px;top:106.1px" width="5" height="5" viewBox="0 0 10 10"><path d="M1.5 6.5 V8.8 H8.5 V6.5 M5 1.5 V6.5 M3 4.5 L5 6.5 L7 4.5" fill="none" stroke="#26bf94" stroke-width="1.2"/></svg>
<div class="a" style="left:476.7px;top:103.1px;width:11.5px;height:11px;background:#f0ebfb;border-radius:2px"></div>
<svg class="a" style="left:479.9px;top:106.1px" width="5" height="5" viewBox="0 0 10 10"><path d="M2 8.5 L2.5 6 L7 1.5 L8.5 3 L4 7.5 Z M1.5 9 H8.5" fill="none" stroke="#845adf" stroke-width="1.1"/></svg>
<div class="a" style="left:19.2px;top:128.1px;width:5.8px;height:5.8px;background:#845adf;border-radius:1.1px"></div>
<svg class="a" style="left:19.2px;top:128.1px" width="5.8" height="5.8" viewBox="0 0 10 10"><path d="M2.6 5.2 L4.4 7 L7.6 3.3" fill="none" stroke="#fff" stroke-width="1.5"/></svg>
<div class="a" style="left:43.2px;top:125.2px;width:11.6px;height:11.6px;border-radius:50%;background:#fdeede;overflow:hidden">
<div class="a" style="left:3.4px;top:2.6px;width:4.8px;height:5.6px;border-radius:45%;background:#e9b48e"></div>
<div class="a" style="left:3px;top:1.8px;width:5.6px;height:2.6px;border-radius:2.6px 2.6px 1px 1px;background:#5a2a1a"></div>
<div class="a" style="left:2px;top:8.4px;width:7.6px;height:5px;border-radius:3px 3px 0 0;background:#2b2b30"></div>
</div>
<div class="t" style="left:58.5px;top:127.9px;font-size:5.65px;font-weight:bold;color:#3a3b40">Mirinda Hers</div>
<div class="t" style="left:135.7px;top:127.8px;font-size:5.85px;color:#333335">Marketing</div>
<div class="t" style="left:207.0px;top:127.8px;font-size:5.85px;color:#333335">mirindahers@gmail.com</div>
<div class="t" style="left:319.6px;top:127.2px;font-size:4.1px;color:#f5b849;background:#fef6e9;padding:0 2.6px;line-height:7.6px;border-radius:1.2px">USA</div>
<div class="t" style="left:368.8px;top:127.8px;font-size:5.85px;color:#333335">Apr 14 - Dec 14, 2023</div>
<div class="a" style="left:461.5px;top:125.5px;width:11.8px;height:11px;background:#e6f7f2;border-radius:2px"></div>
<svg class="a" style="left:464.9px;top:128.5px" width="5" height="5" viewBox="0 0 10 10"><path d="M1.5 6.5 V8.8 H8.5 V6.5 M5 1.5 V6.5 M3 4.5 L5 6.5 L7 4.5" fill="none" stroke="#26bf94" stroke-width="1.2"/></svg>
<div class="a" style="left:476.7px;top:125.5px;width:11.5px;height:11px;background:#f0ebfb;border-radius:2px"></div>
<svg class="a" style="left:479.9px;top:128.5px" width="5" height="5" viewBox="0 0 10 10"><path d="M2 8.5 L2.5 6 L7 1.5 L8.5 3 L4 7.5 Z M1.5 9 H8.5" fill="none" stroke="#845adf" stroke-width="1.1"/></svg>
<div class="a" style="left:19.2px;top:150.4px;width:5.8px;height:5.8px;background:#845adf;border-radius:1.1px"></div>
<svg class="a" style="left:19.2px;top:150.4px" width="5.8" height="5.8" viewBox="0 0 10 10"><path d="M2.6 5.2 L4.4 7 L7.6 3.3" fill="none" stroke="#fff" stroke-width="1.5"/></svg>
<div class="a" style="left:43.2px;top:147.5px;width:11.6px;height:11.6px;border-radius:50%;background:#dde6f5;overflow:hidden">
<div class="a" style="left:3.4px;top:2.6px;width:4.8px;height:5.6px;border-radius:45%;background:#e9b48e"></div>
<div class="a" style="left:3px;top:1.8px;width:5.6px;height:2.6px;border-radius:2.6px 2.6px 1px 1px;background:#2b2420"></div>
<div class="a" style="left:2px;top:8.4px;width:7.6px;height:5px;border-radius:3px 3px 0 0;background:#8a7a6a"></div>
</div>
<div class="t" style="left:58.5px;top:150.2px;font-size:5.65px;font-weight:bold;color:#3a3b40">Jacob Smith</div>
<div class="t" style="left:135.7px;top:150.1px;font-size:5.85px;color:#333335">Social Plataform</div>
<div class="t" style="left:207.0px;top:150.1px;font-size:5.85px;color:#333335">jacobsmith@gmail.com</div>
<div class="t" style="left:319.6px;top:149.5px;font-size:4.1px;color:#26bf94;background:#e6f7f2;padding:0 2.6px;line-height:7.6px;border-radius:1.2px">Singapore</div>
<div class="t" style="left:368.8px;top:150.1px;font-size:5.85px;color:#333335">Feb 25 - Nov 25, 2023</div>
<div class="a" style="left:461.5px;top:147.8px;width:11.8px;height:11px;background:#e6f7f2;border-radius:2px"></div>
<svg class="a" style="left:464.9px;top:150.8px" width="5" height="5" viewBox="0 0 10 10"><path d="M1.5 6.5 V8.8 H8.5 V6.5 M5 1.5 V6.5 M3 4.5 L5 6.5 L7 4.5" fill="none" stroke="#26bf94" stroke-width="1.2"/></svg>
<div class="a" style="left:476.7px;top:147.8px;width:11.5px;height:11px;background:#f0ebfb;border-radius:2px"></div>
<svg class="a" style="left:479.9px;top:150.8px" width="5" height="5" viewBox="0 0 10 10"><path d="M2 8.5 L2.5 6 L7 1.5 L8.5 3 L4 7.5 Z M1.5 9 H8.5" fill="none" stroke="#845adf" stroke-width="1.1"/></svg>
<div class="hr" style="top:173.0px"></div>
<div class="t" style="left:9px;top:183.7px;font-size:5.75px;color:#8c9097">Showing 5 Entries &nbsp;&nbsp;<span style="color:#555;font-size:6px;-webkit-text-stroke:.3px #555">&#8594;</span></div>
<div class="t" style="left:444.0px;top:184.2px;font-size:5.8px;color:#8c9097">Prev</div>
<div class="a" style="left:460.5px;top:180.6px;width:12.2px;height:13.7px;background:#845adf;border-radius:2px;font-size:5.6px;color:#fff;text-align:center;line-height:13.7px">1</div>
<div class="t" style="left:477.3px;top:184.2px;font-size:5.8px;color:#333335">2</div>
<div class="t" style="left:490.6px;top:184.2px;font-size:5.8px;color:#845adf">next</div>
</div>
<div class="a" style="left:98px;top:620.5px;width:702px;height:16px;background:#fff;border-top:0.6px solid #eef0f4"></div>
<div class="t" style="left:358px;top:628.2px;font-size:5.93px;color:#8c9097">Copyright &copy; 2023 <b style="color:#333335">Ynex</b>. Designed with <span style="color:#e6533c">&#10084;</span> by <span style="color:#845adf;text-decoration:underline">Spruko</span> All rights reserved</div>
</body></html>
